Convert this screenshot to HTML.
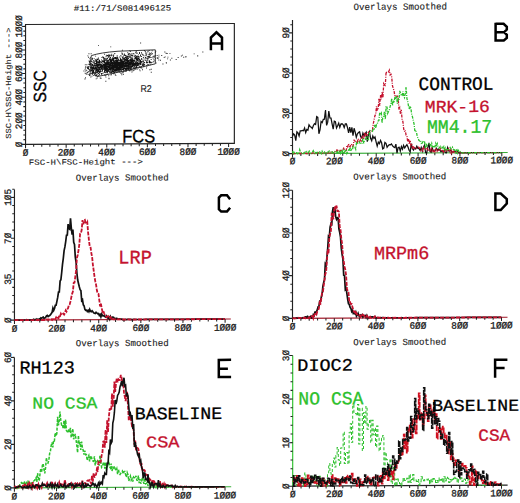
<!DOCTYPE html>
<html><head><meta charset="utf-8"><style>
html,body{margin:0;padding:0;background:#fff;width:520px;height:503px;overflow:hidden}
svg{display:block}
</style></head><body>
<svg width="520" height="503" viewBox="0 0 520 503">
<rect width="520" height="503" fill="#fff"/>
<g transform="matrix(1,-0.005,0,1,0,1.3)">
<rect x="25.54" y="23.37" width="208.81" height="119.82" fill="none" stroke="#222" stroke-width="1.15"/>
<path d="M25.54,143.19v3.8 M25.54,143.19h-4 M33.66,143.19v2.4 M41.78,143.19v2.4 M49.91,143.19v2.4 M58.03,143.19v2.4 M66.15,143.19v3.6 M74.27,143.19v2.4 M82.4,143.19v2.4 M90.52,143.19v2.4 M98.64,143.19v2.4 M106.76,143.19v3.6 M114.89,143.19v2.4 M123.01,143.19v2.4 M131.13,143.19v2.4 M139.25,143.19v2.4 M147.38,143.19v3.6 M155.5,143.19v2.4 M163.62,143.19v2.4 M171.74,143.19v2.4 M179.87,143.19v2.4 M187.99,143.19v3.6 M196.11,143.19v2.4 M204.23,143.19v2.4 M212.36,143.19v2.4 M220.48,143.19v2.4 M228.6,143.19v3.6 M25.54,138.47h-2.2 M25.54,133.75h-2.2 M25.54,129.03h-2.2 M25.54,124.31h-2.2 M25.54,119.6h-3.4 M25.54,114.88h-2.2 M25.54,110.16h-2.2 M25.54,105.44h-2.2 M25.54,100.72h-2.2 M25.54,96h-3.4 M25.54,91.28h-2.2 M25.54,86.56h-2.2 M25.54,81.85h-2.2 M25.54,77.13h-2.2 M25.54,72.41h-3.4 M25.54,67.69h-2.2 M25.54,62.97h-2.2 M25.54,58.25h-2.2 M25.54,53.53h-2.2 M25.54,48.81h-3.4 M25.54,44.1h-2.2 M25.54,39.38h-2.2 M25.54,34.66h-2.2 M25.54,29.94h-2.2 M25.54,25.22h-3.4" stroke="#222" stroke-width="1.05" fill="none"/>
<text transform="translate(25.54,154.5) scale(0.963,1)" font-size="9.7" font-family='"Liberation Mono", monospace' text-anchor="middle" fill="#222" stroke="#222" stroke-width="0.3" vector-effect="non-scaling-stroke">Ø</text>
<text transform="translate(66.15,154.5) scale(0.963,1)" font-size="9.7" font-family='"Liberation Mono", monospace' text-anchor="middle" fill="#222" stroke="#222" stroke-width="0.3" vector-effect="non-scaling-stroke">2ØØ</text>
<text transform="translate(106.76,154.5) scale(0.963,1)" font-size="9.7" font-family='"Liberation Mono", monospace' text-anchor="middle" fill="#222" stroke="#222" stroke-width="0.3" vector-effect="non-scaling-stroke">4ØØ</text>
<text transform="translate(147.38,154.5) scale(0.963,1)" font-size="9.7" font-family='"Liberation Mono", monospace' text-anchor="middle" fill="#222" stroke="#222" stroke-width="0.3" vector-effect="non-scaling-stroke">6ØØ</text>
<text transform="translate(187.99,154.5) scale(0.963,1)" font-size="9.7" font-family='"Liberation Mono", monospace' text-anchor="middle" fill="#222" stroke="#222" stroke-width="0.3" vector-effect="non-scaling-stroke">8ØØ</text>
<text transform="translate(228.6,154.5) scale(0.963,1)" font-size="9.7" font-family='"Liberation Mono", monospace' text-anchor="middle" fill="#222" stroke="#222" stroke-width="0.3" vector-effect="non-scaling-stroke">1ØØØ</text>
<text transform="translate(21.74,143.19) rotate(-90) scale(0.963,1)" font-size="9.7" font-family='"Liberation Mono", monospace' text-anchor="middle" fill="#222" stroke="#222" stroke-width="0.3" vector-effect="non-scaling-stroke">Ø</text>
<text transform="translate(21.74,119.6) rotate(-90) scale(0.963,1)" font-size="9.7" font-family='"Liberation Mono", monospace' text-anchor="middle" fill="#222" stroke="#222" stroke-width="0.3" vector-effect="non-scaling-stroke">2ØØ</text>
<text transform="translate(21.74,96) rotate(-90) scale(0.963,1)" font-size="9.7" font-family='"Liberation Mono", monospace' text-anchor="middle" fill="#222" stroke="#222" stroke-width="0.3" vector-effect="non-scaling-stroke">4ØØ</text>
<text transform="translate(21.74,72.41) rotate(-90) scale(0.963,1)" font-size="9.7" font-family='"Liberation Mono", monospace' text-anchor="middle" fill="#222" stroke="#222" stroke-width="0.3" vector-effect="non-scaling-stroke">6ØØ</text>
<text transform="translate(21.74,48.81) rotate(-90) scale(0.963,1)" font-size="9.7" font-family='"Liberation Mono", monospace' text-anchor="middle" fill="#222" stroke="#222" stroke-width="0.3" vector-effect="non-scaling-stroke">8ØØ</text>
<text transform="translate(21.74,25.22) rotate(-90) scale(0.963,1)" font-size="9.7" font-family='"Liberation Mono", monospace' text-anchor="middle" fill="#222" stroke="#222" stroke-width="0.3" vector-effect="non-scaling-stroke">1ØØØ</text>
<text transform="translate(73.77,10.03) scale(1.1049,1)" font-size="8.163" font-family='"Liberation Mono", monospace' fill="#111" stroke="#111" stroke-width="0.120" vector-effect="non-scaling-stroke">#11:/71/S081496125</text>
<text transform="translate(28.84,163.58) scale(1.1536,1)" font-size="7.861" font-family='"Liberation Mono", monospace' fill="#222" stroke="#222" stroke-width="0.120" vector-effect="non-scaling-stroke">FSC-H\FSC-Height ---&gt;</text>
<text transform="translate(10.98,137.5) rotate(-90) scale(1.1496,1)" font-size="7.701" font-family='"Liberation Mono", monospace' fill="#222" stroke="#222" stroke-width="0.120" vector-effect="non-scaling-stroke">SSC-H\SSC-Height ---&gt;</text>
<text transform="translate(122.29,141.91) scale(0.9041,1)" font-size="18.169" font-family='"Liberation Sans", sans-serif' fill="#000" stroke="#000" stroke-width="0.300" vector-effect="non-scaling-stroke">FCS</text>
<text transform="translate(45.72,101.41) rotate(-90) scale(0.8944,1)" font-size="17.606" font-family='"Liberation Sans", sans-serif' fill="#000" stroke="#000" stroke-width="0.300" vector-effect="non-scaling-stroke">SSC</text>
<text transform="translate(140.49,91.43) scale(0.8949,1)" font-size="9.857" font-family='"Liberation Sans", sans-serif' fill="#222" stroke="#222" stroke-width="0.120" vector-effect="non-scaling-stroke">R2</text>
<path d="M118.0,62.7h0.9v0.9h-0.9zM121.7,60.9h0.9v0.9h-0.9zM114.6,65.0h0.9v0.9h-0.9zM106.9,62.9h0.9v0.9h-0.9zM112.3,65.0h0.9v0.9h-0.9zM105.6,66.2h0.9v0.9h-0.9zM134.8,60.0h0.9v0.9h-0.9zM111.8,64.8h0.9v0.9h-0.9zM110.2,64.9h0.9v0.9h-0.9zM124.1,65.1h0.9v0.9h-0.9zM122.5,67.1h0.9v0.9h-0.9zM119.3,62.9h0.9v0.9h-0.9zM106.4,63.4h0.9v0.9h-0.9zM117.6,59.6h0.9v0.9h-0.9zM126.7,60.7h0.9v0.9h-0.9zM101.2,68.0h0.9v0.9h-0.9zM112.3,65.3h0.9v0.9h-0.9zM94.2,64.2h0.9v0.9h-0.9zM101.9,65.2h0.9v0.9h-0.9zM95.0,67.2h0.9v0.9h-0.9zM115.1,66.3h0.9v0.9h-0.9zM102.2,64.5h0.9v0.9h-0.9zM121.4,63.3h0.9v0.9h-0.9zM120.0,58.8h0.9v0.9h-0.9zM115.7,61.3h0.9v0.9h-0.9zM86.5,73.0h0.9v0.9h-0.9zM111.3,58.7h0.9v0.9h-0.9zM117.4,63.5h0.9v0.9h-0.9zM119.4,65.0h0.9v0.9h-0.9zM98.9,65.6h0.9v0.9h-0.9zM112.0,62.8h0.9v0.9h-0.9zM105.8,65.7h0.9v0.9h-0.9zM107.9,65.6h0.9v0.9h-0.9zM131.3,62.7h0.9v0.9h-0.9zM107.9,60.0h0.9v0.9h-0.9zM117.6,64.1h0.9v0.9h-0.9zM129.1,60.7h0.9v0.9h-0.9zM110.7,63.7h0.9v0.9h-0.9zM116.6,65.3h0.9v0.9h-0.9zM119.4,66.3h0.9v0.9h-0.9zM118.8,67.1h0.9v0.9h-0.9zM102.7,64.8h0.9v0.9h-0.9zM119.0,67.2h0.9v0.9h-0.9zM135.0,66.1h0.9v0.9h-0.9zM98.7,70.1h0.9v0.9h-0.9zM128.7,67.4h0.9v0.9h-0.9zM119.5,63.9h0.9v0.9h-0.9zM110.0,64.9h0.9v0.9h-0.9zM143.0,64.1h0.9v0.9h-0.9zM127.5,59.3h0.9v0.9h-0.9zM103.0,66.8h0.9v0.9h-0.9zM118.9,62.8h0.9v0.9h-0.9zM125.2,62.6h0.9v0.9h-0.9zM115.6,59.5h0.9v0.9h-0.9zM126.5,60.8h0.9v0.9h-0.9zM117.2,64.5h0.9v0.9h-0.9zM126.3,66.2h0.9v0.9h-0.9zM136.0,65.4h0.9v0.9h-0.9zM109.6,65.2h0.9v0.9h-0.9zM120.5,63.6h0.9v0.9h-0.9zM112.2,62.7h0.9v0.9h-0.9zM119.6,65.5h0.9v0.9h-0.9zM103.2,65.5h0.9v0.9h-0.9zM110.8,67.1h0.9v0.9h-0.9zM115.5,70.0h0.9v0.9h-0.9zM129.2,63.1h0.9v0.9h-0.9zM132.3,58.4h0.9v0.9h-0.9zM101.5,63.8h0.9v0.9h-0.9zM108.1,61.3h0.9v0.9h-0.9zM126.1,60.0h0.9v0.9h-0.9zM93.1,71.3h0.9v0.9h-0.9zM112.2,65.8h0.9v0.9h-0.9zM116.8,60.1h0.9v0.9h-0.9zM133.7,64.6h0.9v0.9h-0.9zM126.6,67.3h0.9v0.9h-0.9zM113.9,63.9h0.9v0.9h-0.9zM113.4,63.0h0.9v0.9h-0.9zM114.9,63.8h0.9v0.9h-0.9zM137.0,63.2h0.9v0.9h-0.9zM112.6,67.0h0.9v0.9h-0.9zM114.2,68.5h0.9v0.9h-0.9zM122.4,67.6h0.9v0.9h-0.9zM116.5,68.2h0.9v0.9h-0.9zM115.5,68.9h0.9v0.9h-0.9zM104.1,68.1h0.9v0.9h-0.9zM117.9,59.9h0.9v0.9h-0.9zM112.5,64.7h0.9v0.9h-0.9zM132.6,63.8h0.9v0.9h-0.9zM126.2,62.4h0.9v0.9h-0.9zM117.7,67.3h0.9v0.9h-0.9zM126.4,62.4h0.9v0.9h-0.9zM113.8,62.2h0.9v0.9h-0.9zM131.2,67.3h0.9v0.9h-0.9zM117.9,66.5h0.9v0.9h-0.9zM125.3,64.3h0.9v0.9h-0.9zM101.9,69.1h0.9v0.9h-0.9zM122.3,67.2h0.9v0.9h-0.9zM96.9,67.9h0.9v0.9h-0.9zM92.6,60.0h0.9v0.9h-0.9zM114.2,62.9h0.9v0.9h-0.9zM106.8,64.4h0.9v0.9h-0.9zM120.1,61.3h0.9v0.9h-0.9zM146.1,61.9h0.9v0.9h-0.9zM107.6,69.3h0.9v0.9h-0.9zM110.2,63.9h0.9v0.9h-0.9zM120.6,60.8h0.9v0.9h-0.9zM124.2,69.9h0.9v0.9h-0.9zM115.8,63.4h0.9v0.9h-0.9zM115.4,61.1h0.9v0.9h-0.9zM126.8,64.2h0.9v0.9h-0.9zM124.5,65.0h0.9v0.9h-0.9zM105.1,63.9h0.9v0.9h-0.9zM117.0,67.0h0.9v0.9h-0.9zM118.4,63.0h0.9v0.9h-0.9zM104.8,63.2h0.9v0.9h-0.9zM121.2,64.7h0.9v0.9h-0.9zM107.3,68.0h0.9v0.9h-0.9zM130.2,61.2h0.9v0.9h-0.9zM120.4,65.2h0.9v0.9h-0.9zM119.1,64.1h0.9v0.9h-0.9zM110.6,73.8h0.9v0.9h-0.9zM116.5,62.5h0.9v0.9h-0.9zM93.0,71.5h0.9v0.9h-0.9zM103.9,66.0h0.9v0.9h-0.9zM122.5,63.6h0.9v0.9h-0.9zM91.4,69.7h0.9v0.9h-0.9zM128.6,66.0h0.9v0.9h-0.9zM96.2,70.8h0.9v0.9h-0.9zM127.5,64.4h0.9v0.9h-0.9zM107.4,63.9h0.9v0.9h-0.9zM127.7,61.8h0.9v0.9h-0.9zM119.6,65.8h0.9v0.9h-0.9zM98.8,68.4h0.9v0.9h-0.9zM133.6,66.9h0.9v0.9h-0.9zM136.0,63.7h0.9v0.9h-0.9zM117.2,67.8h0.9v0.9h-0.9zM114.6,69.4h0.9v0.9h-0.9zM116.0,65.2h0.9v0.9h-0.9zM105.8,61.4h0.9v0.9h-0.9zM131.7,59.4h0.9v0.9h-0.9zM111.2,61.0h0.9v0.9h-0.9zM117.4,69.3h0.9v0.9h-0.9zM108.1,63.1h0.9v0.9h-0.9zM110.2,69.1h0.9v0.9h-0.9zM102.0,68.1h0.9v0.9h-0.9zM133.7,67.8h0.9v0.9h-0.9zM116.1,67.7h0.9v0.9h-0.9zM130.1,62.8h0.9v0.9h-0.9zM118.2,63.9h0.9v0.9h-0.9zM109.3,65.7h0.9v0.9h-0.9zM113.9,65.5h0.9v0.9h-0.9zM111.0,63.7h0.9v0.9h-0.9zM118.1,64.4h0.9v0.9h-0.9zM113.3,69.9h0.9v0.9h-0.9zM114.3,59.8h0.9v0.9h-0.9zM100.8,67.2h0.9v0.9h-0.9zM107.9,62.9h0.9v0.9h-0.9zM138.7,62.7h0.9v0.9h-0.9zM109.6,68.0h0.9v0.9h-0.9zM104.8,65.8h0.9v0.9h-0.9zM122.2,66.3h0.9v0.9h-0.9zM135.6,57.7h0.9v0.9h-0.9zM99.8,69.9h0.9v0.9h-0.9zM115.4,63.0h0.9v0.9h-0.9zM110.1,67.3h0.9v0.9h-0.9zM96.0,67.6h0.9v0.9h-0.9zM127.2,55.7h0.9v0.9h-0.9zM117.7,62.3h0.9v0.9h-0.9zM118.9,65.0h0.9v0.9h-0.9zM108.6,70.2h0.9v0.9h-0.9zM123.7,64.7h0.9v0.9h-0.9zM111.3,66.0h0.9v0.9h-0.9zM116.2,60.5h0.9v0.9h-0.9zM104.1,70.4h0.9v0.9h-0.9zM102.8,71.7h0.9v0.9h-0.9zM134.7,62.7h0.9v0.9h-0.9zM111.7,64.6h0.9v0.9h-0.9zM121.6,59.2h0.9v0.9h-0.9zM117.6,67.2h0.9v0.9h-0.9zM111.7,67.4h0.9v0.9h-0.9zM125.9,67.4h0.9v0.9h-0.9zM114.2,66.6h0.9v0.9h-0.9zM116.1,61.8h0.9v0.9h-0.9zM118.3,68.5h0.9v0.9h-0.9zM132.7,59.1h0.9v0.9h-0.9zM126.5,62.9h0.9v0.9h-0.9zM122.8,64.8h0.9v0.9h-0.9zM111.0,67.9h0.9v0.9h-0.9zM100.7,67.7h0.9v0.9h-0.9zM129.9,64.3h0.9v0.9h-0.9zM130.1,60.8h0.9v0.9h-0.9zM116.2,60.8h0.9v0.9h-0.9zM124.8,63.9h0.9v0.9h-0.9zM127.8,61.2h0.9v0.9h-0.9zM128.4,59.4h0.9v0.9h-0.9zM129.5,59.4h0.9v0.9h-0.9zM112.3,63.7h0.9v0.9h-0.9zM136.9,56.8h0.9v0.9h-0.9zM102.4,62.2h0.9v0.9h-0.9zM128.8,58.3h0.9v0.9h-0.9zM124.2,64.3h0.9v0.9h-0.9zM128.9,64.5h0.9v0.9h-0.9zM136.6,57.9h0.9v0.9h-0.9zM103.7,64.1h0.9v0.9h-0.9zM96.9,69.7h0.9v0.9h-0.9zM128.2,62.7h0.9v0.9h-0.9zM105.3,65.0h0.9v0.9h-0.9zM117.8,69.6h0.9v0.9h-0.9zM128.5,62.3h0.9v0.9h-0.9zM97.5,63.4h0.9v0.9h-0.9zM91.6,63.6h0.9v0.9h-0.9zM121.2,65.1h0.9v0.9h-0.9zM118.6,65.3h0.9v0.9h-0.9zM114.9,60.7h0.9v0.9h-0.9zM118.5,61.5h0.9v0.9h-0.9zM107.2,67.3h0.9v0.9h-0.9zM99.1,68.4h0.9v0.9h-0.9zM115.9,62.8h0.9v0.9h-0.9zM105.9,67.8h0.9v0.9h-0.9zM97.5,68.6h0.9v0.9h-0.9zM124.3,58.4h0.9v0.9h-0.9zM117.2,63.6h0.9v0.9h-0.9zM123.1,65.2h0.9v0.9h-0.9zM105.6,64.2h0.9v0.9h-0.9zM109.8,59.0h0.9v0.9h-0.9zM105.5,65.1h0.9v0.9h-0.9zM106.9,68.0h0.9v0.9h-0.9zM120.4,69.0h0.9v0.9h-0.9zM108.2,59.0h0.9v0.9h-0.9zM122.5,71.8h0.9v0.9h-0.9zM122.2,60.6h0.9v0.9h-0.9zM143.3,64.4h0.9v0.9h-0.9zM100.6,70.2h0.9v0.9h-0.9zM129.1,66.2h0.9v0.9h-0.9zM116.9,65.1h0.9v0.9h-0.9zM117.8,61.0h0.9v0.9h-0.9zM99.9,68.5h0.9v0.9h-0.9zM112.2,63.0h0.9v0.9h-0.9zM127.3,55.9h0.9v0.9h-0.9zM119.0,66.5h0.9v0.9h-0.9zM114.4,70.4h0.9v0.9h-0.9zM132.4,60.1h0.9v0.9h-0.9zM117.7,68.9h0.9v0.9h-0.9zM90.5,72.4h0.9v0.9h-0.9zM109.3,70.1h0.9v0.9h-0.9zM93.4,67.3h0.9v0.9h-0.9zM111.4,64.7h0.9v0.9h-0.9zM134.7,56.0h0.9v0.9h-0.9zM118.6,59.3h0.9v0.9h-0.9zM103.3,66.5h0.9v0.9h-0.9zM106.2,62.9h0.9v0.9h-0.9zM132.1,62.4h0.9v0.9h-0.9zM120.0,63.9h0.9v0.9h-0.9zM118.6,70.2h0.9v0.9h-0.9zM117.3,68.5h0.9v0.9h-0.9zM118.5,64.3h0.9v0.9h-0.9zM128.1,67.0h0.9v0.9h-0.9zM124.9,61.4h0.9v0.9h-0.9zM120.7,63.2h0.9v0.9h-0.9zM105.0,68.7h0.9v0.9h-0.9zM124.4,60.0h0.9v0.9h-0.9zM109.4,64.6h0.9v0.9h-0.9zM131.7,59.0h0.9v0.9h-0.9zM102.1,66.7h0.9v0.9h-0.9zM116.3,69.6h0.9v0.9h-0.9zM117.9,62.2h0.9v0.9h-0.9zM101.4,67.1h0.9v0.9h-0.9zM139.5,59.3h0.9v0.9h-0.9zM136.3,58.9h0.9v0.9h-0.9zM112.2,61.4h0.9v0.9h-0.9zM127.6,67.7h0.9v0.9h-0.9zM122.7,71.0h0.9v0.9h-0.9zM85.3,69.7h0.9v0.9h-0.9zM121.1,62.0h0.9v0.9h-0.9zM117.2,66.7h0.9v0.9h-0.9zM119.0,63.4h0.9v0.9h-0.9zM104.5,68.4h0.9v0.9h-0.9zM114.6,65.8h0.9v0.9h-0.9zM115.8,65.6h0.9v0.9h-0.9zM132.9,64.6h0.9v0.9h-0.9zM122.2,62.3h0.9v0.9h-0.9zM117.9,63.3h0.9v0.9h-0.9zM137.1,57.1h0.9v0.9h-0.9zM111.1,64.0h0.9v0.9h-0.9zM113.1,60.8h0.9v0.9h-0.9zM95.3,66.7h0.9v0.9h-0.9zM137.6,59.4h0.9v0.9h-0.9zM130.1,63.4h0.9v0.9h-0.9zM129.5,64.5h0.9v0.9h-0.9zM126.4,59.3h0.9v0.9h-0.9zM119.4,61.9h0.9v0.9h-0.9zM120.7,61.4h0.9v0.9h-0.9zM114.8,67.1h0.9v0.9h-0.9zM115.5,69.9h0.9v0.9h-0.9zM118.7,67.0h0.9v0.9h-0.9zM136.9,61.3h0.9v0.9h-0.9zM124.9,68.1h0.9v0.9h-0.9zM117.3,60.0h0.9v0.9h-0.9zM110.8,69.8h0.9v0.9h-0.9zM110.1,63.4h0.9v0.9h-0.9zM138.0,53.8h0.9v0.9h-0.9zM118.8,69.1h0.9v0.9h-0.9zM113.7,61.9h0.9v0.9h-0.9zM104.1,66.6h0.9v0.9h-0.9zM117.2,63.9h0.9v0.9h-0.9zM128.9,63.5h0.9v0.9h-0.9zM113.1,60.6h0.9v0.9h-0.9zM115.2,62.8h0.9v0.9h-0.9zM115.2,66.2h0.9v0.9h-0.9zM119.4,65.0h0.9v0.9h-0.9zM98.1,70.4h0.9v0.9h-0.9zM115.1,65.1h0.9v0.9h-0.9zM107.3,72.8h0.9v0.9h-0.9zM129.1,61.1h0.9v0.9h-0.9zM108.4,66.4h0.9v0.9h-0.9zM125.2,57.9h0.9v0.9h-0.9zM137.1,58.5h0.9v0.9h-0.9zM114.1,68.9h0.9v0.9h-0.9zM110.5,62.5h0.9v0.9h-0.9zM120.4,65.8h0.9v0.9h-0.9zM118.0,64.3h0.9v0.9h-0.9zM105.6,62.8h0.9v0.9h-0.9zM123.8,62.8h0.9v0.9h-0.9zM143.2,60.0h0.9v0.9h-0.9zM114.8,63.4h0.9v0.9h-0.9zM115.5,67.0h0.9v0.9h-0.9zM104.9,67.9h0.9v0.9h-0.9zM122.0,62.3h0.9v0.9h-0.9zM102.4,63.6h0.9v0.9h-0.9zM104.2,66.9h0.9v0.9h-0.9zM134.0,62.4h0.9v0.9h-0.9zM106.7,68.9h0.9v0.9h-0.9zM131.5,70.9h0.9v0.9h-0.9zM137.1,64.8h0.9v0.9h-0.9zM121.2,64.0h0.9v0.9h-0.9zM124.9,63.2h0.9v0.9h-0.9zM142.4,59.1h0.9v0.9h-0.9zM115.5,62.1h0.9v0.9h-0.9zM110.6,62.3h0.9v0.9h-0.9zM101.1,65.2h0.9v0.9h-0.9zM118.5,63.1h0.9v0.9h-0.9zM136.5,64.6h0.9v0.9h-0.9zM130.0,61.9h0.9v0.9h-0.9zM106.2,65.3h0.9v0.9h-0.9zM107.3,62.1h0.9v0.9h-0.9zM111.7,70.1h0.9v0.9h-0.9zM121.7,65.6h0.9v0.9h-0.9zM115.4,70.2h0.9v0.9h-0.9zM120.7,66.6h0.9v0.9h-0.9zM121.7,68.5h0.9v0.9h-0.9zM114.3,64.2h0.9v0.9h-0.9zM117.5,66.7h0.9v0.9h-0.9zM120.6,72.3h0.9v0.9h-0.9zM117.0,60.9h0.9v0.9h-0.9zM124.3,67.3h0.9v0.9h-0.9zM141.4,66.9h0.9v0.9h-0.9zM125.4,64.9h0.9v0.9h-0.9zM118.7,66.7h0.9v0.9h-0.9zM96.9,70.8h0.9v0.9h-0.9zM122.8,61.9h0.9v0.9h-0.9zM93.7,68.5h0.9v0.9h-0.9zM100.4,63.9h0.9v0.9h-0.9zM128.7,61.2h0.9v0.9h-0.9zM126.8,61.6h0.9v0.9h-0.9zM116.1,64.3h0.9v0.9h-0.9zM96.6,67.4h0.9v0.9h-0.9zM113.4,66.4h0.9v0.9h-0.9zM109.5,61.1h0.9v0.9h-0.9zM126.0,69.7h0.9v0.9h-0.9zM146.2,64.8h0.9v0.9h-0.9zM120.7,66.4h0.9v0.9h-0.9zM108.3,64.5h0.9v0.9h-0.9zM103.4,65.9h0.9v0.9h-0.9zM117.3,66.3h0.9v0.9h-0.9zM115.8,66.0h0.9v0.9h-0.9zM103.6,61.0h0.9v0.9h-0.9zM119.5,66.6h0.9v0.9h-0.9zM131.9,57.2h0.9v0.9h-0.9zM131.3,66.0h0.9v0.9h-0.9zM131.6,64.1h0.9v0.9h-0.9zM112.1,64.8h0.9v0.9h-0.9zM124.4,68.0h0.9v0.9h-0.9zM116.3,61.0h0.9v0.9h-0.9zM113.1,65.6h0.9v0.9h-0.9zM113.8,69.5h0.9v0.9h-0.9zM101.8,65.8h0.9v0.9h-0.9zM100.0,65.3h0.9v0.9h-0.9zM127.9,63.7h0.9v0.9h-0.9zM115.6,63.4h0.9v0.9h-0.9zM120.7,68.9h0.9v0.9h-0.9zM130.5,60.3h0.9v0.9h-0.9zM96.3,69.7h0.9v0.9h-0.9zM108.2,61.8h0.9v0.9h-0.9zM120.2,66.3h0.9v0.9h-0.9zM122.9,63.6h0.9v0.9h-0.9zM113.3,57.1h0.9v0.9h-0.9zM130.9,63.0h0.9v0.9h-0.9zM120.6,60.9h0.9v0.9h-0.9zM102.8,64.9h0.9v0.9h-0.9zM106.4,70.6h0.9v0.9h-0.9zM128.1,59.9h0.9v0.9h-0.9zM123.8,60.6h0.9v0.9h-0.9zM94.3,71.7h0.9v0.9h-0.9zM134.8,62.9h0.9v0.9h-0.9zM125.5,68.4h0.9v0.9h-0.9zM134.8,63.6h0.9v0.9h-0.9zM113.2,62.3h0.9v0.9h-0.9zM114.3,64.7h0.9v0.9h-0.9zM103.9,69.9h0.9v0.9h-0.9zM149.7,63.7h0.9v0.9h-0.9zM115.8,64.7h0.9v0.9h-0.9zM137.8,62.4h0.9v0.9h-0.9zM109.9,65.1h0.9v0.9h-0.9zM120.0,62.5h0.9v0.9h-0.9zM97.1,72.9h0.9v0.9h-0.9zM113.2,65.1h0.9v0.9h-0.9zM130.3,59.6h0.9v0.9h-0.9zM102.4,64.8h0.9v0.9h-0.9zM131.4,65.2h0.9v0.9h-0.9zM122.2,66.0h0.9v0.9h-0.9zM105.0,65.6h0.9v0.9h-0.9zM111.7,63.1h0.9v0.9h-0.9zM112.3,65.2h0.9v0.9h-0.9zM117.4,59.4h0.9v0.9h-0.9zM111.3,61.2h0.9v0.9h-0.9zM107.7,68.1h0.9v0.9h-0.9zM114.2,63.4h0.9v0.9h-0.9zM105.2,67.1h0.9v0.9h-0.9zM101.9,70.1h0.9v0.9h-0.9zM117.4,66.6h0.9v0.9h-0.9zM129.0,63.3h0.9v0.9h-0.9zM98.9,73.3h0.9v0.9h-0.9zM118.0,66.5h0.9v0.9h-0.9zM109.9,64.3h0.9v0.9h-0.9zM105.8,68.2h0.9v0.9h-0.9zM128.7,64.5h0.9v0.9h-0.9zM111.5,62.6h0.9v0.9h-0.9zM136.7,62.6h0.9v0.9h-0.9zM108.3,65.1h0.9v0.9h-0.9zM122.8,57.9h0.9v0.9h-0.9zM115.2,64.3h0.9v0.9h-0.9zM108.6,64.7h0.9v0.9h-0.9zM125.3,62.3h0.9v0.9h-0.9zM116.1,59.6h0.9v0.9h-0.9zM125.5,62.5h0.9v0.9h-0.9zM117.4,64.4h0.9v0.9h-0.9zM104.4,66.4h0.9v0.9h-0.9zM116.7,61.1h0.9v0.9h-0.9zM118.6,66.4h0.9v0.9h-0.9zM130.0,59.4h0.9v0.9h-0.9zM106.7,65.1h0.9v0.9h-0.9zM117.5,68.6h0.9v0.9h-0.9zM96.5,64.8h0.9v0.9h-0.9zM126.1,62.0h0.9v0.9h-0.9zM104.5,69.4h0.9v0.9h-0.9zM95.4,65.9h0.9v0.9h-0.9zM117.3,63.7h0.9v0.9h-0.9zM131.8,63.6h0.9v0.9h-0.9zM98.9,69.9h0.9v0.9h-0.9zM104.4,59.3h0.9v0.9h-0.9zM108.7,63.0h0.9v0.9h-0.9zM103.9,63.0h0.9v0.9h-0.9zM122.7,60.6h0.9v0.9h-0.9zM107.9,63.0h0.9v0.9h-0.9zM109.0,62.9h0.9v0.9h-0.9zM125.3,64.6h0.9v0.9h-0.9zM108.6,62.8h0.9v0.9h-0.9zM123.4,64.2h0.9v0.9h-0.9zM105.9,67.1h0.9v0.9h-0.9zM102.8,64.0h0.9v0.9h-0.9zM95.1,67.5h0.9v0.9h-0.9zM141.3,66.8h0.9v0.9h-0.9zM114.0,65.9h0.9v0.9h-0.9zM121.0,62.2h0.9v0.9h-0.9zM117.6,64.3h0.9v0.9h-0.9zM120.0,61.4h0.9v0.9h-0.9zM118.6,65.2h0.9v0.9h-0.9zM141.9,64.4h0.9v0.9h-0.9zM105.0,63.5h0.9v0.9h-0.9zM98.5,66.1h0.9v0.9h-0.9zM105.4,69.4h0.9v0.9h-0.9zM101.3,64.9h0.9v0.9h-0.9zM127.3,64.0h0.9v0.9h-0.9zM128.3,60.2h0.9v0.9h-0.9zM106.0,63.4h0.9v0.9h-0.9zM100.6,64.9h0.9v0.9h-0.9zM113.6,71.5h0.9v0.9h-0.9zM135.4,61.3h0.9v0.9h-0.9zM124.6,62.0h0.9v0.9h-0.9zM104.6,65.5h0.9v0.9h-0.9zM131.0,65.0h0.9v0.9h-0.9zM104.5,66.6h0.9v0.9h-0.9zM114.4,71.1h0.9v0.9h-0.9zM99.2,67.3h0.9v0.9h-0.9zM105.8,70.2h0.9v0.9h-0.9zM135.3,63.3h0.9v0.9h-0.9zM128.3,65.1h0.9v0.9h-0.9zM113.0,60.7h0.9v0.9h-0.9zM107.1,65.4h0.9v0.9h-0.9zM94.3,67.0h0.9v0.9h-0.9zM113.1,64.3h0.9v0.9h-0.9zM117.6,58.1h0.9v0.9h-0.9zM116.9,67.3h0.9v0.9h-0.9zM116.8,63.5h0.9v0.9h-0.9zM104.0,64.8h0.9v0.9h-0.9zM117.2,63.8h0.9v0.9h-0.9zM117.5,63.9h0.9v0.9h-0.9zM134.1,63.9h0.9v0.9h-0.9zM141.3,58.0h0.9v0.9h-0.9zM116.3,61.9h0.9v0.9h-0.9zM108.4,66.5h0.9v0.9h-0.9zM117.2,65.0h0.9v0.9h-0.9zM110.4,64.2h0.9v0.9h-0.9zM108.7,63.8h0.9v0.9h-0.9zM117.3,62.1h0.9v0.9h-0.9zM105.0,65.8h0.9v0.9h-0.9zM125.6,67.2h0.9v0.9h-0.9zM116.7,61.5h0.9v0.9h-0.9zM121.1,68.7h0.9v0.9h-0.9zM115.7,67.3h0.9v0.9h-0.9zM108.9,64.2h0.9v0.9h-0.9zM106.2,68.2h0.9v0.9h-0.9zM115.0,60.4h0.9v0.9h-0.9zM111.1,60.1h0.9v0.9h-0.9zM120.9,60.3h0.9v0.9h-0.9zM117.9,63.3h0.9v0.9h-0.9zM101.0,65.5h0.9v0.9h-0.9zM118.8,62.8h0.9v0.9h-0.9zM101.2,66.7h0.9v0.9h-0.9zM110.3,59.0h0.9v0.9h-0.9zM114.3,66.4h0.9v0.9h-0.9zM92.1,63.2h0.9v0.9h-0.9zM119.1,62.4h0.9v0.9h-0.9zM119.9,63.0h0.9v0.9h-0.9zM116.0,61.2h0.9v0.9h-0.9zM112.7,61.0h0.9v0.9h-0.9zM113.3,62.0h0.9v0.9h-0.9zM105.8,65.9h0.9v0.9h-0.9zM114.6,66.6h0.9v0.9h-0.9zM111.1,67.0h0.9v0.9h-0.9zM119.1,61.4h0.9v0.9h-0.9zM102.9,63.8h0.9v0.9h-0.9zM120.9,61.4h0.9v0.9h-0.9zM119.8,65.6h0.9v0.9h-0.9zM116.2,58.6h0.9v0.9h-0.9zM112.5,68.8h0.9v0.9h-0.9zM124.9,62.2h0.9v0.9h-0.9zM97.2,64.5h0.9v0.9h-0.9zM123.8,64.8h0.9v0.9h-0.9zM121.0,67.2h0.9v0.9h-0.9zM121.5,65.1h0.9v0.9h-0.9zM122.8,67.1h0.9v0.9h-0.9zM109.8,65.8h0.9v0.9h-0.9zM114.8,68.6h0.9v0.9h-0.9zM126.0,67.3h0.9v0.9h-0.9zM123.4,63.6h0.9v0.9h-0.9zM120.6,68.5h0.9v0.9h-0.9zM99.1,67.2h0.9v0.9h-0.9zM124.7,64.0h0.9v0.9h-0.9zM132.6,60.0h0.9v0.9h-0.9zM130.6,62.2h0.9v0.9h-0.9zM120.9,66.5h0.9v0.9h-0.9zM98.5,62.8h0.9v0.9h-0.9zM129.8,65.1h0.9v0.9h-0.9zM116.2,65.7h0.9v0.9h-0.9zM86.3,69.0h0.9v0.9h-0.9zM122.7,57.3h0.9v0.9h-0.9zM99.3,66.3h0.9v0.9h-0.9zM101.8,68.3h0.9v0.9h-0.9zM110.1,63.1h0.9v0.9h-0.9zM133.9,62.9h0.9v0.9h-0.9zM113.4,57.9h0.9v0.9h-0.9zM121.4,66.1h0.9v0.9h-0.9zM139.8,60.0h0.9v0.9h-0.9zM137.9,64.8h0.9v0.9h-0.9zM116.7,59.1h0.9v0.9h-0.9zM115.0,66.9h0.9v0.9h-0.9zM102.2,65.6h0.9v0.9h-0.9zM109.3,67.9h0.9v0.9h-0.9zM123.3,61.1h0.9v0.9h-0.9zM122.9,62.1h0.9v0.9h-0.9zM119.4,71.1h0.9v0.9h-0.9zM130.4,60.6h0.9v0.9h-0.9zM108.3,63.5h0.9v0.9h-0.9zM117.3,63.7h0.9v0.9h-0.9zM127.1,60.4h0.9v0.9h-0.9zM125.3,67.2h0.9v0.9h-0.9zM131.4,68.1h0.9v0.9h-0.9zM123.0,61.8h0.9v0.9h-0.9zM114.1,59.8h0.9v0.9h-0.9zM122.5,67.5h0.9v0.9h-0.9zM105.5,69.3h0.9v0.9h-0.9zM97.5,69.3h0.9v0.9h-0.9zM125.3,67.1h0.9v0.9h-0.9zM117.3,62.0h0.9v0.9h-0.9zM121.9,63.5h0.9v0.9h-0.9zM96.8,62.8h0.9v0.9h-0.9zM113.4,60.8h0.9v0.9h-0.9zM110.5,68.3h0.9v0.9h-0.9zM107.2,63.7h0.9v0.9h-0.9zM89.8,74.6h0.9v0.9h-0.9zM113.8,65.2h0.9v0.9h-0.9zM129.2,61.3h0.9v0.9h-0.9zM122.8,66.3h0.9v0.9h-0.9zM110.5,70.8h0.9v0.9h-0.9zM117.8,66.0h0.9v0.9h-0.9zM127.5,59.8h0.9v0.9h-0.9zM83.5,69.6h0.9v0.9h-0.9zM116.4,68.8h0.9v0.9h-0.9zM124.8,62.2h0.9v0.9h-0.9zM126.5,61.2h0.9v0.9h-0.9zM139.3,65.1h0.9v0.9h-0.9zM132.2,63.3h0.9v0.9h-0.9zM121.9,60.7h0.9v0.9h-0.9zM121.8,62.9h0.9v0.9h-0.9zM127.8,61.1h0.9v0.9h-0.9zM111.3,66.2h0.9v0.9h-0.9zM117.5,64.9h0.9v0.9h-0.9zM129.3,66.6h0.9v0.9h-0.9zM142.5,63.8h0.9v0.9h-0.9zM116.0,60.0h0.9v0.9h-0.9zM117.4,65.8h0.9v0.9h-0.9zM120.5,66.9h0.9v0.9h-0.9zM134.8,63.9h0.9v0.9h-0.9zM117.6,67.6h0.9v0.9h-0.9zM136.4,60.7h0.9v0.9h-0.9zM105.9,63.0h0.9v0.9h-0.9zM115.7,67.5h0.9v0.9h-0.9zM115.5,61.6h0.9v0.9h-0.9zM127.8,56.9h0.9v0.9h-0.9zM131.1,66.1h0.9v0.9h-0.9zM99.1,64.5h0.9v0.9h-0.9zM106.6,64.9h0.9v0.9h-0.9zM122.2,59.8h0.9v0.9h-0.9zM109.8,61.5h0.9v0.9h-0.9zM99.0,63.2h0.9v0.9h-0.9zM131.0,61.9h0.9v0.9h-0.9zM124.2,64.9h0.9v0.9h-0.9zM124.2,56.9h0.9v0.9h-0.9zM112.1,67.4h0.9v0.9h-0.9zM130.9,59.5h0.9v0.9h-0.9zM115.0,61.6h0.9v0.9h-0.9zM131.7,64.9h0.9v0.9h-0.9zM106.6,65.6h0.9v0.9h-0.9zM107.3,61.1h0.9v0.9h-0.9zM120.6,69.7h0.9v0.9h-0.9zM109.2,62.9h0.9v0.9h-0.9zM126.4,64.3h0.9v0.9h-0.9zM121.3,64.7h0.9v0.9h-0.9zM106.5,70.1h0.9v0.9h-0.9zM118.9,63.0h0.9v0.9h-0.9zM113.6,68.0h0.9v0.9h-0.9zM129.4,60.9h0.9v0.9h-0.9zM110.1,68.8h0.9v0.9h-0.9zM112.5,62.8h0.9v0.9h-0.9zM133.1,61.7h0.9v0.9h-0.9zM146.0,67.0h0.9v0.9h-0.9zM143.0,62.6h0.9v0.9h-0.9zM118.8,64.7h0.9v0.9h-0.9zM120.7,70.9h0.9v0.9h-0.9zM137.2,63.4h0.9v0.9h-0.9zM116.4,62.2h0.9v0.9h-0.9zM105.8,68.1h0.9v0.9h-0.9zM119.5,60.8h0.9v0.9h-0.9zM123.6,67.2h0.9v0.9h-0.9zM107.6,69.3h0.9v0.9h-0.9zM97.4,65.1h0.9v0.9h-0.9zM100.0,64.7h0.9v0.9h-0.9zM126.3,64.1h0.9v0.9h-0.9zM108.5,65.6h0.9v0.9h-0.9zM116.2,61.8h0.9v0.9h-0.9zM120.7,65.9h0.9v0.9h-0.9zM125.7,57.5h0.9v0.9h-0.9zM113.8,63.7h0.9v0.9h-0.9zM124.2,62.6h0.9v0.9h-0.9zM106.9,64.9h0.9v0.9h-0.9zM113.5,65.9h0.9v0.9h-0.9zM105.2,62.3h0.9v0.9h-0.9zM132.1,64.6h0.9v0.9h-0.9zM117.7,64.0h0.9v0.9h-0.9zM108.8,63.6h0.9v0.9h-0.9zM113.6,60.9h0.9v0.9h-0.9zM115.2,61.3h0.9v0.9h-0.9zM126.8,64.6h0.9v0.9h-0.9zM98.1,63.9h0.9v0.9h-0.9zM105.0,66.2h0.9v0.9h-0.9zM113.3,68.2h0.9v0.9h-0.9zM149.7,63.9h0.9v0.9h-0.9zM129.9,67.8h0.9v0.9h-0.9zM116.6,63.8h0.9v0.9h-0.9zM126.9,60.2h0.9v0.9h-0.9zM143.7,64.6h0.9v0.9h-0.9zM115.1,65.8h0.9v0.9h-0.9zM113.4,68.4h0.9v0.9h-0.9zM133.1,62.8h0.9v0.9h-0.9zM124.2,67.4h0.9v0.9h-0.9zM126.4,66.1h0.9v0.9h-0.9zM111.6,67.4h0.9v0.9h-0.9zM142.1,63.2h0.9v0.9h-0.9zM139.4,63.2h0.9v0.9h-0.9zM125.1,64.4h0.9v0.9h-0.9zM126.6,64.2h0.9v0.9h-0.9zM92.7,70.4h0.9v0.9h-0.9zM126.0,62.0h0.9v0.9h-0.9zM115.6,70.0h0.9v0.9h-0.9zM123.4,63.5h0.9v0.9h-0.9zM126.5,66.5h0.9v0.9h-0.9zM113.7,64.7h0.9v0.9h-0.9zM96.9,66.2h0.9v0.9h-0.9zM122.6,70.1h0.9v0.9h-0.9zM108.7,64.6h0.9v0.9h-0.9zM113.9,61.1h0.9v0.9h-0.9zM110.4,63.2h0.9v0.9h-0.9zM113.7,64.0h0.9v0.9h-0.9zM89.1,74.3h0.9v0.9h-0.9zM133.2,63.4h0.9v0.9h-0.9zM121.2,66.9h0.9v0.9h-0.9zM131.9,59.9h0.9v0.9h-0.9zM142.7,62.7h0.9v0.9h-0.9zM118.3,66.5h0.9v0.9h-0.9zM95.5,72.5h0.9v0.9h-0.9zM106.8,63.7h0.9v0.9h-0.9zM102.9,68.0h0.9v0.9h-0.9zM111.7,66.1h0.9v0.9h-0.9zM119.0,61.3h0.9v0.9h-0.9zM93.0,67.3h0.9v0.9h-0.9zM122.3,63.2h0.9v0.9h-0.9zM99.1,59.7h0.9v0.9h-0.9zM121.7,65.9h0.9v0.9h-0.9zM116.6,66.3h0.9v0.9h-0.9zM114.1,63.6h0.9v0.9h-0.9zM117.1,60.6h0.9v0.9h-0.9zM111.3,69.7h0.9v0.9h-0.9zM110.3,66.2h0.9v0.9h-0.9zM97.0,70.0h0.9v0.9h-0.9zM117.6,68.8h0.9v0.9h-0.9zM141.1,60.3h0.9v0.9h-0.9zM142.8,64.1h0.9v0.9h-0.9zM134.5,61.9h0.9v0.9h-0.9zM126.8,63.3h0.9v0.9h-0.9zM109.5,65.2h0.9v0.9h-0.9zM136.0,62.4h0.9v0.9h-0.9zM117.3,67.9h0.9v0.9h-0.9zM117.1,65.0h0.9v0.9h-0.9zM114.4,64.4h0.9v0.9h-0.9zM119.1,63.5h0.9v0.9h-0.9zM112.6,66.1h0.9v0.9h-0.9zM117.0,61.9h0.9v0.9h-0.9zM104.4,64.5h0.9v0.9h-0.9zM113.3,64.9h0.9v0.9h-0.9zM146.5,59.5h0.9v0.9h-0.9zM117.1,64.2h0.9v0.9h-0.9zM115.0,63.0h0.9v0.9h-0.9zM124.7,69.7h0.9v0.9h-0.9zM126.9,67.5h0.9v0.9h-0.9zM104.1,67.4h0.9v0.9h-0.9zM115.4,64.6h0.9v0.9h-0.9zM129.5,69.7h0.9v0.9h-0.9zM121.4,65.1h0.9v0.9h-0.9zM119.5,64.1h0.9v0.9h-0.9zM137.4,63.2h0.9v0.9h-0.9zM109.5,66.4h0.9v0.9h-0.9zM119.0,68.6h0.9v0.9h-0.9zM111.5,65.2h0.9v0.9h-0.9zM136.6,68.6h0.9v0.9h-0.9zM93.6,64.6h0.9v0.9h-0.9zM109.6,67.5h0.9v0.9h-0.9zM111.4,62.2h0.9v0.9h-0.9zM126.3,69.0h0.9v0.9h-0.9zM125.6,62.6h0.9v0.9h-0.9zM135.4,62.3h0.9v0.9h-0.9zM98.3,69.5h0.9v0.9h-0.9zM127.4,67.2h0.9v0.9h-0.9zM114.3,61.6h0.9v0.9h-0.9zM109.7,64.4h0.9v0.9h-0.9zM124.7,59.5h0.9v0.9h-0.9zM106.5,66.2h0.9v0.9h-0.9zM92.0,67.2h0.9v0.9h-0.9zM113.4,64.0h0.9v0.9h-0.9zM99.3,64.6h0.9v0.9h-0.9zM109.9,64.3h0.9v0.9h-0.9zM122.6,61.7h0.9v0.9h-0.9zM121.9,65.6h0.9v0.9h-0.9zM137.8,66.8h0.9v0.9h-0.9zM115.5,59.0h0.9v0.9h-0.9zM98.8,66.3h0.9v0.9h-0.9zM108.5,64.3h0.9v0.9h-0.9zM106.5,67.3h0.9v0.9h-0.9zM102.8,63.4h0.9v0.9h-0.9zM123.4,63.4h0.9v0.9h-0.9zM109.9,62.3h0.9v0.9h-0.9zM93.3,69.4h0.9v0.9h-0.9zM126.7,63.8h0.9v0.9h-0.9zM116.6,64.2h0.9v0.9h-0.9zM122.5,65.1h0.9v0.9h-0.9zM119.3,63.6h0.9v0.9h-0.9zM125.9,58.9h0.9v0.9h-0.9zM118.5,66.2h0.9v0.9h-0.9zM133.5,63.6h0.9v0.9h-0.9zM123.3,63.4h0.9v0.9h-0.9zM122.9,66.9h0.9v0.9h-0.9zM123.1,67.6h0.9v0.9h-0.9zM99.8,63.3h0.9v0.9h-0.9zM115.9,62.4h0.9v0.9h-0.9zM114.8,69.5h0.9v0.9h-0.9zM120.6,68.4h0.9v0.9h-0.9zM101.0,64.2h0.9v0.9h-0.9zM138.4,58.6h0.9v0.9h-0.9zM119.3,62.4h0.9v0.9h-0.9zM102.9,64.7h0.9v0.9h-0.9zM96.6,62.2h0.9v0.9h-0.9zM114.5,65.0h0.9v0.9h-0.9zM116.9,60.8h0.9v0.9h-0.9zM109.0,61.9h0.9v0.9h-0.9zM119.2,67.1h0.9v0.9h-0.9zM110.0,63.4h0.9v0.9h-0.9zM124.9,63.5h0.9v0.9h-0.9zM108.9,67.4h0.9v0.9h-0.9zM117.5,67.0h0.9v0.9h-0.9zM130.2,62.1h0.9v0.9h-0.9zM150.1,60.9h0.9v0.9h-0.9zM105.4,63.5h0.9v0.9h-0.9zM112.2,70.4h0.9v0.9h-0.9zM107.5,67.6h0.9v0.9h-0.9zM127.8,60.1h0.9v0.9h-0.9zM103.6,66.2h0.9v0.9h-0.9zM111.9,67.3h0.9v0.9h-0.9zM117.6,66.0h0.9v0.9h-0.9zM105.8,71.4h0.9v0.9h-0.9zM106.0,70.0h0.9v0.9h-0.9zM112.1,63.6h0.9v0.9h-0.9zM91.7,67.2h0.9v0.9h-0.9zM99.9,62.7h0.9v0.9h-0.9zM112.8,65.8h0.9v0.9h-0.9zM119.9,64.7h0.9v0.9h-0.9zM95.8,67.3h0.9v0.9h-0.9zM112.2,58.9h0.9v0.9h-0.9zM128.0,61.3h0.9v0.9h-0.9zM124.9,64.0h0.9v0.9h-0.9zM117.0,60.8h0.9v0.9h-0.9zM106.9,63.2h0.9v0.9h-0.9zM125.9,62.5h0.9v0.9h-0.9zM110.8,66.3h0.9v0.9h-0.9zM103.4,65.7h0.9v0.9h-0.9zM108.0,63.0h0.9v0.9h-0.9zM136.1,64.8h0.9v0.9h-0.9zM120.8,62.6h0.9v0.9h-0.9zM132.5,61.3h0.9v0.9h-0.9zM112.0,61.0h0.9v0.9h-0.9zM129.7,60.8h0.9v0.9h-0.9zM110.5,67.3h0.9v0.9h-0.9zM116.0,59.9h0.9v0.9h-0.9zM149.1,60.7h0.9v0.9h-0.9zM127.6,65.5h0.9v0.9h-0.9zM111.7,64.1h0.9v0.9h-0.9zM116.9,65.3h0.9v0.9h-0.9zM122.1,60.7h0.9v0.9h-0.9zM133.1,66.7h0.9v0.9h-0.9zM111.9,68.5h0.9v0.9h-0.9zM96.2,67.7h0.9v0.9h-0.9zM114.5,59.6h0.9v0.9h-0.9zM118.2,61.3h0.9v0.9h-0.9zM119.4,67.3h0.9v0.9h-0.9zM134.5,67.7h0.9v0.9h-0.9zM122.0,64.9h0.9v0.9h-0.9zM128.2,67.1h0.9v0.9h-0.9zM104.2,64.2h0.9v0.9h-0.9zM128.8,62.7h0.9v0.9h-0.9zM144.2,61.5h0.9v0.9h-0.9zM127.7,64.6h0.9v0.9h-0.9zM121.2,59.5h0.9v0.9h-0.9zM119.9,67.1h0.9v0.9h-0.9zM140.3,65.9h0.9v0.9h-0.9zM106.4,62.4h0.9v0.9h-0.9zM116.6,60.6h0.9v0.9h-0.9zM123.8,64.9h0.9v0.9h-0.9zM127.3,61.5h0.9v0.9h-0.9zM112.5,58.0h0.9v0.9h-0.9zM121.8,66.5h0.9v0.9h-0.9zM114.5,65.4h0.9v0.9h-0.9zM119.5,62.9h0.9v0.9h-0.9zM116.3,71.0h0.9v0.9h-0.9zM103.7,66.5h0.9v0.9h-0.9zM117.7,62.3h0.9v0.9h-0.9zM129.0,63.5h0.9v0.9h-0.9zM105.9,62.8h0.9v0.9h-0.9zM115.0,62.6h0.9v0.9h-0.9zM126.3,64.7h0.9v0.9h-0.9zM104.6,64.4h0.9v0.9h-0.9zM120.3,62.9h0.9v0.9h-0.9zM104.7,71.0h0.9v0.9h-0.9zM132.2,65.4h0.9v0.9h-0.9zM146.9,63.6h0.9v0.9h-0.9zM143.3,63.2h0.9v0.9h-0.9zM115.3,66.3h0.9v0.9h-0.9zM127.3,67.8h0.9v0.9h-0.9zM119.5,64.3h0.9v0.9h-0.9zM119.3,69.9h0.9v0.9h-0.9zM137.3,59.4h0.9v0.9h-0.9zM101.5,65.6h0.9v0.9h-0.9zM131.2,58.8h0.9v0.9h-0.9zM117.4,63.5h0.9v0.9h-0.9zM135.6,64.0h0.9v0.9h-0.9zM120.3,68.6h0.9v0.9h-0.9zM109.6,63.5h0.9v0.9h-0.9zM121.5,64.1h0.9v0.9h-0.9zM127.2,62.4h0.9v0.9h-0.9zM118.4,62.2h0.9v0.9h-0.9zM124.1,60.2h0.9v0.9h-0.9zM111.5,65.4h0.9v0.9h-0.9zM91.3,62.4h0.9v0.9h-0.9zM129.3,63.5h0.9v0.9h-0.9zM126.7,63.5h0.9v0.9h-0.9zM119.9,62.3h0.9v0.9h-0.9zM118.9,61.4h0.9v0.9h-0.9zM131.0,58.8h0.9v0.9h-0.9zM112.3,70.8h0.9v0.9h-0.9zM109.2,61.5h0.9v0.9h-0.9zM115.6,69.4h0.9v0.9h-0.9zM132.9,64.6h0.9v0.9h-0.9zM100.7,65.4h0.9v0.9h-0.9zM132.9,59.3h0.9v0.9h-0.9zM110.0,68.5h0.9v0.9h-0.9zM104.2,71.3h0.9v0.9h-0.9zM133.8,59.9h0.9v0.9h-0.9zM116.8,63.7h0.9v0.9h-0.9zM101.7,69.5h0.9v0.9h-0.9zM113.5,66.0h0.9v0.9h-0.9zM129.6,69.2h0.9v0.9h-0.9zM132.9,61.1h0.9v0.9h-0.9zM112.7,66.7h0.9v0.9h-0.9zM123.1,60.2h0.9v0.9h-0.9zM109.9,63.2h0.9v0.9h-0.9zM122.4,57.4h0.9v0.9h-0.9zM117.6,64.2h0.9v0.9h-0.9zM111.3,64.8h0.9v0.9h-0.9zM111.8,70.9h0.9v0.9h-0.9zM118.8,63.4h0.9v0.9h-0.9zM118.4,64.4h0.9v0.9h-0.9zM110.9,67.1h0.9v0.9h-0.9zM112.7,69.9h0.9v0.9h-0.9zM131.9,62.7h0.9v0.9h-0.9zM120.7,67.3h0.9v0.9h-0.9zM129.1,64.8h0.9v0.9h-0.9zM133.0,61.9h0.9v0.9h-0.9zM125.4,63.9h0.9v0.9h-0.9zM146.4,61.3h0.9v0.9h-0.9zM107.7,62.9h0.9v0.9h-0.9zM128.1,67.0h0.9v0.9h-0.9zM114.0,60.8h0.9v0.9h-0.9zM141.2,65.3h0.9v0.9h-0.9zM139.3,64.9h0.9v0.9h-0.9zM93.6,67.0h0.9v0.9h-0.9zM105.9,63.6h0.9v0.9h-0.9zM126.3,62.9h0.9v0.9h-0.9zM127.9,64.8h0.9v0.9h-0.9zM127.2,65.7h0.9v0.9h-0.9zM117.1,65.5h0.9v0.9h-0.9zM123.7,66.8h0.9v0.9h-0.9zM126.2,61.9h0.9v0.9h-0.9zM117.0,65.3h0.9v0.9h-0.9zM130.8,58.3h0.9v0.9h-0.9zM89.8,70.0h0.9v0.9h-0.9zM125.9,64.0h0.9v0.9h-0.9zM105.1,64.7h0.9v0.9h-0.9zM130.0,66.6h0.9v0.9h-0.9zM115.1,66.9h0.9v0.9h-0.9zM106.9,57.3h0.9v0.9h-0.9zM122.7,64.1h0.9v0.9h-0.9zM106.6,61.4h0.9v0.9h-0.9zM106.6,69.0h0.9v0.9h-0.9zM98.4,74.2h0.9v0.9h-0.9zM117.7,63.0h0.9v0.9h-0.9zM124.2,64.0h0.9v0.9h-0.9zM130.8,62.3h0.9v0.9h-0.9zM116.2,65.7h0.9v0.9h-0.9zM131.1,64.9h0.9v0.9h-0.9zM118.2,68.3h0.9v0.9h-0.9zM116.8,61.7h0.9v0.9h-0.9zM125.2,68.4h0.9v0.9h-0.9zM131.2,60.2h0.9v0.9h-0.9zM113.7,65.8h0.9v0.9h-0.9zM115.0,68.3h0.9v0.9h-0.9zM116.0,66.9h0.9v0.9h-0.9zM119.0,61.6h0.9v0.9h-0.9zM106.7,63.7h0.9v0.9h-0.9zM130.9,61.6h0.9v0.9h-0.9zM113.0,64.9h0.9v0.9h-0.9zM123.8,67.3h0.9v0.9h-0.9zM107.7,61.8h0.9v0.9h-0.9zM122.5,65.4h0.9v0.9h-0.9zM122.9,65.8h0.9v0.9h-0.9zM112.7,66.8h0.9v0.9h-0.9zM143.3,63.0h0.9v0.9h-0.9zM122.6,68.5h0.9v0.9h-0.9zM140.2,63.4h0.9v0.9h-0.9zM130.0,65.7h0.9v0.9h-0.9zM109.7,67.1h0.9v0.9h-0.9zM113.2,70.4h0.9v0.9h-0.9zM123.5,58.2h0.9v0.9h-0.9zM118.8,68.2h0.9v0.9h-0.9zM118.6,63.6h0.9v0.9h-0.9zM114.4,64.1h0.9v0.9h-0.9zM95.4,64.2h0.9v0.9h-0.9zM115.2,59.2h0.9v0.9h-0.9zM90.3,66.5h0.9v0.9h-0.9zM122.6,61.9h0.9v0.9h-0.9zM108.9,67.0h0.9v0.9h-0.9zM109.1,61.1h0.9v0.9h-0.9zM115.3,69.1h0.9v0.9h-0.9zM121.4,64.9h0.9v0.9h-0.9zM100.1,65.8h0.9v0.9h-0.9zM96.1,64.9h0.9v0.9h-0.9zM104.7,63.7h0.9v0.9h-0.9zM92.5,64.0h0.9v0.9h-0.9zM105.9,64.2h0.9v0.9h-0.9zM137.9,62.2h0.9v0.9h-0.9zM104.8,65.5h0.9v0.9h-0.9zM126.1,59.3h0.9v0.9h-0.9zM100.9,65.7h0.9v0.9h-0.9zM121.7,61.4h0.9v0.9h-0.9zM114.0,65.4h0.9v0.9h-0.9zM117.3,70.2h0.9v0.9h-0.9zM125.1,65.5h0.9v0.9h-0.9zM140.0,61.0h0.9v0.9h-0.9zM120.4,59.3h0.9v0.9h-0.9zM119.6,60.1h0.9v0.9h-0.9zM105.8,60.8h0.9v0.9h-0.9zM125.3,65.8h0.9v0.9h-0.9zM114.9,62.5h0.9v0.9h-0.9zM128.4,63.5h0.9v0.9h-0.9zM117.5,62.7h0.9v0.9h-0.9zM139.8,62.3h0.9v0.9h-0.9zM93.2,71.5h0.9v0.9h-0.9zM114.3,62.9h0.9v0.9h-0.9zM129.0,62.2h0.9v0.9h-0.9zM113.6,62.6h0.9v0.9h-0.9zM108.1,68.3h0.9v0.9h-0.9zM114.7,61.8h0.9v0.9h-0.9zM100.8,63.1h0.9v0.9h-0.9zM119.5,60.2h0.9v0.9h-0.9zM148.5,56.8h0.9v0.9h-0.9zM132.3,64.3h0.9v0.9h-0.9zM104.1,73.8h0.9v0.9h-0.9zM107.1,62.8h0.9v0.9h-0.9zM112.9,67.9h0.9v0.9h-0.9zM130.6,63.8h0.9v0.9h-0.9zM107.7,62.4h0.9v0.9h-0.9zM109.4,64.7h0.9v0.9h-0.9zM129.1,62.5h0.9v0.9h-0.9zM128.8,61.2h0.9v0.9h-0.9zM113.3,70.8h0.9v0.9h-0.9zM104.0,60.4h0.9v0.9h-0.9zM98.6,67.9h0.9v0.9h-0.9zM109.3,66.5h0.9v0.9h-0.9zM90.1,66.0h0.9v0.9h-0.9zM127.4,63.9h0.9v0.9h-0.9zM110.1,68.0h0.9v0.9h-0.9zM124.0,64.3h0.9v0.9h-0.9zM141.4,63.1h0.9v0.9h-0.9zM132.7,64.9h0.9v0.9h-0.9zM103.6,60.0h0.9v0.9h-0.9zM128.9,67.7h0.9v0.9h-0.9zM132.5,69.7h0.9v0.9h-0.9zM108.7,68.5h0.9v0.9h-0.9zM106.1,68.9h0.9v0.9h-0.9zM116.6,60.4h0.9v0.9h-0.9zM98.0,66.4h0.9v0.9h-0.9zM136.4,59.9h0.9v0.9h-0.9zM87.9,66.2h0.9v0.9h-0.9zM104.2,69.0h0.9v0.9h-0.9zM114.6,62.5h0.9v0.9h-0.9zM115.2,64.4h0.9v0.9h-0.9zM120.1,58.5h0.9v0.9h-0.9zM121.4,63.6h0.9v0.9h-0.9zM115.3,65.1h0.9v0.9h-0.9zM132.2,60.7h0.9v0.9h-0.9zM91.3,65.4h0.9v0.9h-0.9zM118.0,70.1h0.9v0.9h-0.9zM109.1,61.9h0.9v0.9h-0.9zM119.7,61.1h0.9v0.9h-0.9zM120.8,61.7h0.9v0.9h-0.9zM106.6,69.4h0.9v0.9h-0.9zM110.0,71.7h0.9v0.9h-0.9zM127.9,64.3h0.9v0.9h-0.9zM122.4,61.8h0.9v0.9h-0.9zM109.5,64.2h0.9v0.9h-0.9zM143.5,64.8h0.9v0.9h-0.9zM146.9,58.4h0.9v0.9h-0.9zM99.7,71.0h0.9v0.9h-0.9zM121.8,68.3h0.9v0.9h-0.9zM149.4,61.1h0.9v0.9h-0.9zM127.8,65.3h0.9v0.9h-0.9zM120.8,66.4h0.9v0.9h-0.9zM115.4,69.5h0.9v0.9h-0.9zM111.2,62.1h0.9v0.9h-0.9zM115.3,68.3h0.9v0.9h-0.9zM111.1,64.2h0.9v0.9h-0.9zM127.3,61.1h0.9v0.9h-0.9zM113.0,65.4h0.9v0.9h-0.9zM112.5,64.5h0.9v0.9h-0.9zM103.0,63.3h0.9v0.9h-0.9zM117.4,59.8h0.9v0.9h-0.9zM106.8,62.9h0.9v0.9h-0.9zM115.7,69.1h0.9v0.9h-0.9zM131.0,68.9h0.9v0.9h-0.9zM122.6,65.9h0.9v0.9h-0.9zM124.3,67.3h0.9v0.9h-0.9zM122.5,62.4h0.9v0.9h-0.9zM118.7,64.2h0.9v0.9h-0.9zM116.4,65.5h0.9v0.9h-0.9zM114.2,61.7h0.9v0.9h-0.9zM127.5,60.4h0.9v0.9h-0.9zM104.4,66.3h0.9v0.9h-0.9zM134.8,61.6h0.9v0.9h-0.9zM118.4,61.3h0.9v0.9h-0.9zM108.6,66.7h0.9v0.9h-0.9zM111.9,64.4h0.9v0.9h-0.9zM109.5,68.5h0.9v0.9h-0.9zM120.0,64.2h0.9v0.9h-0.9zM109.0,64.6h0.9v0.9h-0.9zM132.3,63.2h0.9v0.9h-0.9zM108.2,65.1h0.9v0.9h-0.9zM89.6,65.8h0.9v0.9h-0.9zM108.9,64.3h0.9v0.9h-0.9zM92.9,69.6h0.9v0.9h-0.9zM117.5,66.5h0.9v0.9h-0.9zM131.2,66.8h0.9v0.9h-0.9zM126.1,58.5h0.9v0.9h-0.9zM101.3,65.2h0.9v0.9h-0.9zM108.5,64.3h0.9v0.9h-0.9zM140.2,62.4h0.9v0.9h-0.9zM122.0,62.7h0.9v0.9h-0.9zM118.1,62.9h0.9v0.9h-0.9zM131.2,65.3h0.9v0.9h-0.9zM148.7,61.5h0.9v0.9h-0.9zM134.2,59.1h0.9v0.9h-0.9zM119.7,68.3h0.9v0.9h-0.9zM122.4,67.0h0.9v0.9h-0.9zM125.7,61.9h0.9v0.9h-0.9zM134.0,66.5h0.9v0.9h-0.9zM105.8,62.1h0.9v0.9h-0.9zM139.3,66.0h0.9v0.9h-0.9zM115.1,64.0h0.9v0.9h-0.9zM104.5,69.4h0.9v0.9h-0.9zM112.3,62.1h0.9v0.9h-0.9zM105.2,63.1h0.9v0.9h-0.9zM122.5,58.1h0.9v0.9h-0.9zM122.2,66.1h0.9v0.9h-0.9zM119.6,68.0h0.9v0.9h-0.9zM120.7,64.8h0.9v0.9h-0.9zM84.9,66.7h0.9v0.9h-0.9zM123.4,65.1h0.9v0.9h-0.9zM139.4,61.3h0.9v0.9h-0.9zM123.9,70.0h0.9v0.9h-0.9zM112.0,68.9h0.9v0.9h-0.9zM115.8,60.3h0.9v0.9h-0.9zM116.6,60.9h0.9v0.9h-0.9zM109.1,71.2h0.9v0.9h-0.9zM108.5,66.4h0.9v0.9h-0.9zM102.4,64.6h0.9v0.9h-0.9zM140.4,66.8h0.9v0.9h-0.9zM118.7,62.0h0.9v0.9h-0.9zM136.2,60.5h0.9v0.9h-0.9zM114.5,62.2h0.9v0.9h-0.9zM120.3,54.6h0.9v0.9h-0.9zM115.9,68.1h0.9v0.9h-0.9zM127.3,57.3h0.9v0.9h-0.9zM133.9,59.5h0.9v0.9h-0.9zM123.3,59.9h0.9v0.9h-0.9zM106.9,68.5h0.9v0.9h-0.9zM105.0,65.1h0.9v0.9h-0.9zM148.9,60.4h0.9v0.9h-0.9zM114.0,56.6h0.9v0.9h-0.9zM113.8,64.0h0.9v0.9h-0.9zM145.4,54.0h0.9v0.9h-0.9zM138.6,63.0h0.9v0.9h-0.9zM128.6,64.4h0.9v0.9h-0.9zM111.8,64.5h0.9v0.9h-0.9zM126.1,65.4h0.9v0.9h-0.9zM128.8,65.4h0.9v0.9h-0.9zM115.9,64.8h0.9v0.9h-0.9zM93.5,65.8h0.9v0.9h-0.9zM95.0,71.0h0.9v0.9h-0.9zM126.3,68.0h0.9v0.9h-0.9zM126.1,57.0h0.9v0.9h-0.9zM114.7,69.1h0.9v0.9h-0.9zM97.9,68.6h0.9v0.9h-0.9zM93.1,71.2h0.9v0.9h-0.9zM113.1,66.6h0.9v0.9h-0.9zM92.8,61.1h0.9v0.9h-0.9zM135.2,56.5h0.9v0.9h-0.9zM139.7,69.8h0.9v0.9h-0.9zM169.9,59.1h0.9v0.9h-0.9zM134.8,55.5h0.9v0.9h-0.9zM108.3,66.6h0.9v0.9h-0.9zM103.3,63.9h0.9v0.9h-0.9zM108.3,54.5h0.9v0.9h-0.9zM115.8,56.8h0.9v0.9h-0.9zM136.4,63.0h0.9v0.9h-0.9zM130.0,62.3h0.9v0.9h-0.9zM129.6,61.4h0.9v0.9h-0.9zM122.8,64.7h0.9v0.9h-0.9zM130.9,65.2h0.9v0.9h-0.9zM145.1,51.1h0.9v0.9h-0.9zM99.8,64.6h0.9v0.9h-0.9zM110.8,60.9h0.9v0.9h-0.9zM94.0,61.0h0.9v0.9h-0.9zM148.1,57.9h0.9v0.9h-0.9zM142.3,60.5h0.9v0.9h-0.9zM132.5,61.0h0.9v0.9h-0.9zM97.4,59.6h0.9v0.9h-0.9zM122.1,61.2h0.9v0.9h-0.9zM114.8,73.6h0.9v0.9h-0.9zM120.5,58.8h0.9v0.9h-0.9zM115.6,56.4h0.9v0.9h-0.9zM128.4,64.0h0.9v0.9h-0.9zM111.9,67.4h0.9v0.9h-0.9zM134.4,64.2h0.9v0.9h-0.9zM123.3,58.1h0.9v0.9h-0.9zM113.7,69.0h0.9v0.9h-0.9zM117.0,60.4h0.9v0.9h-0.9zM111.1,59.5h0.9v0.9h-0.9zM133.6,59.3h0.9v0.9h-0.9zM114.1,63.9h0.9v0.9h-0.9zM124.3,66.5h0.9v0.9h-0.9zM111.9,67.5h0.9v0.9h-0.9zM92.3,66.8h0.9v0.9h-0.9zM135.3,66.2h0.9v0.9h-0.9zM100.0,66.4h0.9v0.9h-0.9zM131.2,66.5h0.9v0.9h-0.9zM126.6,56.5h0.9v0.9h-0.9zM89.2,60.0h0.9v0.9h-0.9zM102.0,69.3h0.9v0.9h-0.9zM109.7,58.5h0.9v0.9h-0.9zM104.2,64.1h0.9v0.9h-0.9zM97.7,65.8h0.9v0.9h-0.9zM132.3,60.0h0.9v0.9h-0.9zM114.7,62.2h0.9v0.9h-0.9zM125.9,69.4h0.9v0.9h-0.9zM111.3,53.0h0.9v0.9h-0.9zM124.5,67.2h0.9v0.9h-0.9zM105.5,75.9h0.9v0.9h-0.9zM118.5,64.0h0.9v0.9h-0.9zM129.5,62.5h0.9v0.9h-0.9zM119.8,67.0h0.9v0.9h-0.9zM110.8,73.2h0.9v0.9h-0.9zM99.4,60.6h0.9v0.9h-0.9zM122.0,63.9h0.9v0.9h-0.9zM125.2,62.2h0.9v0.9h-0.9zM114.3,66.9h0.9v0.9h-0.9zM105.2,66.1h0.9v0.9h-0.9zM128.8,65.7h0.9v0.9h-0.9zM163.7,56.7h0.9v0.9h-0.9zM113.6,64.6h0.9v0.9h-0.9zM125.1,60.0h0.9v0.9h-0.9zM125.8,60.0h0.9v0.9h-0.9zM121.2,62.9h0.9v0.9h-0.9zM106.3,59.9h0.9v0.9h-0.9zM114.4,63.7h0.9v0.9h-0.9zM105.0,59.0h0.9v0.9h-0.9zM115.1,69.3h0.9v0.9h-0.9zM122.0,60.0h0.9v0.9h-0.9zM108.9,67.3h0.9v0.9h-0.9zM118.1,63.8h0.9v0.9h-0.9zM94.6,67.8h0.9v0.9h-0.9zM114.9,65.0h0.9v0.9h-0.9zM133.0,59.5h0.9v0.9h-0.9zM154.4,59.9h0.9v0.9h-0.9zM123.9,52.9h0.9v0.9h-0.9zM140.3,61.6h0.9v0.9h-0.9zM137.3,63.7h0.9v0.9h-0.9zM148.9,55.5h0.9v0.9h-0.9zM138.5,55.3h0.9v0.9h-0.9zM123.7,61.6h0.9v0.9h-0.9zM124.4,65.6h0.9v0.9h-0.9zM122.6,63.7h0.9v0.9h-0.9zM104.9,67.6h0.9v0.9h-0.9zM106.9,70.6h0.9v0.9h-0.9zM120.2,64.3h0.9v0.9h-0.9zM119.1,64.6h0.9v0.9h-0.9zM88.8,73.5h0.9v0.9h-0.9zM131.4,66.1h0.9v0.9h-0.9zM134.6,57.4h0.9v0.9h-0.9zM120.7,60.7h0.9v0.9h-0.9zM149.0,61.9h0.9v0.9h-0.9zM152.7,57.1h0.9v0.9h-0.9zM97.3,64.6h0.9v0.9h-0.9zM137.7,57.3h0.9v0.9h-0.9zM126.9,61.7h0.9v0.9h-0.9zM126.5,64.9h0.9v0.9h-0.9zM135.8,66.4h0.9v0.9h-0.9zM106.1,65.3h0.9v0.9h-0.9zM108.3,74.6h0.9v0.9h-0.9zM104.1,65.2h0.9v0.9h-0.9zM105.4,80.0h0.9v0.9h-0.9zM117.2,68.6h0.9v0.9h-0.9zM92.9,69.1h0.9v0.9h-0.9zM100.2,63.7h0.9v0.9h-0.9zM129.4,49.6h0.9v0.9h-0.9zM117.7,63.2h0.9v0.9h-0.9zM125.9,63.8h0.9v0.9h-0.9zM85.0,76.5h0.9v0.9h-0.9zM104.9,59.1h0.9v0.9h-0.9zM119.6,62.6h0.9v0.9h-0.9zM108.4,68.3h0.9v0.9h-0.9zM135.8,50.2h0.9v0.9h-0.9zM118.0,64.6h0.9v0.9h-0.9zM119.3,62.2h0.9v0.9h-0.9zM119.2,66.9h0.9v0.9h-0.9zM131.7,62.7h0.9v0.9h-0.9zM110.5,59.5h0.9v0.9h-0.9zM139.2,65.8h0.9v0.9h-0.9zM127.3,66.0h0.9v0.9h-0.9zM121.8,66.2h0.9v0.9h-0.9zM119.8,68.3h0.9v0.9h-0.9zM128.4,67.8h0.9v0.9h-0.9zM137.3,61.6h0.9v0.9h-0.9zM136.0,55.6h0.9v0.9h-0.9zM125.8,56.6h0.9v0.9h-0.9zM134.8,68.2h0.9v0.9h-0.9zM121.1,66.8h0.9v0.9h-0.9zM141.5,61.7h0.9v0.9h-0.9zM118.5,61.9h0.9v0.9h-0.9zM143.1,61.1h0.9v0.9h-0.9zM120.9,62.0h0.9v0.9h-0.9zM97.9,63.0h0.9v0.9h-0.9zM115.4,74.2h0.9v0.9h-0.9zM103.1,66.7h0.9v0.9h-0.9zM156.8,56.7h0.9v0.9h-0.9zM128.0,56.8h0.9v0.9h-0.9zM90.8,63.7h0.9v0.9h-0.9zM128.8,66.0h0.9v0.9h-0.9zM111.8,68.1h0.9v0.9h-0.9zM153.5,58.8h0.9v0.9h-0.9zM100.1,66.2h0.9v0.9h-0.9zM120.2,58.6h0.9v0.9h-0.9zM112.7,70.5h0.9v0.9h-0.9zM111.5,66.4h0.9v0.9h-0.9zM126.7,59.4h0.9v0.9h-0.9zM149.1,59.7h0.9v0.9h-0.9zM84.6,71.8h0.9v0.9h-0.9zM140.1,60.2h0.9v0.9h-0.9zM108.8,58.6h0.9v0.9h-0.9zM161.3,54.6h0.9v0.9h-0.9zM126.8,63.4h0.9v0.9h-0.9zM115.6,65.8h0.9v0.9h-0.9zM138.9,61.1h0.9v0.9h-0.9zM128.5,67.3h0.9v0.9h-0.9zM108.3,69.6h0.9v0.9h-0.9zM131.8,63.8h0.9v0.9h-0.9zM109.8,65.0h0.9v0.9h-0.9zM86.8,66.3h0.9v0.9h-0.9zM155.6,62.1h0.9v0.9h-0.9zM112.7,68.7h0.9v0.9h-0.9zM108.0,65.3h0.9v0.9h-0.9zM125.1,65.2h0.9v0.9h-0.9zM90.9,65.5h0.9v0.9h-0.9zM94.6,60.1h0.9v0.9h-0.9zM110.0,60.2h0.9v0.9h-0.9zM109.6,68.4h0.9v0.9h-0.9zM120.3,65.7h0.9v0.9h-0.9zM139.2,68.8h0.9v0.9h-0.9zM110.5,65.0h0.9v0.9h-0.9zM127.9,66.8h0.9v0.9h-0.9zM129.8,68.6h0.9v0.9h-0.9zM99.5,70.6h0.9v0.9h-0.9zM123.1,60.5h0.9v0.9h-0.9zM102.0,64.9h0.9v0.9h-0.9zM138.2,62.2h0.9v0.9h-0.9zM127.2,58.3h0.9v0.9h-0.9zM119.3,65.9h0.9v0.9h-0.9zM94.9,71.3h0.9v0.9h-0.9zM121.1,61.3h0.9v0.9h-0.9zM105.2,74.5h0.9v0.9h-0.9zM131.7,61.0h0.9v0.9h-0.9zM116.9,63.1h0.9v0.9h-0.9zM104.4,64.4h0.9v0.9h-0.9zM135.7,58.6h0.9v0.9h-0.9zM132.0,64.2h0.9v0.9h-0.9zM108.3,65.1h0.9v0.9h-0.9zM113.6,67.2h0.9v0.9h-0.9zM113.4,66.9h0.9v0.9h-0.9zM121.2,62.5h0.9v0.9h-0.9zM105.5,58.8h0.9v0.9h-0.9zM111.1,64.3h0.9v0.9h-0.9zM116.1,60.2h0.9v0.9h-0.9zM146.5,65.0h0.9v0.9h-0.9zM146.0,60.6h0.9v0.9h-0.9zM114.3,72.0h0.9v0.9h-0.9zM148.0,63.8h0.9v0.9h-0.9zM118.2,67.7h0.9v0.9h-0.9zM125.9,64.1h0.9v0.9h-0.9zM134.9,62.9h0.9v0.9h-0.9zM124.3,66.2h0.9v0.9h-0.9zM162.5,63.0h0.9v0.9h-0.9zM123.4,60.0h0.9v0.9h-0.9zM97.4,68.5h0.9v0.9h-0.9zM111.6,64.2h0.9v0.9h-0.9zM113.5,63.2h0.9v0.9h-0.9zM137.0,55.1h0.9v0.9h-0.9zM133.7,67.6h0.9v0.9h-0.9zM133.4,62.4h0.9v0.9h-0.9zM136.6,63.1h0.9v0.9h-0.9zM149.4,68.8h0.9v0.9h-0.9zM135.9,57.8h0.9v0.9h-0.9zM105.6,70.2h0.9v0.9h-0.9zM112.6,67.4h0.9v0.9h-0.9zM138.0,63.4h0.9v0.9h-0.9zM126.0,65.2h0.9v0.9h-0.9zM95.0,66.5h0.9v0.9h-0.9zM125.5,70.4h0.9v0.9h-0.9zM115.7,67.0h0.9v0.9h-0.9zM104.3,67.1h0.9v0.9h-0.9zM126.8,68.6h0.9v0.9h-0.9zM111.7,68.8h0.9v0.9h-0.9zM90.7,69.2h0.9v0.9h-0.9zM99.0,67.6h0.9v0.9h-0.9zM150.8,68.2h0.9v0.9h-0.9zM91.7,69.3h0.9v0.9h-0.9zM123.0,62.9h0.9v0.9h-0.9zM130.0,58.6h0.9v0.9h-0.9zM130.5,60.9h0.9v0.9h-0.9zM96.9,61.5h0.9v0.9h-0.9zM113.2,65.0h0.9v0.9h-0.9zM121.5,64.7h0.9v0.9h-0.9zM133.4,52.7h0.9v0.9h-0.9zM107.4,65.2h0.9v0.9h-0.9zM98.1,69.2h0.9v0.9h-0.9zM137.0,62.5h0.9v0.9h-0.9zM138.9,57.1h0.9v0.9h-0.9zM125.7,68.9h0.9v0.9h-0.9zM108.0,61.9h0.9v0.9h-0.9zM126.3,57.3h0.9v0.9h-0.9zM121.0,58.6h0.9v0.9h-0.9zM134.1,62.0h0.9v0.9h-0.9zM96.5,70.9h0.9v0.9h-0.9zM121.1,68.9h0.9v0.9h-0.9zM116.1,65.1h0.9v0.9h-0.9zM99.0,60.6h0.9v0.9h-0.9zM122.9,60.3h0.9v0.9h-0.9zM119.6,59.6h0.9v0.9h-0.9zM111.6,63.8h0.9v0.9h-0.9zM126.1,54.8h0.9v0.9h-0.9zM93.5,67.3h0.9v0.9h-0.9zM118.0,66.9h0.9v0.9h-0.9zM126.8,62.2h0.9v0.9h-0.9zM124.1,65.3h0.9v0.9h-0.9zM138.4,57.3h0.9v0.9h-0.9zM97.4,59.6h0.9v0.9h-0.9zM91.9,64.0h0.9v0.9h-0.9zM123.3,68.6h0.9v0.9h-0.9zM127.2,67.6h0.9v0.9h-0.9zM157.2,57.3h0.9v0.9h-0.9zM130.1,68.1h0.9v0.9h-0.9zM103.3,64.1h0.9v0.9h-0.9zM133.5,69.1h0.9v0.9h-0.9zM103.8,67.8h0.9v0.9h-0.9zM92.3,64.8h0.9v0.9h-0.9zM166.0,62.1h0.9v0.9h-0.9zM124.9,59.6h0.9v0.9h-0.9zM131.9,58.0h0.9v0.9h-0.9zM129.1,56.0h0.9v0.9h-0.9zM151.6,61.2h0.9v0.9h-0.9zM124.1,63.0h0.9v0.9h-0.9zM140.9,60.9h0.9v0.9h-0.9zM100.5,64.0h0.9v0.9h-0.9zM93.9,73.3h0.9v0.9h-0.9zM144.7,58.9h0.9v0.9h-0.9zM145.5,57.4h0.9v0.9h-0.9zM128.2,68.5h0.9v0.9h-0.9zM123.1,69.9h0.9v0.9h-0.9zM122.0,65.0h0.9v0.9h-0.9zM106.6,57.2h0.9v0.9h-0.9zM146.7,57.9h0.9v0.9h-0.9zM130.9,65.3h0.9v0.9h-0.9zM128.1,62.8h0.9v0.9h-0.9zM137.9,55.3h0.9v0.9h-0.9zM128.1,65.9h0.9v0.9h-0.9zM132.4,59.4h0.9v0.9h-0.9zM98.0,72.3h0.9v0.9h-0.9zM128.2,62.4h0.9v0.9h-0.9zM109.7,61.9h0.9v0.9h-0.9zM116.7,57.6h0.9v0.9h-0.9zM135.1,56.8h0.9v0.9h-0.9zM136.2,59.0h0.9v0.9h-0.9zM130.2,57.8h0.9v0.9h-0.9zM89.9,72.7h0.9v0.9h-0.9zM128.0,68.9h0.9v0.9h-0.9zM97.7,67.5h0.9v0.9h-0.9zM104.2,60.7h0.9v0.9h-0.9zM128.9,62.1h0.9v0.9h-0.9zM113.7,61.3h0.9v0.9h-0.9zM175.7,58.7h0.9v0.9h-0.9zM133.0,64.4h0.9v0.9h-0.9zM132.0,60.5h0.9v0.9h-0.9zM102.9,56.4h0.9v0.9h-0.9zM107.4,61.6h0.9v0.9h-0.9zM99.9,60.9h0.9v0.9h-0.9zM109.4,66.6h0.9v0.9h-0.9zM99.3,66.5h0.9v0.9h-0.9zM107.1,61.5h0.9v0.9h-0.9zM115.2,62.4h0.9v0.9h-0.9zM101.0,73.1h0.9v0.9h-0.9zM93.5,62.3h0.9v0.9h-0.9zM94.5,62.4h0.9v0.9h-0.9zM127.2,61.8h0.9v0.9h-0.9zM120.1,60.5h0.9v0.9h-0.9zM137.5,59.7h0.9v0.9h-0.9zM137.8,64.1h0.9v0.9h-0.9zM112.9,72.5h0.9v0.9h-0.9zM131.1,54.2h0.9v0.9h-0.9zM93.1,66.7h0.9v0.9h-0.9zM160.1,59.3h0.9v0.9h-0.9zM140.5,60.9h0.9v0.9h-0.9zM115.1,63.4h0.9v0.9h-0.9zM98.1,64.6h0.9v0.9h-0.9zM125.8,67.6h0.9v0.9h-0.9zM85.3,65.5h0.9v0.9h-0.9zM105.0,64.8h0.9v0.9h-0.9zM132.5,62.2h0.9v0.9h-0.9zM120.4,64.1h0.9v0.9h-0.9zM110.2,64.0h0.9v0.9h-0.9zM136.1,66.4h0.9v0.9h-0.9zM100.3,65.9h0.9v0.9h-0.9zM124.1,64.0h0.9v0.9h-0.9zM110.0,64.6h0.9v0.9h-0.9zM103.7,60.9h0.9v0.9h-0.9zM127.3,59.0h0.9v0.9h-0.9zM101.1,61.0h0.9v0.9h-0.9zM153.2,60.7h0.9v0.9h-0.9zM108.5,61.7h0.9v0.9h-0.9zM154.8,54.8h0.9v0.9h-0.9zM99.3,67.2h0.9v0.9h-0.9zM129.9,65.0h0.9v0.9h-0.9zM97.4,58.2h0.9v0.9h-0.9zM94.9,74.3h0.9v0.9h-0.9zM121.9,63.6h0.9v0.9h-0.9zM131.2,61.9h0.9v0.9h-0.9zM96.1,71.3h0.9v0.9h-0.9zM140.3,61.7h0.9v0.9h-0.9zM104.6,62.7h0.9v0.9h-0.9zM121.4,73.6h0.9v0.9h-0.9zM125.8,58.1h0.9v0.9h-0.9zM129.7,62.1h0.9v0.9h-0.9zM86.6,71.4h0.9v0.9h-0.9zM148.1,55.5h0.9v0.9h-0.9zM129.1,62.2h0.9v0.9h-0.9zM111.3,66.5h0.9v0.9h-0.9zM100.6,77.0h0.9v0.9h-0.9zM88.5,63.2h0.9v0.9h-0.9zM94.5,66.4h0.9v0.9h-0.9zM128.8,65.7h0.9v0.9h-0.9zM112.9,64.9h0.9v0.9h-0.9zM98.6,60.6h0.9v0.9h-0.9zM109.5,66.8h0.9v0.9h-0.9zM147.2,61.1h0.9v0.9h-0.9zM113.0,66.5h0.9v0.9h-0.9zM108.5,70.2h0.9v0.9h-0.9zM143.3,65.7h0.9v0.9h-0.9zM127.3,64.7h0.9v0.9h-0.9zM119.8,65.1h0.9v0.9h-0.9zM108.1,60.0h0.9v0.9h-0.9zM91.1,66.4h0.9v0.9h-0.9zM97.9,67.2h0.9v0.9h-0.9zM110.4,62.9h0.9v0.9h-0.9zM115.0,64.7h0.9v0.9h-0.9zM125.4,59.3h0.9v0.9h-0.9zM128.9,69.7h0.9v0.9h-0.9zM123.0,73.2h0.9v0.9h-0.9zM123.0,61.5h0.9v0.9h-0.9zM100.9,67.7h0.9v0.9h-0.9zM109.6,70.7h0.9v0.9h-0.9zM101.8,67.8h0.9v0.9h-0.9zM107.3,65.5h0.9v0.9h-0.9zM114.1,63.3h0.9v0.9h-0.9zM96.6,66.9h0.9v0.9h-0.9zM99.0,61.5h0.9v0.9h-0.9zM117.2,67.1h0.9v0.9h-0.9zM121.1,60.3h0.9v0.9h-0.9zM107.2,67.6h0.9v0.9h-0.9zM128.0,63.4h0.9v0.9h-0.9zM115.0,69.3h0.9v0.9h-0.9zM100.6,65.8h0.9v0.9h-0.9zM119.7,68.4h0.9v0.9h-0.9zM152.9,55.7h0.9v0.9h-0.9zM106.9,68.0h0.9v0.9h-0.9zM140.0,60.4h0.9v0.9h-0.9zM143.8,61.8h0.9v0.9h-0.9zM146.0,61.0h0.9v0.9h-0.9zM104.2,69.8h0.9v0.9h-0.9zM155.3,50.3h0.9v0.9h-0.9zM121.1,65.0h0.9v0.9h-0.9zM114.4,57.4h0.9v0.9h-0.9zM114.9,69.8h0.9v0.9h-0.9zM129.8,53.5h0.9v0.9h-0.9zM119.9,59.1h0.9v0.9h-0.9zM115.8,56.5h0.9v0.9h-0.9zM142.1,68.7h0.9v0.9h-0.9zM106.0,59.4h0.9v0.9h-0.9zM100.2,66.5h0.9v0.9h-0.9zM133.3,59.7h0.9v0.9h-0.9zM131.7,54.1h0.9v0.9h-0.9zM138.7,60.0h0.9v0.9h-0.9zM99.7,69.1h0.9v0.9h-0.9zM138.5,60.7h0.9v0.9h-0.9zM127.7,67.1h0.9v0.9h-0.9zM150.7,58.5h0.9v0.9h-0.9zM96.5,66.4h0.9v0.9h-0.9zM122.9,61.6h0.9v0.9h-0.9zM114.0,65.9h0.9v0.9h-0.9zM90.4,75.8h0.9v0.9h-0.9zM106.1,66.9h0.9v0.9h-0.9zM139.3,62.4h0.9v0.9h-0.9zM110.6,61.9h0.9v0.9h-0.9zM106.0,61.8h0.9v0.9h-0.9zM136.8,56.6h0.9v0.9h-0.9zM136.8,57.6h0.9v0.9h-0.9zM104.8,65.0h0.9v0.9h-0.9zM118.0,62.0h0.9v0.9h-0.9zM107.2,54.3h0.9v0.9h-0.9zM105.5,67.0h0.9v0.9h-0.9zM133.9,65.4h0.9v0.9h-0.9zM147.1,55.4h0.9v0.9h-0.9zM98.3,63.2h0.9v0.9h-0.9zM92.9,74.3h0.9v0.9h-0.9zM100.8,61.7h0.9v0.9h-0.9zM116.5,56.8h0.9v0.9h-0.9zM130.1,67.0h0.9v0.9h-0.9zM116.4,71.1h0.9v0.9h-0.9zM106.4,63.7h0.9v0.9h-0.9zM121.8,53.3h0.9v0.9h-0.9zM101.7,72.5h0.9v0.9h-0.9zM118.2,63.0h0.9v0.9h-0.9zM107.5,70.3h0.9v0.9h-0.9zM167.2,58.0h0.9v0.9h-0.9zM133.7,60.4h0.9v0.9h-0.9zM104.0,63.4h0.9v0.9h-0.9zM101.1,72.6h0.9v0.9h-0.9zM111.1,71.3h0.9v0.9h-0.9zM89.4,57.4h0.9v0.9h-0.9zM105.9,61.0h0.9v0.9h-0.9zM105.7,73.5h0.9v0.9h-0.9zM134.9,60.3h0.9v0.9h-0.9zM111.3,58.4h0.9v0.9h-0.9zM104.8,65.5h0.9v0.9h-0.9zM94.9,66.1h0.9v0.9h-0.9zM97.8,65.8h0.9v0.9h-0.9zM117.8,61.7h0.9v0.9h-0.9zM115.1,62.8h0.9v0.9h-0.9zM139.4,59.3h0.9v0.9h-0.9zM107.7,66.6h0.9v0.9h-0.9zM138.1,57.9h0.9v0.9h-0.9zM123.6,61.9h0.9v0.9h-0.9zM118.9,63.1h0.9v0.9h-0.9zM95.8,68.2h0.9v0.9h-0.9zM132.3,61.8h0.9v0.9h-0.9zM144.2,63.4h0.9v0.9h-0.9zM122.7,65.2h0.9v0.9h-0.9zM132.7,67.2h0.9v0.9h-0.9zM111.7,67.0h0.9v0.9h-0.9zM107.1,71.4h0.9v0.9h-0.9zM136.5,61.6h0.9v0.9h-0.9zM125.2,61.2h0.9v0.9h-0.9zM114.8,68.3h0.9v0.9h-0.9zM113.1,66.9h0.9v0.9h-0.9zM129.0,62.2h0.9v0.9h-0.9zM124.8,56.3h0.9v0.9h-0.9zM104.0,57.1h0.9v0.9h-0.9zM149.9,61.8h0.9v0.9h-0.9zM123.6,66.8h0.9v0.9h-0.9zM119.2,67.5h0.9v0.9h-0.9zM145.6,54.8h0.9v0.9h-0.9zM137.4,66.4h0.9v0.9h-0.9zM117.4,61.5h0.9v0.9h-0.9zM128.6,64.5h0.9v0.9h-0.9zM99.7,67.9h0.9v0.9h-0.9zM107.5,61.4h0.9v0.9h-0.9zM141.0,51.7h0.9v0.9h-0.9zM84.8,63.5h0.9v0.9h-0.9zM131.3,54.1h0.9v0.9h-0.9zM104.0,67.5h0.9v0.9h-0.9zM101.4,66.1h0.9v0.9h-0.9zM115.5,68.4h0.9v0.9h-0.9zM123.8,64.9h0.9v0.9h-0.9zM130.0,59.6h0.9v0.9h-0.9zM150.9,61.7h0.9v0.9h-0.9zM125.5,61.3h0.9v0.9h-0.9zM134.9,64.8h0.9v0.9h-0.9zM108.2,66.5h0.9v0.9h-0.9zM131.8,57.8h0.9v0.9h-0.9zM121.8,63.5h0.9v0.9h-0.9zM110.7,65.0h0.9v0.9h-0.9zM117.3,62.6h0.9v0.9h-0.9zM117.9,68.0h0.9v0.9h-0.9zM122.4,71.3h0.9v0.9h-0.9zM126.2,61.3h0.9v0.9h-0.9zM109.8,63.2h0.9v0.9h-0.9zM105.7,55.0h0.9v0.9h-0.9zM132.5,61.7h0.9v0.9h-0.9zM88.5,65.3h0.9v0.9h-0.9zM107.9,55.1h0.9v0.9h-0.9zM146.9,61.9h0.9v0.9h-0.9zM106.5,61.9h0.9v0.9h-0.9zM131.4,60.7h0.9v0.9h-0.9zM89.3,62.8h0.9v0.9h-0.9zM165.8,61.9h0.9v0.9h-0.9zM144.9,59.4h0.9v0.9h-0.9zM135.5,62.1h0.9v0.9h-0.9zM115.0,66.4h0.9v0.9h-0.9zM125.4,62.4h0.9v0.9h-0.9zM102.8,60.2h0.9v0.9h-0.9zM133.6,62.0h0.9v0.9h-0.9zM98.8,68.0h0.9v0.9h-0.9zM114.1,59.7h0.9v0.9h-0.9zM136.9,63.3h0.9v0.9h-0.9zM98.9,71.8h0.9v0.9h-0.9zM112.4,69.5h0.9v0.9h-0.9zM122.0,56.2h0.9v0.9h-0.9zM94.8,62.1h0.9v0.9h-0.9zM140.0,54.0h0.9v0.9h-0.9zM125.1,68.0h0.9v0.9h-0.9zM91.7,69.7h0.9v0.9h-0.9zM118.2,67.1h0.9v0.9h-0.9zM105.0,61.4h0.9v0.9h-0.9zM107.2,59.8h0.9v0.9h-0.9zM120.4,64.0h0.9v0.9h-0.9zM106.2,65.7h0.9v0.9h-0.9zM89.6,61.6h0.9v0.9h-0.9zM93.6,62.7h0.9v0.9h-0.9zM95.6,69.4h0.9v0.9h-0.9zM93.9,73.8h0.9v0.9h-0.9zM88.8,73.1h0.9v0.9h-0.9zM84.5,77.7h0.9v0.9h-0.9zM92.0,67.7h0.9v0.9h-0.9zM93.7,67.2h0.9v0.9h-0.9zM92.0,71.2h0.9v0.9h-0.9zM91.3,66.3h0.9v0.9h-0.9zM90.2,65.8h0.9v0.9h-0.9zM95.9,60.9h0.9v0.9h-0.9zM92.8,71.1h0.9v0.9h-0.9zM93.5,60.8h0.9v0.9h-0.9zM89.1,68.7h0.9v0.9h-0.9zM90.5,59.1h0.9v0.9h-0.9zM93.7,71.6h0.9v0.9h-0.9zM89.0,61.0h0.9v0.9h-0.9zM88.0,70.4h0.9v0.9h-0.9zM91.7,58.2h0.9v0.9h-0.9zM97.8,64.0h0.9v0.9h-0.9zM93.8,72.1h0.9v0.9h-0.9zM98.8,62.2h0.9v0.9h-0.9zM92.5,66.5h0.9v0.9h-0.9zM91.8,63.8h0.9v0.9h-0.9zM87.4,54.6h0.9v0.9h-0.9zM90.7,67.7h0.9v0.9h-0.9zM98.7,68.4h0.9v0.9h-0.9zM94.3,60.6h0.9v0.9h-0.9zM95.9,69.0h0.9v0.9h-0.9zM95.8,62.2h0.9v0.9h-0.9zM93.0,61.1h0.9v0.9h-0.9zM92.2,66.2h0.9v0.9h-0.9zM93.5,62.8h0.9v0.9h-0.9zM95.7,77.6h0.9v0.9h-0.9zM94.8,58.4h0.9v0.9h-0.9zM95.0,69.9h0.9v0.9h-0.9zM93.6,71.1h0.9v0.9h-0.9zM89.9,56.3h0.9v0.9h-0.9zM92.0,57.5h0.9v0.9h-0.9zM89.2,69.0h0.9v0.9h-0.9zM97.0,63.8h0.9v0.9h-0.9zM84.6,68.0h0.9v0.9h-0.9zM92.1,71.9h0.9v0.9h-0.9zM102.5,64.4h0.9v0.9h-0.9zM91.6,60.8h0.9v0.9h-0.9zM88.5,52.5h0.9v0.9h-0.9zM92.9,67.2h0.9v0.9h-0.9zM98.2,61.5h0.9v0.9h-0.9zM92.4,67.7h0.9v0.9h-0.9zM95.5,67.3h0.9v0.9h-0.9zM93.4,59.2h0.9v0.9h-0.9zM91.5,74.8h0.9v0.9h-0.9zM105.6,71.6h0.9v0.9h-0.9zM93.3,70.4h0.9v0.9h-0.9zM90.9,60.2h0.9v0.9h-0.9zM91.0,64.1h0.9v0.9h-0.9zM94.5,63.4h0.9v0.9h-0.9zM94.6,64.1h0.9v0.9h-0.9zM96.1,60.6h0.9v0.9h-0.9zM93.6,68.3h0.9v0.9h-0.9zM87.3,67.3h0.9v0.9h-0.9zM95.1,68.0h0.9v0.9h-0.9zM91.8,63.6h0.9v0.9h-0.9zM91.9,72.6h0.9v0.9h-0.9zM87.1,67.1h0.9v0.9h-0.9zM90.7,52.5h0.9v0.9h-0.9zM90.1,62.9h0.9v0.9h-0.9zM92.9,65.9h0.9v0.9h-0.9zM87.2,71.0h0.9v0.9h-0.9zM93.2,64.7h0.9v0.9h-0.9zM93.5,64.9h0.9v0.9h-0.9zM88.5,62.8h0.9v0.9h-0.9zM90.5,69.5h0.9v0.9h-0.9zM89.6,63.9h0.9v0.9h-0.9zM96.6,63.2h0.9v0.9h-0.9zM91.6,68.9h0.9v0.9h-0.9zM86.4,63.5h0.9v0.9h-0.9zM91.3,57.8h0.9v0.9h-0.9zM96.4,69.3h0.9v0.9h-0.9zM90.5,62.6h0.9v0.9h-0.9zM93.6,68.0h0.9v0.9h-0.9zM89.6,68.0h0.9v0.9h-0.9zM100.8,72.2h0.9v0.9h-0.9zM96.7,71.4h0.9v0.9h-0.9zM97.5,63.3h0.9v0.9h-0.9zM87.7,65.3h0.9v0.9h-0.9zM88.6,59.7h0.9v0.9h-0.9zM97.3,74.6h0.9v0.9h-0.9zM92.2,68.4h0.9v0.9h-0.9zM92.0,73.1h0.9v0.9h-0.9zM94.3,64.6h0.9v0.9h-0.9zM88.0,55.9h0.9v0.9h-0.9zM96.1,73.8h0.9v0.9h-0.9zM93.1,66.6h0.9v0.9h-0.9zM94.9,66.8h0.9v0.9h-0.9zM90.3,66.4h0.9v0.9h-0.9zM95.1,69.4h0.9v0.9h-0.9zM90.2,68.8h0.9v0.9h-0.9zM96.8,58.2h0.9v0.9h-0.9zM97.5,71.6h0.9v0.9h-0.9zM96.6,63.5h0.9v0.9h-0.9zM95.1,63.8h0.9v0.9h-0.9zM95.5,74.8h0.9v0.9h-0.9zM96.3,64.5h0.9v0.9h-0.9zM91.9,56.9h0.9v0.9h-0.9zM93.4,67.0h0.9v0.9h-0.9zM91.9,68.9h0.9v0.9h-0.9zM87.4,65.7h0.9v0.9h-0.9zM90.8,59.9h0.9v0.9h-0.9zM95.6,62.2h0.9v0.9h-0.9zM98.7,59.9h0.9v0.9h-0.9zM90.5,67.2h0.9v0.9h-0.9zM89.4,70.2h0.9v0.9h-0.9zM98.8,71.3h0.9v0.9h-0.9zM89.5,62.5h0.9v0.9h-0.9zM101.3,67.4h0.9v0.9h-0.9zM93.2,68.9h0.9v0.9h-0.9zM89.5,63.6h0.9v0.9h-0.9zM96.9,65.4h0.9v0.9h-0.9zM99.8,76.8h0.9v0.9h-0.9zM87.3,67.2h0.9v0.9h-0.9zM99.2,70.6h0.9v0.9h-0.9zM91.9,64.0h0.9v0.9h-0.9zM98.9,66.4h0.9v0.9h-0.9zM91.5,57.6h0.9v0.9h-0.9zM86.7,66.0h0.9v0.9h-0.9zM95.0,72.1h0.9v0.9h-0.9zM96.7,76.7h0.9v0.9h-0.9zM101.4,72.2h0.9v0.9h-0.9zM99.9,69.6h0.9v0.9h-0.9zM95.8,66.4h0.9v0.9h-0.9zM92.0,63.2h0.9v0.9h-0.9zM90.9,65.4h0.9v0.9h-0.9zM91.8,69.2h0.9v0.9h-0.9zM89.7,62.2h0.9v0.9h-0.9zM91.9,70.8h0.9v0.9h-0.9zM93.7,57.3h0.9v0.9h-0.9zM92.9,61.1h0.9v0.9h-0.9zM103.3,57.9h0.9v0.9h-0.9zM96.0,59.3h0.9v0.9h-0.9zM91.1,71.8h0.9v0.9h-0.9zM95.3,65.2h0.9v0.9h-0.9zM88.1,67.2h0.9v0.9h-0.9zM90.6,71.9h0.9v0.9h-0.9zM85.5,72.4h0.9v0.9h-0.9zM98.7,63.7h0.9v0.9h-0.9zM95.4,72.8h0.9v0.9h-0.9zM88.3,68.1h0.9v0.9h-0.9zM92.8,66.2h0.9v0.9h-0.9zM96.8,68.4h0.9v0.9h-0.9zM95.0,59.0h0.9v0.9h-0.9zM94.5,62.2h0.9v0.9h-0.9zM89.6,65.6h0.9v0.9h-0.9zM90.5,69.2h0.9v0.9h-0.9zM93.4,64.3h0.9v0.9h-0.9zM96.7,65.5h0.9v0.9h-0.9zM89.7,71.0h0.9v0.9h-0.9zM88.5,73.2h0.9v0.9h-0.9zM97.6,70.0h0.9v0.9h-0.9zM89.3,72.5h0.9v0.9h-0.9zM97.3,64.2h0.9v0.9h-0.9zM94.0,64.6h0.9v0.9h-0.9zM96.5,67.8h0.9v0.9h-0.9zM100.0,64.7h0.9v0.9h-0.9zM95.8,63.6h0.9v0.9h-0.9zM96.1,74.4h0.9v0.9h-0.9zM133.7,57.9h0.9v0.9h-0.9zM106.6,58.2h0.9v0.9h-0.9zM111.6,54.4h0.9v0.9h-0.9zM101.1,63.6h0.9v0.9h-0.9zM148.7,53.3h0.9v0.9h-0.9zM143.5,57.8h0.9v0.9h-0.9zM100.2,60.4h0.9v0.9h-0.9zM126.9,58.0h0.9v0.9h-0.9zM107.8,63.0h0.9v0.9h-0.9zM140.9,55.5h0.9v0.9h-0.9zM129.4,59.5h0.9v0.9h-0.9zM151.7,49.7h0.9v0.9h-0.9zM138.6,57.1h0.9v0.9h-0.9zM101.0,58.6h0.9v0.9h-0.9zM117.4,57.0h0.9v0.9h-0.9zM129.6,56.0h0.9v0.9h-0.9zM149.7,54.5h0.9v0.9h-0.9zM117.3,61.5h0.9v0.9h-0.9zM106.3,54.0h0.9v0.9h-0.9zM112.0,58.1h0.9v0.9h-0.9zM109.9,56.4h0.9v0.9h-0.9zM104.3,61.8h0.9v0.9h-0.9zM115.6,56.5h0.9v0.9h-0.9zM109.9,59.4h0.9v0.9h-0.9zM125.6,55.4h0.9v0.9h-0.9zM148.7,55.4h0.9v0.9h-0.9zM152.3,55.9h0.9v0.9h-0.9zM104.6,57.8h0.9v0.9h-0.9zM129.2,56.1h0.9v0.9h-0.9zM135.4,51.7h0.9v0.9h-0.9zM104.2,59.6h0.9v0.9h-0.9zM126.9,58.4h0.9v0.9h-0.9zM107.0,57.2h0.9v0.9h-0.9zM116.8,60.2h0.9v0.9h-0.9zM114.4,52.5h0.9v0.9h-0.9zM143.9,49.7h0.9v0.9h-0.9zM109.0,54.8h0.9v0.9h-0.9zM127.4,55.0h0.9v0.9h-0.9zM130.1,55.9h0.9v0.9h-0.9zM114.8,57.5h0.9v0.9h-0.9zM150.8,53.4h0.9v0.9h-0.9zM114.9,59.5h0.9v0.9h-0.9zM114.6,56.5h0.9v0.9h-0.9zM136.6,52.0h0.9v0.9h-0.9zM124.3,53.5h0.9v0.9h-0.9zM138.5,60.2h0.9v0.9h-0.9zM104.2,53.0h0.9v0.9h-0.9zM103.9,58.5h0.9v0.9h-0.9zM139.2,58.5h0.9v0.9h-0.9zM118.3,58.5h0.9v0.9h-0.9zM146.4,51.9h0.9v0.9h-0.9zM109.0,58.3h0.9v0.9h-0.9zM109.4,60.4h0.9v0.9h-0.9zM146.8,57.0h0.9v0.9h-0.9zM116.7,55.2h0.9v0.9h-0.9zM101.6,61.1h0.9v0.9h-0.9zM108.2,59.0h0.9v0.9h-0.9zM141.2,57.4h0.9v0.9h-0.9zM110.9,61.6h0.9v0.9h-0.9zM128.3,55.2h0.9v0.9h-0.9zM145.1,50.6h0.9v0.9h-0.9zM131.6,56.7h0.9v0.9h-0.9zM140.2,59.2h0.9v0.9h-0.9zM153.6,54.9h0.9v0.9h-0.9zM113.0,58.4h0.9v0.9h-0.9zM147.6,59.9h0.9v0.9h-0.9zM128.1,53.5h0.9v0.9h-0.9zM107.1,60.8h0.9v0.9h-0.9zM102.9,57.6h0.9v0.9h-0.9zM114.7,57.8h0.9v0.9h-0.9zM103.3,59.2h0.9v0.9h-0.9zM141.3,58.4h0.9v0.9h-0.9zM128.4,53.7h0.9v0.9h-0.9zM97.7,58.3h0.9v0.9h-0.9zM147.7,49.9h0.9v0.9h-0.9zM130.8,57.0h0.9v0.9h-0.9zM121.6,55.7h0.9v0.9h-0.9zM103.5,60.0h0.9v0.9h-0.9zM123.2,54.0h0.9v0.9h-0.9zM150.0,52.7h0.9v0.9h-0.9zM130.1,58.5h0.9v0.9h-0.9zM122.6,56.3h0.9v0.9h-0.9zM131.5,57.3h0.9v0.9h-0.9zM128.0,57.5h0.9v0.9h-0.9zM132.4,54.7h0.9v0.9h-0.9zM106.9,54.7h0.9v0.9h-0.9zM103.9,61.4h0.9v0.9h-0.9zM95.8,60.3h0.9v0.9h-0.9zM144.9,56.7h0.9v0.9h-0.9zM95.2,54.9h0.9v0.9h-0.9zM110.4,54.0h0.9v0.9h-0.9zM130.1,50.5h0.9v0.9h-0.9zM125.0,54.3h0.9v0.9h-0.9zM149.1,56.3h0.9v0.9h-0.9zM107.8,59.9h0.9v0.9h-0.9zM101.8,59.1h0.9v0.9h-0.9zM104.6,59.2h0.9v0.9h-0.9zM124.9,58.4h0.9v0.9h-0.9zM112.5,57.2h0.9v0.9h-0.9zM122.3,57.8h0.9v0.9h-0.9zM136.3,55.5h0.9v0.9h-0.9zM114.3,52.2h0.9v0.9h-0.9zM134.9,54.4h0.9v0.9h-0.9zM96.2,63.2h0.9v0.9h-0.9zM127.8,55.2h0.9v0.9h-0.9zM149.4,53.3h0.9v0.9h-0.9zM151.0,52.0h0.9v0.9h-0.9zM129.3,54.8h0.9v0.9h-0.9zM154.0,56.0h0.9v0.9h-0.9zM109.1,57.6h0.9v0.9h-0.9zM112.9,55.3h0.9v0.9h-0.9zM121.9,49.1h0.9v0.9h-0.9zM125.5,55.0h0.9v0.9h-0.9zM144.2,49.4h0.9v0.9h-0.9zM121.8,52.3h0.9v0.9h-0.9zM97.9,61.6h0.9v0.9h-0.9zM137.0,56.9h0.9v0.9h-0.9zM108.4,53.6h0.9v0.9h-0.9zM147.9,56.0h0.9v0.9h-0.9zM107.7,59.6h0.9v0.9h-0.9zM112.7,55.9h0.9v0.9h-0.9zM103.2,60.8h0.9v0.9h-0.9zM113.2,53.8h0.9v0.9h-0.9zM131.1,52.8h0.9v0.9h-0.9zM111.0,54.5h0.9v0.9h-0.9zM97.9,56.8h0.9v0.9h-0.9zM130.2,58.1h0.9v0.9h-0.9zM139.1,51.5h0.9v0.9h-0.9zM101.5,56.3h0.9v0.9h-0.9zM120.5,54.6h0.9v0.9h-0.9zM99.1,60.0h0.9v0.9h-0.9zM96.0,59.0h0.9v0.9h-0.9zM117.5,59.5h0.9v0.9h-0.9zM112.2,56.2h0.9v0.9h-0.9zM147.5,50.7h0.9v0.9h-0.9zM95.8,58.6h0.9v0.9h-0.9zM133.8,55.6h0.9v0.9h-0.9zM139.0,52.5h0.9v0.9h-0.9zM120.0,57.7h0.9v0.9h-0.9zM125.0,61.0h0.9v0.9h-0.9zM109.8,56.8h0.9v0.9h-0.9zM110.1,58.3h0.9v0.9h-0.9zM98.2,62.9h0.9v0.9h-0.9zM149.3,52.0h0.9v0.9h-0.9zM96.7,57.6h0.9v0.9h-0.9zM103.2,56.2h0.9v0.9h-0.9zM138.5,55.9h0.9v0.9h-0.9zM122.5,58.0h0.9v0.9h-0.9zM125.7,56.0h0.9v0.9h-0.9zM112.7,58.0h0.9v0.9h-0.9zM104.7,62.0h0.9v0.9h-0.9zM142.9,56.5h0.9v0.9h-0.9zM102.4,55.5h0.9v0.9h-0.9zM112.7,57.8h0.9v0.9h-0.9zM140.1,55.0h0.9v0.9h-0.9zM112.9,59.6h0.9v0.9h-0.9zM152.1,52.8h0.9v0.9h-0.9zM105.5,57.1h0.9v0.9h-0.9zM126.7,55.1h0.9v0.9h-0.9zM127.3,51.7h0.9v0.9h-0.9zM125.0,56.4h0.9v0.9h-0.9zM141.5,53.0h0.9v0.9h-0.9zM97.8,60.7h0.9v0.9h-0.9zM127.8,53.5h0.9v0.9h-0.9zM142.4,53.3h0.9v0.9h-0.9zM98.0,57.1h0.9v0.9h-0.9zM127.8,53.4h0.9v0.9h-0.9zM121.4,58.6h0.9v0.9h-0.9zM119.3,55.9h0.9v0.9h-0.9zM127.3,57.3h0.9v0.9h-0.9zM132.5,52.7h0.9v0.9h-0.9zM137.2,55.2h0.9v0.9h-0.9zM148.9,49.4h0.9v0.9h-0.9zM134.4,54.1h0.9v0.9h-0.9zM154.9,51.7h0.9v0.9h-0.9zM134.9,56.7h0.9v0.9h-0.9zM111.1,58.4h0.9v0.9h-0.9zM103.8,58.4h0.9v0.9h-0.9zM99.3,61.4h0.9v0.9h-0.9zM111.1,58.5h0.9v0.9h-0.9zM102.1,60.4h0.9v0.9h-0.9zM136.0,57.0h0.9v0.9h-0.9zM136.4,54.9h0.9v0.9h-0.9zM131.7,54.9h0.9v0.9h-0.9zM118.0,58.0h0.9v0.9h-0.9zM122.8,55.6h0.9v0.9h-0.9zM110.6,59.0h0.9v0.9h-0.9zM150.1,56.3h0.9v0.9h-0.9zM96.0,61.8h0.9v0.9h-0.9zM114.2,56.7h0.9v0.9h-0.9zM129.4,52.7h0.9v0.9h-0.9zM105.8,58.4h0.9v0.9h-0.9zM146.3,53.6h0.9v0.9h-0.9zM123.8,59.3h0.9v0.9h-0.9zM117.2,56.3h0.9v0.9h-0.9zM98.8,58.9h0.9v0.9h-0.9zM111.9,59.7h0.9v0.9h-0.9zM130.4,54.6h0.9v0.9h-0.9zM111.9,57.5h0.9v0.9h-0.9zM97.7,63.8h0.9v0.9h-0.9zM129.8,59.5h0.9v0.9h-0.9zM113.2,59.3h0.9v0.9h-0.9zM145.8,54.6h0.9v0.9h-0.9zM136.5,52.6h0.9v0.9h-0.9zM138.3,56.2h0.9v0.9h-0.9zM148.4,53.8h0.9v0.9h-0.9zM143.6,54.8h0.9v0.9h-0.9zM114.8,56.3h0.9v0.9h-0.9zM129.1,55.9h0.9v0.9h-0.9zM110.5,57.6h0.9v0.9h-0.9zM107.1,59.2h0.9v0.9h-0.9zM107.4,62.0h0.9v0.9h-0.9zM101.7,60.0h0.9v0.9h-0.9zM109.3,54.0h0.9v0.9h-0.9zM108.5,55.8h0.9v0.9h-0.9zM135.4,51.2h0.9v0.9h-0.9zM110.1,56.1h0.9v0.9h-0.9zM97.8,60.9h0.9v0.9h-0.9zM120.3,57.9h0.9v0.9h-0.9zM107.1,56.9h0.9v0.9h-0.9zM136.4,55.7h0.9v0.9h-0.9zM108.3,56.4h0.9v0.9h-0.9zM128.4,52.4h0.9v0.9h-0.9zM105.6,55.1h0.9v0.9h-0.9zM123.9,54.3h0.9v0.9h-0.9zM147.0,57.4h0.9v0.9h-0.9zM113.2,54.4h0.9v0.9h-0.9zM126.6,59.3h0.9v0.9h-0.9zM121.3,60.1h0.9v0.9h-0.9zM99.2,58.9h0.9v0.9h-0.9zM96.2,59.5h0.9v0.9h-0.9zM145.5,52.5h0.9v0.9h-0.9zM115.4,57.4h0.9v0.9h-0.9zM136.2,56.7h0.9v0.9h-0.9zM119.8,57.0h0.9v0.9h-0.9zM145.3,56.5h0.9v0.9h-0.9zM106.7,61.4h0.9v0.9h-0.9zM124.0,57.3h0.9v0.9h-0.9zM127.9,56.8h0.9v0.9h-0.9zM142.6,54.2h0.9v0.9h-0.9zM96.8,60.5h0.9v0.9h-0.9zM116.7,54.5h0.9v0.9h-0.9zM123.5,57.5h0.9v0.9h-0.9zM130.3,56.3h0.9v0.9h-0.9zM103.5,56.7h0.9v0.9h-0.9zM127.6,61.4h0.9v0.9h-0.9zM136.6,52.6h0.9v0.9h-0.9zM139.0,52.6h0.9v0.9h-0.9zM108.5,59.0h0.9v0.9h-0.9zM121.4,51.9h0.9v0.9h-0.9zM157.5,57.5h0.9v0.9h-0.9zM158.5,54.2h0.9v0.9h-0.9zM180.9,55.1h0.9v0.9h-0.9zM169.5,52.7h0.9v0.9h-0.9zM164.7,56.0h0.9v0.9h-0.9zM185.4,56.3h0.9v0.9h-0.9zM185.5,55.6h0.9v0.9h-0.9zM164.4,51.1h0.9v0.9h-0.9zM182.0,54.3h0.9v0.9h-0.9zM177.7,56.6h0.9v0.9h-0.9zM197.3,55.2h0.9v0.9h-0.9zM158.4,59.1h0.9v0.9h-0.9zM166.7,52.6h0.9v0.9h-0.9zM183.3,56.4h0.9v0.9h-0.9zM156.7,54.6h0.9v0.9h-0.9zM197.3,54.9h0.9v0.9h-0.9zM171.4,57.3h0.9v0.9h-0.9zM193.7,53.1h0.9v0.9h-0.9zM167.5,56.2h0.9v0.9h-0.9zM202.4,51.3h0.9v0.9h-0.9zM165.6,52.3h0.9v0.9h-0.9zM155.3,57.7h0.9v0.9h-0.9zM158.4,56.0h0.9v0.9h-0.9zM140.2,41.9h0.9v0.9h-0.9zM110.3,45.7h0.9v0.9h-0.9zM150.8,71.2h0.9v0.9h-0.9zM102.9,57.6h0.9v0.9h-0.9zM108.5,77.1h0.9v0.9h-0.9zM136.9,64.3h0.9v0.9h-0.9zM151.3,56.6h0.9v0.9h-0.9zM106.6,66.5h0.9v0.9h-0.9zM115.8,57.5h0.9v0.9h-0.9zM135.7,62.5h0.9v0.9h-0.9zM138.5,56.5h0.9v0.9h-0.9zM98.1,44.1h0.9v0.9h-0.9zM108.6,77.5h0.9v0.9h-0.9zM110.2,60.5h0.9v0.9h-0.9zM131.2,57.2h0.9v0.9h-0.9zM114.7,64.8h0.9v0.9h-0.9z" fill="#111"/>
<path transform="translate(0,-0.69)" d="M91.3,55.5 Q100,52.5 118,51.2 L155.3,50 L155.3,64 L130,69.8 L97,76.5 Q88,70 91.3,55.5 Z" fill="none" stroke="#222" stroke-width="0.9"/>
<path transform="translate(0,-0.22)" d="M210.9,50.2 V37.6 L216.45,32.3 L222,37.6 V50.2 M210.9,43.5 H222" fill="none" stroke="#000" stroke-width="2.5" stroke-linejoin="miter" stroke-linecap="butt"/>
<line x1="292.5" y1="20.16" x2="292.5" y2="153.78" stroke="#222" stroke-width="1.15"/>
<line x1="292.5" y1="153.78" x2="507.7" y2="153.78" stroke="#3aae3a" stroke-width="1.15"/>
<path d="M292.5,153.78v3.8 M292.5,153.78h-4 M300.87,153.78v2.4 M309.24,153.78v2.4 M317.62,153.78v2.4 M325.99,153.78v2.4 M334.36,153.78v3.6 M342.73,153.78v2.4 M351.1,153.78v2.4 M359.48,153.78v2.4 M367.85,153.78v2.4 M376.22,153.78v3.6 M384.59,153.78v2.4 M392.96,153.78v2.4 M401.34,153.78v2.4 M409.71,153.78v2.4 M418.08,153.78v3.6 M426.45,153.78v2.4 M434.82,153.78v2.4 M443.2,153.78v2.4 M451.57,153.78v2.4 M459.94,153.78v3.6 M468.31,153.78v2.4 M476.68,153.78v2.4 M485.06,153.78v2.4 M493.43,153.78v2.4 M501.8,153.78v3.6 M292.5,145.73h-2.2 M292.5,137.68h-2.2 M292.5,129.63h-2.2 M292.5,121.58h-2.2 M292.5,113.53h-3.4 M292.5,105.48h-2.2 M292.5,97.42h-2.2 M292.5,89.37h-2.2 M292.5,81.32h-2.2 M292.5,73.27h-3.4 M292.5,65.22h-2.2 M292.5,57.17h-2.2 M292.5,49.12h-2.2 M292.5,41.07h-2.2 M292.5,33.02h-3.4 M292.5,24.97h-2.2" stroke="#222" stroke-width="1.05" fill="none"/>
<text transform="translate(292.5,164.5) scale(0.963,1)" font-size="9.7" font-family='"Liberation Mono", monospace' text-anchor="middle" fill="#222" stroke="#222" stroke-width="0.3" vector-effect="non-scaling-stroke">Ø</text>
<text transform="translate(334.36,164.5) scale(0.963,1)" font-size="9.7" font-family='"Liberation Mono", monospace' text-anchor="middle" fill="#222" stroke="#222" stroke-width="0.3" vector-effect="non-scaling-stroke">2ØØ</text>
<text transform="translate(376.22,164.5) scale(0.963,1)" font-size="9.7" font-family='"Liberation Mono", monospace' text-anchor="middle" fill="#222" stroke="#222" stroke-width="0.3" vector-effect="non-scaling-stroke">4ØØ</text>
<text transform="translate(418.08,164.5) scale(0.963,1)" font-size="9.7" font-family='"Liberation Mono", monospace' text-anchor="middle" fill="#222" stroke="#222" stroke-width="0.3" vector-effect="non-scaling-stroke">6ØØ</text>
<text transform="translate(459.94,164.5) scale(0.963,1)" font-size="9.7" font-family='"Liberation Mono", monospace' text-anchor="middle" fill="#222" stroke="#222" stroke-width="0.3" vector-effect="non-scaling-stroke">8ØØ</text>
<text transform="translate(501.8,164.5) scale(0.963,1)" font-size="9.7" font-family='"Liberation Mono", monospace' text-anchor="middle" fill="#222" stroke="#222" stroke-width="0.3" vector-effect="non-scaling-stroke">1ØØØ</text>
<text transform="translate(288.7,153.78) rotate(-90) scale(0.963,1)" font-size="9.7" font-family='"Liberation Mono", monospace' text-anchor="middle" fill="#222" stroke="#222" stroke-width="0.3" vector-effect="non-scaling-stroke">Ø</text>
<text transform="translate(288.7,113.53) rotate(-90) scale(0.963,1)" font-size="9.7" font-family='"Liberation Mono", monospace' text-anchor="middle" fill="#222" stroke="#222" stroke-width="0.3" vector-effect="non-scaling-stroke">3Ø</text>
<text transform="translate(288.7,73.27) rotate(-90) scale(0.963,1)" font-size="9.7" font-family='"Liberation Mono", monospace' text-anchor="middle" fill="#222" stroke="#222" stroke-width="0.3" vector-effect="non-scaling-stroke">6Ø</text>
<text transform="translate(288.7,33.02) rotate(-90) scale(0.963,1)" font-size="9.7" font-family='"Liberation Mono", monospace' text-anchor="middle" fill="#222" stroke="#222" stroke-width="0.3" vector-effect="non-scaling-stroke">9Ø</text>
<text transform="translate(353.54,10.4) scale(0.9639,1)" font-size="9.519" font-family='"Liberation Mono", monospace' fill="#222" stroke="#222" stroke-width="0.120" vector-effect="non-scaling-stroke">Overlays Smoothed</text>
<polyline points="292.5,136.4 293.6,134.1 294.7,135.3 295.8,140.8 296.9,132.0 298.0,133.1 299.1,136.1 300.2,131.0 301.3,131.0 302.4,130.6 303.5,131.0 304.6,128.2 305.7,132.8 306.8,129.7 307.9,130.4 309.0,125.0 310.1,126.7 311.2,127.4 312.3,128.8 313.4,125.8 314.5,124.0 315.6,124.7 316.7,116.9 317.8,117.6 318.9,134.1 320.0,130.1 321.1,121.9 322.2,122.9 323.3,119.7 324.4,119.5 325.5,110.3 326.6,125.7 327.7,122.5 328.8,111.5 329.9,118.3 331.0,118.5 332.1,124.2 333.2,129.6 334.3,121.6 335.4,122.1 336.5,128.4 337.6,126.1 338.7,123.6 339.8,127.8 340.9,124.5 342.0,124.2 343.1,125.0 344.2,128.0 345.3,124.4 346.4,124.4 347.5,128.0 348.6,133.4 349.7,127.5 350.8,133.0 351.9,127.8 353.0,136.2 354.1,128.7 355.2,132.6 356.3,137.7 357.4,134.2 358.5,133.0 359.6,132.3 360.7,137.4 361.8,138.3 362.9,133.6 364.0,136.6 365.1,134.3 366.2,132.8 367.3,142.2 368.4,135.5 369.5,132.5 370.6,138.8 371.7,141.3 372.8,136.6 373.9,139.0 375.0,137.6 376.1,142.4 377.2,146.7 378.3,142.7 379.4,144.3 380.5,141.1 381.6,143.4 382.7,149.5 383.8,148.7 384.9,143.1 386.0,144.0 387.1,148.0 388.2,146.4 389.3,145.3 390.4,145.5 391.5,144.6 392.6,146.6 393.7,147.7 394.8,148.2 395.9,144.8 397.0,153.8 398.1,148.2 399.2,147.9 400.3,151.8 401.4,147.3 402.5,149.9 403.6,146.1 404.7,148.7 405.8,146.8 406.9,145.4 408.0,147.7 409.1,151.0 410.2,152.7 411.3,144.5 412.4,149.3 413.5,150.8 414.6,148.8 415.7,149.7 416.8,147.1 417.9,149.2 419.0,149.3 420.1,151.2 421.2,148.3 422.3,152.1 423.4,148.0 424.5,146.0 425.6,153.4 426.7,153.8 427.8,148.4 428.9,143.8 430.0,152.3 431.1,153.0 432.2,148.7 433.3,152.1 434.4,151.4 435.5,151.0 436.6,149.1 437.7,151.3 438.8,149.8 439.9,151.0 441.0,152.6 442.1,151.6 443.2,153.1 444.3,151.1 445.4,153.7 446.5,153.8 447.6,148.6 448.7,151.9 449.8,152.0 450.9,151.2 452.0,153.0 453.1,152.8 454.2,152.1 455.3,152.6 456.4,153.8 457.5,152.7 458.6,153.8 459.7,153.8 460.8,153.8 461.9,153.8 463.0,153.8 464.1,153.8 465.2,153.8 466.3,153.8 467.4,153.8 468.5,153.8 469.6,153.8 470.7,153.8 471.8,153.8 472.9,153.8 474.0,153.8 475.1,153.8 476.2,153.8 477.3,153.8 478.4,153.8 479.5,153.8 480.6,153.8 481.7,153.8 482.8,153.8 483.9,153.8 485.0,153.8 486.1,153.8 487.2,153.8 488.3,153.8 489.4,153.8 490.5,153.8 491.6,153.8 492.7,153.8 493.8,153.8 494.9,153.8 496.0,153.8 497.1,153.8 498.2,153.8 499.3,153.8 500.4,153.8 501.5,153.8" fill="none" stroke="#111" stroke-width="1.25" stroke-opacity="1"/>
<polyline points="292.5,153.8 293.3,153.8 294.1,153.8 294.9,153.8 295.7,153.5 296.5,153.6 297.3,153.7 298.1,153.6 298.9,153.6 299.7,153.8 300.5,153.5 301.3,153.7 302.1,153.7 302.9,153.8 303.7,153.5 304.5,153.6 305.3,153.4 306.1,153.7 306.9,153.5 307.7,153.8 308.5,153.3 309.3,153.5 310.1,153.4 310.9,153.4 311.7,153.8 312.5,153.2 313.3,152.7 314.1,153.8 314.9,153.8 315.7,153.8 316.5,153.1 317.3,153.3 318.1,152.9 318.9,153.1 319.7,153.3 320.5,153.2 321.3,153.4 322.1,152.9 322.9,153.8 323.7,153.5 324.5,153.2 325.3,152.4 326.1,153.6 326.9,153.8 327.7,153.5 328.5,152.7 329.3,153.3 330.1,152.5 330.9,153.8 331.7,152.5 332.5,152.6 333.3,153.8 334.1,153.0 334.9,152.1 335.7,152.6 336.5,151.4 337.3,149.4 338.1,151.4 338.9,151.9 339.7,152.2 340.5,150.0 341.3,150.9 342.1,150.6 342.9,150.2 343.7,148.8 344.5,151.0 345.3,151.3 346.1,152.3 346.9,145.9 347.7,147.3 348.5,144.3 349.3,146.5 350.1,147.3 350.9,144.6 351.7,145.2 352.5,146.9 353.3,145.8 354.1,140.1 354.9,142.4 355.7,141.8 356.5,142.7 357.3,143.1 358.1,139.3 358.9,140.9 359.7,141.9 360.5,140.0 361.3,141.3 362.1,138.3 362.9,135.7 363.7,139.5 364.5,133.4 365.3,137.5 366.1,134.8 366.9,136.4 367.7,134.1 368.5,132.6 369.3,133.0 370.1,132.9 370.9,131.9 371.7,130.2 372.5,130.2 373.3,124.3 374.1,120.2 374.9,116.4 375.7,115.0 376.5,106.9 377.3,110.8 378.1,110.5 378.9,99.4 379.7,106.3 380.5,95.7 381.3,99.9 382.1,92.2 382.9,98.3 383.7,84.3 384.5,85.7 385.3,86.1 386.1,72.3 386.9,73.1 387.7,73.2 388.5,72.6 389.3,70.9 390.1,75.6 390.9,74.8 391.7,77.6 392.5,86.6 393.3,89.1 394.1,91.7 394.9,97.2 395.7,96.7 396.5,97.2 397.3,96.8 398.1,97.8 398.9,109.0 399.7,108.0 400.5,115.0 401.3,110.5 402.1,120.5 402.9,122.3 403.7,129.7 404.5,131.9 405.3,131.8 406.1,135.8 406.9,136.3 407.7,142.7 408.5,139.8 409.3,145.0 410.1,141.0 410.9,145.8 411.7,144.1 412.5,149.4 413.3,146.6 414.1,149.1 414.9,148.7 415.7,148.2 416.5,149.0 417.3,148.4 418.1,147.9 418.9,148.2 419.7,149.4 420.5,151.5 421.3,150.7 422.1,149.9 422.9,152.9 423.7,148.7 424.5,150.3 425.3,150.4 426.1,148.7 426.9,149.2 427.7,150.0 428.5,151.9 429.3,150.0 430.1,150.0 430.9,151.8 431.7,149.2 432.5,150.0 433.3,153.5 434.1,150.6 434.9,152.6 435.7,149.3 436.5,149.8 437.3,152.5 438.1,152.2 438.9,151.0 439.7,151.5 440.5,149.2 441.3,150.3 442.1,151.7 442.9,150.7 443.7,153.8 444.5,151.2 445.3,150.5 446.1,151.9 446.9,152.7 447.7,151.1 448.5,149.6 449.3,151.7 450.1,153.3 450.9,150.5 451.7,153.8 452.5,151.9 453.3,153.0 454.1,151.9 454.9,153.4 455.7,152.1 456.5,153.0 457.3,153.8 458.1,153.8 458.9,153.7 459.7,153.6 460.5,153.8 461.3,153.8 462.1,153.8 462.9,153.8 463.7,153.8 464.5,153.8 465.3,153.8 466.1,153.8 466.9,153.8 467.7,153.8 468.5,153.8 469.3,153.8 470.1,153.8 470.9,153.8 471.7,153.8 472.5,153.8 473.3,153.8 474.1,153.8 474.9,153.8 475.7,153.8 476.5,153.8 477.3,153.8 478.1,153.8 478.9,153.8 479.7,153.8 480.5,153.8 481.3,153.8 482.1,153.8 482.9,153.8 483.7,153.8 484.5,153.8 485.3,153.8 486.1,153.8 486.9,153.8 487.7,153.8 488.5,153.8 489.3,153.8 490.1,153.8 490.9,153.8 491.7,153.8 492.5,153.8 493.3,153.8 494.1,153.8 494.9,153.8 495.7,153.8 496.5,153.8 497.3,153.8 498.1,153.8 498.9,153.8 499.7,153.8 500.5,153.8 501.3,153.8" fill="none" stroke="#c4122e" stroke-width="1.3" stroke-dasharray="3,1.2,1,1.2" stroke-opacity="1"/>
<polyline points="292.5,151.1 293.3,153.8 294.1,152.4 294.9,153.1 295.7,153.0 296.5,152.9 297.3,153.8 298.1,152.9 298.9,153.4 299.7,150.0 300.5,152.5 301.3,152.9 302.1,152.9 302.9,153.2 303.7,153.5 304.5,153.0 305.3,152.2 306.1,152.8 306.9,151.8 307.7,152.8 308.5,152.6 309.3,151.3 310.1,152.1 310.9,153.0 311.7,152.7 312.5,152.1 313.3,150.9 314.1,152.8 314.9,152.8 315.7,151.7 316.5,153.3 317.3,152.8 318.1,151.8 318.9,152.0 319.7,152.5 320.5,151.9 321.3,153.8 322.1,151.6 322.9,153.4 323.7,153.8 324.5,152.3 325.3,151.9 326.1,152.9 326.9,153.5 327.7,152.5 328.5,152.5 329.3,151.2 330.1,151.8 330.9,152.3 331.7,151.4 332.5,152.6 333.3,153.3 334.1,151.9 334.9,151.8 335.7,152.5 336.5,153.1 337.3,152.0 338.1,153.8 338.9,151.3 339.7,151.4 340.5,153.8 341.3,151.8 342.1,153.0 342.9,150.8 343.7,153.8 344.5,152.8 345.3,150.6 346.1,150.0 346.9,153.8 347.7,152.0 348.5,150.5 349.3,151.3 350.1,147.6 350.9,151.3 351.7,148.5 352.5,150.3 353.3,145.8 354.1,147.7 354.9,147.8 355.7,149.7 356.5,143.2 357.3,144.4 358.1,143.7 358.9,142.3 359.7,143.2 360.5,144.5 361.3,144.2 362.1,143.6 362.9,138.5 363.7,143.8 364.5,141.4 365.3,140.2 366.1,138.3 366.9,136.9 367.7,140.1 368.5,140.3 369.3,135.1 370.1,131.1 370.9,131.1 371.7,131.4 372.5,131.8 373.3,129.1 374.1,129.5 374.9,125.5 375.7,128.8 376.5,125.0 377.3,124.5 378.1,121.5 378.9,121.2 379.7,113.0 380.5,115.0 381.3,113.7 382.1,123.5 382.9,117.0 383.7,116.7 384.5,111.8 385.3,119.8 386.1,107.2 386.9,106.7 387.7,114.0 388.5,112.2 389.3,110.9 390.1,107.3 390.9,104.6 391.7,99.1 392.5,106.2 393.3,102.2 394.1,103.7 394.9,97.4 395.7,99.9 396.5,96.6 397.3,104.3 398.1,100.0 398.9,101.2 399.7,91.6 400.5,93.6 401.3,96.5 402.1,96.3 402.9,92.0 403.7,96.4 404.5,98.3 405.3,94.0 406.1,87.7 406.9,99.2 407.7,102.3 408.5,106.6 409.3,110.1 410.1,106.9 410.9,109.2 411.7,115.3 412.5,117.6 413.3,121.6 414.1,124.8 414.9,132.3 415.7,131.9 416.5,133.0 417.3,137.7 418.1,138.8 418.9,141.2 419.7,141.8 420.5,141.1 421.3,144.2 422.1,144.0 422.9,142.5 423.7,143.2 424.5,141.6 425.3,149.1 426.1,144.0 426.9,146.7 427.7,145.8 428.5,144.7 429.3,144.5 430.1,144.8 430.9,146.6 431.7,144.3 432.5,147.7 433.3,147.7 434.1,146.3 434.9,148.7 435.7,144.3 436.5,146.3 437.3,144.5 438.1,148.3 438.9,149.0 439.7,148.2 440.5,147.4 441.3,149.6 442.1,148.2 442.9,148.9 443.7,146.4 444.5,150.1 445.3,147.6 446.1,150.3 446.9,150.9 447.7,150.6 448.5,151.4 449.3,149.5 450.1,148.4 450.9,149.9 451.7,149.4 452.5,148.2 453.3,150.3 454.1,150.6 454.9,151.4 455.7,153.4 456.5,150.4 457.3,153.8 458.1,151.1 458.9,152.3 459.7,151.7 460.5,153.1 461.3,153.7 462.1,153.8 462.9,153.8 463.7,153.8 464.5,153.8 465.3,153.8 466.1,153.8 466.9,153.8 467.7,153.8 468.5,153.8 469.3,153.8 470.1,153.8 470.9,153.8 471.7,153.8 472.5,153.8 473.3,153.8 474.1,153.8 474.9,153.8 475.7,153.8 476.5,153.8 477.3,153.8 478.1,153.8 478.9,153.8 479.7,153.8 480.5,153.8 481.3,153.8 482.1,153.8 482.9,153.8 483.7,153.8 484.5,153.8 485.3,153.8 486.1,153.8 486.9,153.8 487.7,153.8 488.5,153.8 489.3,153.8 490.1,153.8 490.9,153.8 491.7,153.8 492.5,153.8 493.3,153.8 494.1,153.8 494.9,153.8 495.7,153.8 496.5,153.8 497.3,153.8 498.1,153.8 498.9,153.8 499.7,153.8 500.5,153.8 501.3,153.8" fill="none" stroke="#2cc02c" stroke-width="1.3" stroke-dasharray="3,1.2,1,1.2" stroke-opacity="1"/>
<text transform="translate(418.52,90.89) scale(0.9568,1)" font-size="18.676" font-family='"Liberation Mono", monospace' fill="#000" stroke="#000" stroke-width="0.300" vector-effect="non-scaling-stroke">CONTROL</text>
<text transform="translate(424.82,113.12) scale(1.0594,1)" font-size="17.059" font-family='"Liberation Mono", monospace' fill="#c4122e" stroke="#c4122e" stroke-width="0.300" vector-effect="non-scaling-stroke">MRK-16</text>
<text transform="translate(426.91,133.8) scale(0.9432,1)" font-size="19.242" font-family='"Liberation Mono", monospace' fill="#2cc02c" stroke="#2cc02c" stroke-width="0.300" vector-effect="non-scaling-stroke">MM4.17</text>
<path transform="translate(0,1.21)" d="M495.6,22.6 V41.6 M495.6,23.8 H503.6 L506.8,26.8 V29.6 L504.2,32.1 H495.6 M504.2,32.1 L506.8,34.8 V38 L503.8,40.4 H495.6" fill="none" stroke="#000" stroke-width="2.5" stroke-linejoin="miter" stroke-linecap="butt"/>
<line x1="14.46" y1="188.27" x2="14.46" y2="318.89" stroke="#222" stroke-width="1.15"/>
<line x1="14.46" y1="318.89" x2="230.8" y2="318.89" stroke="#a01828" stroke-width="1.15"/>
<path d="M14.46,318.89v3.8 M14.46,318.89h-4 M22.89,318.89v2.4 M31.31,318.89v2.4 M39.74,318.89v2.4 M48.16,318.89v2.4 M56.59,318.89v3.6 M65.01,318.89v2.4 M73.44,318.89v2.4 M81.86,318.89v2.4 M90.29,318.89v2.4 M98.72,318.89v3.6 M107.14,318.89v2.4 M115.57,318.89v2.4 M123.99,318.89v2.4 M132.42,318.89v2.4 M140.84,318.89v3.6 M149.27,318.89v2.4 M157.7,318.89v2.4 M166.12,318.89v2.4 M174.55,318.89v2.4 M182.97,318.89v3.6 M191.4,318.89v2.4 M199.82,318.89v2.4 M208.25,318.89v2.4 M216.67,318.89v2.4 M225.1,318.89v3.6 M14.46,310.71h-2.2 M14.46,302.53h-2.2 M14.46,294.34h-2.2 M14.46,286.16h-2.2 M14.46,277.98h-3.4 M14.46,269.8h-2.2 M14.46,261.61h-2.2 M14.46,253.43h-2.2 M14.46,245.25h-2.2 M14.46,237.07h-3.4 M14.46,228.88h-2.2 M14.46,220.7h-2.2 M14.46,212.52h-2.2 M14.46,204.34h-2.2 M14.46,196.16h-3.4 M14.46,187.97h-2.2" stroke="#222" stroke-width="1.05" fill="none"/>
<text transform="translate(14.46,330.4) scale(0.963,1)" font-size="9.7" font-family='"Liberation Mono", monospace' text-anchor="middle" fill="#222" stroke="#222" stroke-width="0.3" vector-effect="non-scaling-stroke">Ø</text>
<text transform="translate(56.59,330.4) scale(0.963,1)" font-size="9.7" font-family='"Liberation Mono", monospace' text-anchor="middle" fill="#222" stroke="#222" stroke-width="0.3" vector-effect="non-scaling-stroke">2ØØ</text>
<text transform="translate(98.72,330.4) scale(0.963,1)" font-size="9.7" font-family='"Liberation Mono", monospace' text-anchor="middle" fill="#222" stroke="#222" stroke-width="0.3" vector-effect="non-scaling-stroke">4ØØ</text>
<text transform="translate(140.84,330.4) scale(0.963,1)" font-size="9.7" font-family='"Liberation Mono", monospace' text-anchor="middle" fill="#222" stroke="#222" stroke-width="0.3" vector-effect="non-scaling-stroke">6ØØ</text>
<text transform="translate(182.97,330.4) scale(0.963,1)" font-size="9.7" font-family='"Liberation Mono", monospace' text-anchor="middle" fill="#222" stroke="#222" stroke-width="0.3" vector-effect="non-scaling-stroke">8ØØ</text>
<text transform="translate(225.1,330.4) scale(0.963,1)" font-size="9.7" font-family='"Liberation Mono", monospace' text-anchor="middle" fill="#222" stroke="#222" stroke-width="0.3" vector-effect="non-scaling-stroke">1ØØØ</text>
<text transform="translate(10.66,318.89) rotate(-90) scale(0.963,1)" font-size="9.7" font-family='"Liberation Mono", monospace' text-anchor="middle" fill="#222" stroke="#222" stroke-width="0.3" vector-effect="non-scaling-stroke">Ø</text>
<text transform="translate(10.66,277.98) rotate(-90) scale(0.963,1)" font-size="9.7" font-family='"Liberation Mono", monospace' text-anchor="middle" fill="#222" stroke="#222" stroke-width="0.3" vector-effect="non-scaling-stroke">35</text>
<text transform="translate(10.66,237.07) rotate(-90) scale(0.963,1)" font-size="9.7" font-family='"Liberation Mono", monospace' text-anchor="middle" fill="#222" stroke="#222" stroke-width="0.3" vector-effect="non-scaling-stroke">7Ø</text>
<text transform="translate(10.66,196.16) rotate(-90) scale(0.963,1)" font-size="9.7" font-family='"Liberation Mono", monospace' text-anchor="middle" fill="#222" stroke="#222" stroke-width="0.3" vector-effect="non-scaling-stroke">1Ø5</text>
<text transform="translate(75.84,179.93) scale(0.9685,1)" font-size="9.412" font-family='"Liberation Mono", monospace' fill="#222" stroke="#222" stroke-width="0.120" vector-effect="non-scaling-stroke">Overlays Smoothed</text>
<polyline points="14.5,318.9 15.3,318.9 16.1,318.9 16.9,318.9 17.7,318.9 18.5,318.9 19.3,318.9 20.1,318.9 20.9,318.9 21.7,318.9 22.5,318.9 23.3,318.8 24.1,318.8 24.9,318.8 25.7,318.9 26.5,318.6 27.3,318.9 28.1,318.7 28.9,318.8 29.7,318.9 30.5,318.8 31.3,318.8 32.1,318.6 32.9,318.6 33.7,318.2 34.5,318.9 35.3,318.4 36.1,318.7 36.9,317.9 37.7,318.9 38.5,318.2 39.3,317.7 40.1,318.6 40.9,316.8 41.7,317.2 42.5,316.3 43.3,316.0 44.1,317.5 44.9,317.1 45.7,316.2 46.5,314.8 47.3,314.3 48.1,315.5 48.9,314.9 49.7,314.5 50.5,313.6 51.3,312.4 52.1,311.3 52.9,307.1 53.7,309.3 54.5,307.4 55.3,304.2 56.1,304.2 56.9,300.4 57.7,296.4 58.5,291.0 59.3,291.0 60.1,280.1 60.9,278.7 61.7,271.5 62.5,263.4 63.3,257.3 64.1,249.6 64.9,245.9 65.7,240.6 66.5,234.2 67.3,234.0 68.1,223.2 68.9,227.6 69.7,228.3 70.5,217.4 71.3,226.8 72.1,233.7 72.9,228.5 73.7,241.4 74.5,243.6 75.3,256.2 76.1,261.5 76.9,272.2 77.7,279.1 78.5,282.6 79.3,285.9 80.1,288.8 80.9,289.7 81.7,299.8 82.5,298.9 83.3,304.0 84.1,305.0 84.9,308.5 85.7,309.5 86.5,309.3 87.3,310.6 88.1,309.5 88.9,310.9 89.7,308.6 90.5,310.5 91.3,310.8 92.1,309.9 92.9,311.0 93.7,312.0 94.5,312.4 95.3,312.7 96.1,311.5 96.9,312.2 97.7,313.0 98.5,312.7 99.3,314.6 100.1,313.7 100.9,316.1 101.7,313.3 102.5,314.9 103.3,315.1 104.1,314.9 104.9,315.8 105.7,316.3 106.5,315.1 107.3,316.4 108.1,317.5 108.9,316.5 109.7,318.5 110.5,315.9 111.3,317.5 112.1,317.5 112.9,316.3 113.7,316.6 114.5,317.9 115.3,317.8 116.1,317.7 116.9,317.6 117.7,318.4 118.5,318.4 119.3,318.1 120.1,318.5 120.9,318.4 121.7,318.5 122.5,318.9 123.3,318.9 124.1,318.9 124.9,318.8 125.7,318.6 126.5,318.9 127.3,318.7 128.1,318.7 128.9,318.8 129.7,318.8 130.5,318.8 131.3,318.9 132.1,318.9 132.9,318.9 133.7,318.8 134.5,318.8 135.3,318.9 136.1,318.9 136.9,318.9 137.7,318.9 138.5,318.9 139.3,318.9 140.1,318.9 140.9,318.9 141.7,318.9 142.5,318.9 143.3,318.9 144.1,318.9 144.9,318.9 145.7,318.9 146.5,318.9 147.3,318.9 148.1,318.9 148.9,318.9 149.7,318.9 150.5,318.9 151.3,318.9 152.1,318.9 152.9,318.9 153.7,318.9 154.5,318.9 155.3,318.9 156.1,318.9 156.9,318.9 157.7,318.9 158.5,318.9 159.3,318.9 160.1,318.9 160.9,318.9 161.7,318.9 162.5,318.9 163.3,318.9 164.1,318.9 164.9,318.9 165.7,318.9 166.5,318.9 167.3,318.9 168.1,318.9 168.9,318.9 169.7,318.9 170.5,318.9 171.3,318.9 172.1,318.9 172.9,318.9 173.7,318.9 174.5,318.9 175.3,318.9 176.1,318.9 176.9,318.9 177.7,318.9 178.5,318.9 179.3,318.9 180.1,318.9 180.9,318.9 181.7,318.9 182.5,318.9 183.3,318.9 184.1,318.9 184.9,318.9 185.7,318.9 186.5,318.9 187.3,318.9 188.1,318.9 188.9,318.9 189.7,318.9 190.5,318.9 191.3,318.9 192.1,318.9 192.9,318.9 193.7,318.9 194.5,318.9 195.3,318.9 196.1,318.9 196.9,318.9 197.7,318.9 198.5,318.9 199.3,318.9 200.1,318.9 200.9,318.9 201.7,318.9 202.5,318.9 203.3,318.9 204.1,318.9 204.9,318.9 205.7,318.9 206.5,318.9 207.3,318.9 208.1,318.9 208.9,318.9 209.7,318.9 210.5,318.9 211.3,318.9 212.1,318.9 212.9,318.9 213.7,318.9 214.5,318.9 215.3,318.9 216.1,318.9 216.9,318.9 217.7,318.9 218.5,318.9 219.3,318.9 220.1,318.9 220.9,318.9 221.7,318.9 222.5,318.9 223.3,318.9 224.1,318.9 224.9,318.9" fill="none" stroke="#111" stroke-width="1.7" stroke-opacity="1"/>
<polyline points="14.5,318.9 15.3,318.9 16.1,318.9 16.9,318.9 17.7,318.9 18.5,318.9 19.3,318.9 20.1,318.9 20.9,318.9 21.7,318.9 22.5,318.9 23.3,318.9 24.1,318.9 24.9,318.9 25.7,318.9 26.5,318.9 27.3,318.9 28.1,318.9 28.9,318.9 29.7,318.9 30.5,318.9 31.3,318.9 32.1,318.9 32.9,318.9 33.7,318.9 34.5,318.8 35.3,318.9 36.1,318.9 36.9,318.9 37.7,318.9 38.5,318.9 39.3,318.8 40.1,318.8 40.9,318.8 41.7,318.9 42.5,318.8 43.3,318.9 44.1,318.9 44.9,318.7 45.7,318.9 46.5,318.3 47.3,318.4 48.1,318.9 48.9,318.3 49.7,318.7 50.5,318.2 51.3,318.1 52.1,318.9 52.9,318.0 53.7,317.9 54.5,316.9 55.3,318.2 56.1,316.5 56.9,317.9 57.7,316.9 58.5,317.2 59.3,314.5 60.1,315.0 60.9,312.6 61.7,314.0 62.5,313.3 63.3,312.6 64.1,313.7 64.9,312.2 65.7,309.4 66.5,310.6 67.3,308.4 68.1,307.1 68.9,304.1 69.7,303.4 70.5,300.3 71.3,296.4 72.1,292.9 72.9,290.6 73.7,281.9 74.5,281.6 75.3,275.7 76.1,269.8 76.9,257.1 77.7,254.1 78.5,249.4 79.3,243.6 80.1,232.8 80.9,232.4 81.7,228.9 82.5,219.2 83.3,223.5 84.1,219.7 84.9,219.1 85.7,222.1 86.5,223.1 87.3,221.5 88.1,231.7 88.9,238.7 89.7,245.5 90.5,245.9 91.3,252.0 92.1,256.1 92.9,264.0 93.7,269.8 94.5,275.9 95.3,280.6 96.1,284.0 96.9,289.7 97.7,292.9 98.5,293.2 99.3,299.3 100.1,305.7 100.9,302.8 101.7,307.3 102.5,311.0 103.3,310.0 104.1,312.5 104.9,314.4 105.7,315.3 106.5,316.4 107.3,315.9 108.1,315.4 108.9,317.2 109.7,316.9 110.5,316.2 111.3,318.5 112.1,317.8 112.9,318.2 113.7,318.7 114.5,318.7 115.3,318.4 116.1,318.4 116.9,318.7 117.7,318.6 118.5,318.5 119.3,318.7 120.1,318.6 120.9,318.7 121.7,318.7 122.5,318.6 123.3,318.8 124.1,318.8 124.9,318.8 125.7,318.9 126.5,318.9 127.3,318.8 128.1,318.8 128.9,318.8 129.7,318.9 130.5,318.9 131.3,318.8 132.1,318.9 132.9,318.9 133.7,318.9 134.5,318.9 135.3,318.9 136.1,318.9 136.9,318.9 137.7,318.9 138.5,318.9 139.3,318.9 140.1,318.9 140.9,318.9 141.7,318.9 142.5,318.9 143.3,318.9 144.1,318.9 144.9,318.9 145.7,318.9 146.5,318.9 147.3,318.9 148.1,318.9 148.9,318.9 149.7,318.9 150.5,318.9 151.3,318.9 152.1,318.9 152.9,318.9 153.7,318.9 154.5,318.9 155.3,318.9 156.1,318.9 156.9,318.9 157.7,318.9 158.5,318.9 159.3,318.9 160.1,318.9 160.9,318.9 161.7,318.9 162.5,318.9 163.3,318.9 164.1,318.9 164.9,318.9 165.7,318.9 166.5,318.9 167.3,318.9 168.1,318.9 168.9,318.9 169.7,318.9 170.5,318.9 171.3,318.9 172.1,318.9 172.9,318.9 173.7,318.9 174.5,318.9 175.3,318.9 176.1,318.9 176.9,318.9 177.7,318.9 178.5,318.9 179.3,318.9 180.1,318.9 180.9,318.9 181.7,318.9 182.5,318.9 183.3,318.9 184.1,318.9 184.9,318.9 185.7,318.9 186.5,318.9 187.3,318.9 188.1,318.9 188.9,318.9 189.7,318.9 190.5,318.9 191.3,318.9 192.1,318.9 192.9,318.9 193.7,318.9 194.5,318.9 195.3,318.9 196.1,318.9 196.9,318.9 197.7,318.9 198.5,318.9 199.3,318.9 200.1,318.9 200.9,318.9 201.7,318.9 202.5,318.9 203.3,318.9 204.1,318.9 204.9,318.9 205.7,318.9 206.5,318.9 207.3,318.9 208.1,318.9 208.9,318.9 209.7,318.9 210.5,318.9 211.3,318.9 212.1,318.9 212.9,318.9 213.7,318.9 214.5,318.9 215.3,318.9 216.1,318.9 216.9,318.9 217.7,318.9 218.5,318.9 219.3,318.9 220.1,318.9 220.9,318.9 221.7,318.9 222.5,318.9 223.3,318.9 224.1,318.9 224.9,318.9" fill="none" stroke="#c4122e" stroke-width="1.8" stroke-dasharray="4,1.3" stroke-opacity="1"/>
<text transform="translate(118.36,262.88) scale(0.9660,1)" font-size="19.242" font-family='"Liberation Mono", monospace' fill="#c4122e" stroke="#c4122e" stroke-width="0.300" vector-effect="non-scaling-stroke">LRP</text>
<path transform="translate(0,-0.18)" d="M230.1,199.2 L227,195.3 H221.2 L218.9,197.6 V209.3 L221.2,211.6 H227 L230.1,207.7" fill="none" stroke="#000" stroke-width="2.5" stroke-linejoin="miter" stroke-linecap="butt"/>
<line x1="292.5" y1="190.35" x2="292.5" y2="318.5" stroke="#222" stroke-width="1.15"/>
<line x1="292.5" y1="318.5" x2="507.5" y2="318.5" stroke="#a01828" stroke-width="1.15"/>
<path d="M292.5,318.5v3.8 M292.5,318.5h-4 M300.86,318.5v2.4 M309.22,318.5v2.4 M317.58,318.5v2.4 M325.94,318.5v2.4 M334.3,318.5v3.6 M342.66,318.5v2.4 M351.02,318.5v2.4 M359.38,318.5v2.4 M367.74,318.5v2.4 M376.1,318.5v3.6 M384.46,318.5v2.4 M392.82,318.5v2.4 M401.18,318.5v2.4 M409.54,318.5v2.4 M417.9,318.5v3.6 M426.26,318.5v2.4 M434.62,318.5v2.4 M442.98,318.5v2.4 M451.34,318.5v2.4 M459.7,318.5v3.6 M468.06,318.5v2.4 M476.42,318.5v2.4 M484.78,318.5v2.4 M493.14,318.5v2.4 M501.5,318.5v3.6 M292.5,309.96h-2.2 M292.5,301.41h-2.2 M292.5,292.87h-2.2 M292.5,284.33h-2.2 M292.5,275.78h-3.4 M292.5,267.24h-2.2 M292.5,258.7h-2.2 M292.5,250.15h-2.2 M292.5,241.61h-2.2 M292.5,233.07h-3.4 M292.5,224.52h-2.2 M292.5,215.98h-2.2 M292.5,207.44h-2.2 M292.5,198.9h-2.2 M292.5,190.35h-3.4" stroke="#222" stroke-width="1.05" fill="none"/>
<text transform="translate(292.5,329.6) scale(0.963,1)" font-size="9.7" font-family='"Liberation Mono", monospace' text-anchor="middle" fill="#222" stroke="#222" stroke-width="0.3" vector-effect="non-scaling-stroke">Ø</text>
<text transform="translate(334.3,329.6) scale(0.963,1)" font-size="9.7" font-family='"Liberation Mono", monospace' text-anchor="middle" fill="#222" stroke="#222" stroke-width="0.3" vector-effect="non-scaling-stroke">2ØØ</text>
<text transform="translate(376.1,329.6) scale(0.963,1)" font-size="9.7" font-family='"Liberation Mono", monospace' text-anchor="middle" fill="#222" stroke="#222" stroke-width="0.3" vector-effect="non-scaling-stroke">4ØØ</text>
<text transform="translate(417.9,329.6) scale(0.963,1)" font-size="9.7" font-family='"Liberation Mono", monospace' text-anchor="middle" fill="#222" stroke="#222" stroke-width="0.3" vector-effect="non-scaling-stroke">6ØØ</text>
<text transform="translate(459.7,329.6) scale(0.963,1)" font-size="9.7" font-family='"Liberation Mono", monospace' text-anchor="middle" fill="#222" stroke="#222" stroke-width="0.3" vector-effect="non-scaling-stroke">8ØØ</text>
<text transform="translate(501.5,329.6) scale(0.963,1)" font-size="9.7" font-family='"Liberation Mono", monospace' text-anchor="middle" fill="#222" stroke="#222" stroke-width="0.3" vector-effect="non-scaling-stroke">1ØØØ</text>
<text transform="translate(288.7,318.5) rotate(-90) scale(0.963,1)" font-size="9.7" font-family='"Liberation Mono", monospace' text-anchor="middle" fill="#222" stroke="#222" stroke-width="0.3" vector-effect="non-scaling-stroke">Ø</text>
<text transform="translate(288.7,275.78) rotate(-90) scale(0.963,1)" font-size="9.7" font-family='"Liberation Mono", monospace' text-anchor="middle" fill="#222" stroke="#222" stroke-width="0.3" vector-effect="non-scaling-stroke">4Ø</text>
<text transform="translate(288.7,233.07) rotate(-90) scale(0.963,1)" font-size="9.7" font-family='"Liberation Mono", monospace' text-anchor="middle" fill="#222" stroke="#222" stroke-width="0.3" vector-effect="non-scaling-stroke">8Ø</text>
<text transform="translate(288.7,190.35) rotate(-90) scale(0.963,1)" font-size="9.7" font-family='"Liberation Mono", monospace' text-anchor="middle" fill="#222" stroke="#222" stroke-width="0.3" vector-effect="non-scaling-stroke">12Ø</text>
<text transform="translate(353.34,180.12) scale(0.9685,1)" font-size="9.412" font-family='"Liberation Mono", monospace' fill="#222" stroke="#222" stroke-width="0.120" vector-effect="non-scaling-stroke">Overlays Smoothed</text>
<polyline points="292.5,318.3 293.3,318.2 294.1,318.5 294.9,318.4 295.7,318.2 296.5,318.1 297.3,318.2 298.1,318.0 298.9,318.2 299.7,318.1 300.5,318.2 301.3,318.5 302.1,318.4 302.9,318.0 303.7,318.3 304.5,317.4 305.3,317.3 306.1,316.9 306.9,317.7 307.7,316.7 308.5,318.1 309.3,317.9 310.1,317.0 310.9,316.5 311.7,318.2 312.5,318.0 313.3,315.1 314.1,316.0 314.9,312.5 315.7,312.6 316.5,311.4 317.3,310.1 318.1,307.0 318.9,306.6 319.7,301.5 320.5,301.7 321.3,297.5 322.1,294.5 322.9,286.4 323.7,282.7 324.5,279.7 325.3,264.3 326.1,265.5 326.9,257.8 327.7,248.9 328.5,236.6 329.3,237.4 330.1,227.4 330.9,224.2 331.7,226.1 332.5,211.8 333.3,207.6 334.1,211.5 334.9,209.7 335.7,217.3 336.5,219.6 337.3,218.0 338.1,218.4 338.9,229.2 339.7,232.8 340.5,237.5 341.3,248.7 342.1,254.7 342.9,259.4 343.7,275.6 344.5,276.0 345.3,289.7 346.1,288.6 346.9,294.0 347.7,299.8 348.5,304.2 349.3,304.9 350.1,307.8 350.9,308.8 351.7,311.9 352.5,310.8 353.3,314.1 354.1,313.7 354.9,314.4 355.7,312.7 356.5,316.7 357.3,315.6 358.1,313.9 358.9,316.4 359.7,317.2 360.5,315.7 361.3,316.5 362.1,315.4 362.9,317.5 363.7,316.4 364.5,316.1 365.3,316.0 366.1,318.0 366.9,316.0 367.7,317.9 368.5,318.4 369.3,318.1 370.1,317.5 370.9,317.8 371.7,317.5 372.5,317.5 373.3,317.7 374.1,318.0 374.9,317.2 375.7,318.5 376.5,318.5 377.3,318.3 378.1,318.5 378.9,318.5 379.7,318.5 380.5,318.5 381.3,318.5 382.1,318.1 382.9,318.1 383.7,318.1 384.5,318.5 385.3,318.4 386.1,318.5 386.9,318.4 387.7,318.5 388.5,318.4 389.3,318.5 390.1,318.4 390.9,318.4 391.7,318.4 392.5,318.5 393.3,318.5 394.1,318.5 394.9,318.5 395.7,318.5 396.5,318.5 397.3,318.5 398.1,318.5 398.9,318.5 399.7,318.5 400.5,318.5 401.3,318.4 402.1,318.5 402.9,318.5 403.7,318.5 404.5,318.5 405.3,318.5 406.1,318.5 406.9,318.5 407.7,318.5 408.5,318.5 409.3,318.5 410.1,318.5 410.9,318.5 411.7,318.5 412.5,318.5 413.3,318.5 414.1,318.5 414.9,318.5 415.7,318.5 416.5,318.5 417.3,318.5 418.1,318.5 418.9,318.5 419.7,318.5 420.5,318.5 421.3,318.5 422.1,318.5 422.9,318.5 423.7,318.5 424.5,318.5 425.3,318.5 426.1,318.5 426.9,318.5 427.7,318.5 428.5,318.5 429.3,318.5 430.1,318.5 430.9,318.5 431.7,318.5 432.5,318.5 433.3,318.5 434.1,318.5 434.9,318.5 435.7,318.5 436.5,318.5 437.3,318.5 438.1,318.5 438.9,318.5 439.7,318.5 440.5,318.5 441.3,318.5 442.1,318.5 442.9,318.5 443.7,318.5 444.5,318.5 445.3,318.5 446.1,318.5 446.9,318.5 447.7,318.5 448.5,318.5 449.3,318.5 450.1,318.5 450.9,318.5 451.7,318.5 452.5,318.5 453.3,318.5 454.1,318.5 454.9,318.5 455.7,318.5 456.5,318.5 457.3,318.5 458.1,318.5 458.9,318.5 459.7,318.5 460.5,318.5 461.3,318.5 462.1,318.5 462.9,318.5 463.7,318.5 464.5,318.5 465.3,318.5 466.1,318.5 466.9,318.5 467.7,318.5 468.5,318.5 469.3,318.5 470.1,318.5 470.9,318.5 471.7,318.5 472.5,318.5 473.3,318.5 474.1,318.5 474.9,318.5 475.7,318.5 476.5,318.5 477.3,318.5 478.1,318.5 478.9,318.5 479.7,318.5 480.5,318.5 481.3,318.5 482.1,318.5 482.9,318.5 483.7,318.5 484.5,318.5 485.3,318.5 486.1,318.5 486.9,318.5 487.7,318.5 488.5,318.5 489.3,318.5 490.1,318.5 490.9,318.5 491.7,318.5 492.5,318.5 493.3,318.5 494.1,318.5 494.9,318.5 495.7,318.5 496.5,318.5 497.3,318.5 498.1,318.5 498.9,318.5 499.7,318.5 500.5,318.5 501.3,318.5" fill="none" stroke="#111" stroke-width="1.7" stroke-opacity="1"/>
<polyline points="292.5,318.4 293.3,318.4 294.1,318.5 294.9,318.5 295.7,318.5 296.5,318.5 297.3,318.3 298.1,318.0 298.9,318.4 299.7,318.4 300.5,318.1 301.3,318.1 302.1,318.1 302.9,318.4 303.7,318.1 304.5,317.7 305.3,318.5 306.1,318.0 306.9,318.5 307.7,318.4 308.5,318.5 309.3,317.5 310.1,318.1 310.9,316.6 311.7,316.3 312.5,316.3 313.3,318.5 314.1,315.7 314.9,314.4 315.7,313.3 316.5,314.6 317.3,311.7 318.1,310.9 318.9,308.7 319.7,302.7 320.5,303.7 321.3,298.8 322.1,292.7 322.9,292.1 323.7,286.0 324.5,280.1 325.3,274.4 326.1,272.4 326.9,261.5 327.7,250.0 328.5,254.1 329.3,237.9 330.1,234.3 330.9,231.4 331.7,214.2 332.5,214.7 333.3,219.7 334.1,210.8 334.9,206.6 335.7,209.4 336.5,205.9 337.3,211.4 338.1,211.2 338.9,212.2 339.7,227.1 340.5,229.5 341.3,239.1 342.1,243.9 342.9,256.3 343.7,261.2 344.5,266.9 345.3,270.1 346.1,275.8 346.9,288.6 347.7,292.1 348.5,292.9 349.3,303.0 350.1,302.7 350.9,304.7 351.7,304.5 352.5,307.6 353.3,310.9 354.1,312.2 354.9,312.9 355.7,311.2 356.5,314.6 357.3,314.9 358.1,314.5 358.9,315.5 359.7,315.8 360.5,317.1 361.3,316.1 362.1,316.8 362.9,315.2 363.7,315.9 364.5,316.8 365.3,316.3 366.1,317.3 366.9,316.3 367.7,317.3 368.5,316.9 369.3,318.3 370.1,317.3 370.9,318.5 371.7,318.5 372.5,317.9 373.3,318.3 374.1,317.8 374.9,317.0 375.7,318.4 376.5,318.3 377.3,318.1 378.1,318.0 378.9,318.3 379.7,318.3 380.5,318.1 381.3,318.2 382.1,318.5 382.9,318.4 383.7,318.4 384.5,318.5 385.3,318.4 386.1,318.5 386.9,318.3 387.7,318.4 388.5,318.4 389.3,318.5 390.1,318.5 390.9,318.5 391.7,318.5 392.5,318.4 393.3,318.5 394.1,318.4 394.9,318.5 395.7,318.4 396.5,318.5 397.3,318.5 398.1,318.5 398.9,318.5 399.7,318.5 400.5,318.5 401.3,318.5 402.1,318.5 402.9,318.5 403.7,318.5 404.5,318.5 405.3,318.5 406.1,318.5 406.9,318.5 407.7,318.5 408.5,318.5 409.3,318.5 410.1,318.5 410.9,318.5 411.7,318.5 412.5,318.5 413.3,318.5 414.1,318.5 414.9,318.5 415.7,318.5 416.5,318.5 417.3,318.5 418.1,318.5 418.9,318.5 419.7,318.5 420.5,318.5 421.3,318.5 422.1,318.5 422.9,318.5 423.7,318.5 424.5,318.5 425.3,318.5 426.1,318.5 426.9,318.5 427.7,318.5 428.5,318.5 429.3,318.5 430.1,318.5 430.9,318.5 431.7,318.5 432.5,318.5 433.3,318.5 434.1,318.5 434.9,318.5 435.7,318.5 436.5,318.5 437.3,318.5 438.1,318.5 438.9,318.5 439.7,318.5 440.5,318.5 441.3,318.5 442.1,318.5 442.9,318.5 443.7,318.5 444.5,318.5 445.3,318.5 446.1,318.5 446.9,318.5 447.7,318.5 448.5,318.5 449.3,318.5 450.1,318.5 450.9,318.5 451.7,318.5 452.5,318.5 453.3,318.5 454.1,318.5 454.9,318.5 455.7,318.5 456.5,318.5 457.3,318.5 458.1,318.5 458.9,318.5 459.7,318.5 460.5,318.5 461.3,318.5 462.1,318.5 462.9,318.5 463.7,318.5 464.5,318.5 465.3,318.5 466.1,318.5 466.9,318.5 467.7,318.5 468.5,318.5 469.3,318.5 470.1,318.5 470.9,318.5 471.7,318.5 472.5,318.5 473.3,318.5 474.1,318.5 474.9,318.5 475.7,318.5 476.5,318.5 477.3,318.5 478.1,318.5 478.9,318.5 479.7,318.5 480.5,318.5 481.3,318.5 482.1,318.5 482.9,318.5 483.7,318.5 484.5,318.5 485.3,318.5 486.1,318.5 486.9,318.5 487.7,318.5 488.5,318.5 489.3,318.5 490.1,318.5 490.9,318.5 491.7,318.5 492.5,318.5 493.3,318.5 494.1,318.5 494.9,318.5 495.7,318.5 496.5,318.5 497.3,318.5 498.1,318.5 498.9,318.5 499.7,318.5 500.5,318.5 501.3,318.5" fill="none" stroke="#c4122e" stroke-width="1.8" stroke-dasharray="4,1.3" stroke-opacity="1"/>
<text transform="translate(373.89,259.72) scale(0.9889,1)" font-size="18.676" font-family='"Liberation Mono", monospace' fill="#c4122e" stroke="#c4122e" stroke-width="0.300" vector-effect="non-scaling-stroke">MRPm6</text>
<path transform="translate(0,1.21)" d="M495.4,192.3 V211.2 M495.4,193.5 H500.7 L506.8,199 V203.5 L500.7,210 H495.4" fill="none" stroke="#000" stroke-width="2.5" stroke-linejoin="miter" stroke-linecap="butt"/>
<line x1="14.4" y1="356.16" x2="14.4" y2="486.62" stroke="#222" stroke-width="1.15"/>
<line x1="14.4" y1="486.62" x2="231.2" y2="486.62" stroke="#3aae3a" stroke-width="1.15"/>
<path d="M14.4,486.62v3.8 M14.4,486.62h-4 M22.82,486.62v2.4 M31.25,486.62v2.4 M39.67,486.62v2.4 M48.1,486.62v2.4 M56.52,486.62v3.6 M64.94,486.62v2.4 M73.37,486.62v2.4 M81.79,486.62v2.4 M90.22,486.62v2.4 M98.64,486.62v3.6 M107.06,486.62v2.4 M115.49,486.62v2.4 M123.91,486.62v2.4 M132.34,486.62v2.4 M140.76,486.62v3.6 M149.18,486.62v2.4 M157.61,486.62v2.4 M166.03,486.62v2.4 M174.46,486.62v2.4 M182.88,486.62v3.6 M191.3,486.62v2.4 M199.73,486.62v2.4 M208.15,486.62v2.4 M216.58,486.62v2.4 M225,486.62v3.6 M14.4,477.92h-2.2 M14.4,469.23h-2.2 M14.4,460.53h-2.2 M14.4,451.83h-2.2 M14.4,443.13h-3.4 M14.4,434.44h-2.2 M14.4,425.74h-2.2 M14.4,417.04h-2.2 M14.4,408.35h-2.2 M14.4,399.65h-3.4 M14.4,390.95h-2.2 M14.4,382.25h-2.2 M14.4,373.56h-2.2 M14.4,364.86h-2.2 M14.4,356.16h-3.4" stroke="#222" stroke-width="1.05" fill="none"/>
<text transform="translate(14.4,498.2) scale(0.963,1)" font-size="9.7" font-family='"Liberation Mono", monospace' text-anchor="middle" fill="#222" stroke="#222" stroke-width="0.3" vector-effect="non-scaling-stroke">Ø</text>
<text transform="translate(56.52,498.2) scale(0.963,1)" font-size="9.7" font-family='"Liberation Mono", monospace' text-anchor="middle" fill="#222" stroke="#222" stroke-width="0.3" vector-effect="non-scaling-stroke">2ØØ</text>
<text transform="translate(98.64,498.2) scale(0.963,1)" font-size="9.7" font-family='"Liberation Mono", monospace' text-anchor="middle" fill="#222" stroke="#222" stroke-width="0.3" vector-effect="non-scaling-stroke">4ØØ</text>
<text transform="translate(140.76,498.2) scale(0.963,1)" font-size="9.7" font-family='"Liberation Mono", monospace' text-anchor="middle" fill="#222" stroke="#222" stroke-width="0.3" vector-effect="non-scaling-stroke">6ØØ</text>
<text transform="translate(182.88,498.2) scale(0.963,1)" font-size="9.7" font-family='"Liberation Mono", monospace' text-anchor="middle" fill="#222" stroke="#222" stroke-width="0.3" vector-effect="non-scaling-stroke">8ØØ</text>
<text transform="translate(225,498.2) scale(0.963,1)" font-size="9.7" font-family='"Liberation Mono", monospace' text-anchor="middle" fill="#222" stroke="#222" stroke-width="0.3" vector-effect="non-scaling-stroke">1ØØØ</text>
<text transform="translate(10.6,486.62) rotate(-90) scale(0.963,1)" font-size="9.7" font-family='"Liberation Mono", monospace' text-anchor="middle" fill="#222" stroke="#222" stroke-width="0.3" vector-effect="non-scaling-stroke">Ø</text>
<text transform="translate(10.6,443.13) rotate(-90) scale(0.963,1)" font-size="9.7" font-family='"Liberation Mono", monospace' text-anchor="middle" fill="#222" stroke="#222" stroke-width="0.3" vector-effect="non-scaling-stroke">2Ø</text>
<text transform="translate(10.6,399.65) rotate(-90) scale(0.963,1)" font-size="9.7" font-family='"Liberation Mono", monospace' text-anchor="middle" fill="#222" stroke="#222" stroke-width="0.3" vector-effect="non-scaling-stroke">4Ø</text>
<text transform="translate(10.6,356.16) rotate(-90) scale(0.963,1)" font-size="9.7" font-family='"Liberation Mono", monospace' text-anchor="middle" fill="#222" stroke="#222" stroke-width="0.3" vector-effect="non-scaling-stroke">6Ø</text>
<text transform="translate(75.84,345.43) scale(0.9685,1)" font-size="9.412" font-family='"Liberation Mono", monospace' fill="#222" stroke="#222" stroke-width="0.120" vector-effect="non-scaling-stroke">Overlays Smoothed</text>
<polyline points="14.4,486.6 15.2,486.6 16.0,486.6 16.8,485.0 17.6,486.6 18.4,484.5 19.2,485.6 20.0,482.4 20.8,482.1 21.6,481.3 22.4,482.1 23.2,483.4 24.0,481.6 24.8,480.3 25.6,483.9 26.4,481.5 27.2,482.5 28.0,479.6 28.8,483.6 29.6,482.5 30.4,481.0 31.2,481.1 32.0,484.5 32.8,479.7 33.6,479.9 34.4,479.4 35.2,478.4 36.0,476.8 36.8,480.8 37.6,471.9 38.4,477.0 39.2,479.7 40.0,472.8 40.8,467.3 41.6,471.4 42.4,464.1 43.2,462.6 44.0,468.6 44.8,472.2 45.6,466.5 46.4,456.6 47.2,461.4 48.0,462.0 48.8,459.6 49.6,452.5 50.4,450.2 51.2,444.3 52.0,441.4 52.8,446.3 53.6,439.2 54.4,439.7 55.2,431.9 56.0,435.0 56.8,432.8 57.6,415.8 58.4,424.4 59.2,420.2 60.0,410.5 60.8,419.3 61.6,424.0 62.4,423.6 63.2,427.8 64.0,419.6 64.8,427.4 65.6,418.6 66.4,429.5 67.2,430.5 68.0,431.9 68.8,428.2 69.6,431.2 70.4,426.9 71.2,436.5 72.0,433.8 72.8,427.7 73.6,438.3 74.4,436.2 75.2,433.0 76.0,438.5 76.8,444.6 77.6,451.6 78.4,434.6 79.2,443.7 80.0,441.3 80.8,449.0 81.6,440.8 82.4,446.7 83.2,449.4 84.0,453.8 84.8,449.8 85.6,453.9 86.4,453.7 87.2,459.6 88.0,456.2 88.8,454.6 89.6,460.5 90.4,456.5 91.2,454.9 92.0,458.7 92.8,460.2 93.6,460.6 94.4,455.6 95.2,464.5 96.0,460.7 96.8,461.5 97.6,460.0 98.4,461.1 99.2,464.8 100.0,454.7 100.8,461.2 101.6,466.5 102.4,465.4 103.2,462.5 104.0,461.2 104.8,467.8 105.6,461.5 106.4,468.5 107.2,467.0 108.0,462.2 108.8,460.0 109.6,466.0 110.4,467.2 111.2,462.8 112.0,470.3 112.8,466.7 113.6,467.3 114.4,465.5 115.2,468.1 116.0,470.2 116.8,468.1 117.6,473.5 118.4,468.4 119.2,472.8 120.0,473.8 120.8,472.6 121.6,471.8 122.4,470.4 123.2,473.2 124.0,471.0 124.8,470.7 125.6,473.9 126.4,476.5 127.2,471.9 128.0,474.0 128.8,480.3 129.6,477.9 130.4,475.5 131.2,479.5 132.0,478.2 132.8,481.0 133.6,476.4 134.4,477.1 135.2,477.7 136.0,475.2 136.8,479.5 137.6,479.7 138.4,475.1 139.2,482.5 140.0,478.5 140.8,483.1 141.6,480.2 142.4,476.8 143.2,480.8 144.0,483.2 144.8,477.5 145.6,483.2 146.4,482.8 147.2,482.1 148.0,485.3 148.8,481.2 149.6,480.6 150.4,482.3 151.2,483.3 152.0,484.3 152.8,482.9 153.6,486.6 154.4,484.8 155.2,484.4 156.0,486.6 156.8,484.5 157.6,485.4 158.4,485.4 159.2,485.4 160.0,485.1 160.8,485.4 161.6,486.6 162.4,486.1 163.2,486.3 164.0,486.3 164.8,486.6 165.6,486.4 166.4,486.6 167.2,486.6 168.0,486.6 168.8,486.6 169.6,486.6 170.4,486.6 171.2,486.6 172.0,486.6 172.8,486.6 173.6,486.6 174.4,486.6 175.2,486.6 176.0,486.6 176.8,486.6 177.6,486.6 178.4,486.6 179.2,486.6 180.0,486.6 180.8,486.6 181.6,486.6 182.4,486.6 183.2,486.6 184.0,486.6 184.8,486.6 185.6,486.6 186.4,486.6 187.2,486.6 188.0,486.6 188.8,486.6 189.6,486.6 190.4,486.6 191.2,486.6 192.0,486.6 192.8,486.6 193.6,486.6 194.4,486.6 195.2,486.6 196.0,486.6 196.8,486.6 197.6,486.6 198.4,486.6 199.2,486.6 200.0,486.6 200.8,486.6 201.6,486.6 202.4,486.6 203.2,486.6 204.0,486.6 204.8,486.6 205.6,486.6 206.4,486.6 207.2,486.6 208.0,486.6 208.8,486.6 209.6,486.6 210.4,486.6 211.2,486.6 212.0,486.6 212.8,486.6 213.6,486.6 214.4,486.6 215.2,486.6 216.0,486.6 216.8,486.6 217.6,486.6 218.4,486.6 219.2,486.6 220.0,486.6 220.8,486.6 221.6,486.6 222.4,486.6 223.2,486.6 224.0,486.6 224.8,486.6" fill="none" stroke="#2cc02c" stroke-width="1.5" stroke-dasharray="3,1.3" stroke-opacity="1"/>
<polyline points="14.4,486.4 15.2,485.5 16.0,486.6 16.8,485.0 17.6,484.5 18.4,486.0 19.2,485.1 20.0,485.2 20.8,485.9 21.6,486.3 22.4,486.6 23.2,483.6 24.0,485.3 24.8,482.1 25.6,484.1 26.4,484.7 27.2,485.9 28.0,483.1 28.8,485.7 29.6,482.6 30.4,485.4 31.2,484.5 32.0,486.6 32.8,481.0 33.6,484.8 34.4,485.2 35.2,483.2 36.0,485.9 36.8,483.2 37.6,486.3 38.4,483.4 39.2,486.0 40.0,486.6 40.8,485.2 41.6,486.6 42.4,483.1 43.2,484.0 44.0,483.1 44.8,483.7 45.6,484.5 46.4,483.8 47.2,481.9 48.0,484.0 48.8,485.0 49.6,485.3 50.4,484.0 51.2,484.9 52.0,480.2 52.8,485.6 53.6,485.4 54.4,484.0 55.2,482.2 56.0,483.8 56.8,485.1 57.6,484.8 58.4,483.9 59.2,481.5 60.0,485.0 60.8,483.4 61.6,484.3 62.4,482.6 63.2,482.4 64.0,485.8 64.8,478.8 65.6,482.8 66.4,484.1 67.2,484.8 68.0,483.6 68.8,483.1 69.6,482.1 70.4,483.2 71.2,482.3 72.0,486.1 72.8,484.6 73.6,485.1 74.4,482.9 75.2,482.4 76.0,485.9 76.8,483.6 77.6,482.0 78.4,481.7 79.2,485.4 80.0,482.3 80.8,482.7 81.6,484.1 82.4,479.7 83.2,485.3 84.0,483.7 84.8,482.2 85.6,482.5 86.4,483.1 87.2,479.9 88.0,479.5 88.8,480.1 89.6,479.4 90.4,481.1 91.2,482.8 92.0,474.7 92.8,480.9 93.6,472.3 94.4,476.8 95.2,474.4 96.0,473.9 96.8,468.9 97.6,471.1 98.4,461.6 99.2,463.1 100.0,461.5 100.8,461.0 101.6,454.7 102.4,452.2 103.2,440.8 104.0,440.5 104.8,446.9 105.6,428.9 106.4,442.2 107.2,419.3 108.0,431.2 108.8,417.3 109.6,408.4 110.4,408.1 111.2,409.7 112.0,392.7 112.8,405.8 113.6,400.5 114.4,380.9 115.2,391.3 116.0,382.5 116.8,377.3 117.6,381.6 118.4,378.6 119.2,379.4 120.0,379.2 120.8,374.2 121.6,377.0 122.4,382.3 123.2,380.9 124.0,392.0 124.8,396.0 125.6,400.4 126.4,393.7 127.2,392.8 128.0,405.1 128.8,420.0 129.6,416.2 130.4,415.4 131.2,420.4 132.0,425.6 132.8,425.6 133.6,430.0 134.4,444.0 135.2,440.0 136.0,448.5 136.8,448.0 137.6,447.4 138.4,448.4 139.2,455.5 140.0,462.4 140.8,464.3 141.6,463.7 142.4,470.5 143.2,469.5 144.0,469.3 144.8,470.0 145.6,474.7 146.4,474.2 147.2,472.9 148.0,476.6 148.8,482.2 149.6,478.5 150.4,479.2 151.2,481.3 152.0,480.8 152.8,484.4 153.6,479.4 154.4,481.4 155.2,483.6 156.0,482.5 156.8,483.0 157.6,485.0 158.4,486.6 159.2,486.6 160.0,480.7 160.8,486.2 161.6,485.0 162.4,483.7 163.2,485.3 164.0,483.3 164.8,486.3 165.6,484.5 166.4,486.6 167.2,484.6 168.0,484.8 168.8,485.2 169.6,485.4 170.4,485.5 171.2,485.1 172.0,485.2 172.8,486.6 173.6,485.3 174.4,486.6 175.2,486.0 176.0,486.3 176.8,486.0 177.6,486.4 178.4,486.1 179.2,486.5 180.0,486.6 180.8,486.0 181.6,486.2 182.4,486.3 183.2,486.2 184.0,486.6 184.8,486.2 185.6,486.6 186.4,486.4 187.2,486.6 188.0,486.5 188.8,486.4 189.6,486.5 190.4,486.6 191.2,486.4 192.0,486.4 192.8,486.5 193.6,486.5 194.4,486.6 195.2,486.6 196.0,486.6 196.8,486.6 197.6,486.6 198.4,486.6 199.2,486.6 200.0,486.6 200.8,486.6 201.6,486.6 202.4,486.6 203.2,486.6 204.0,486.6 204.8,486.6 205.6,486.6 206.4,486.6 207.2,486.6 208.0,486.6 208.8,486.6 209.6,486.6 210.4,486.6 211.2,486.6 212.0,486.6 212.8,486.6 213.6,486.6 214.4,486.6 215.2,486.6 216.0,486.6 216.8,486.6 217.6,486.6 218.4,486.6 219.2,486.6 220.0,486.6 220.8,486.6 221.6,486.6 222.4,486.6 223.2,486.6 224.0,486.6 224.8,486.6" fill="none" stroke="#c4122e" stroke-width="1.8" stroke-dasharray="4,1.3" stroke-opacity="1"/>
<polyline points="14.4,486.6 15.2,486.5 16.0,486.5 16.8,485.7 17.6,486.0 18.4,485.7 19.2,485.1 20.0,485.0 20.8,485.3 21.6,486.1 22.4,486.4 23.2,486.4 24.0,485.9 24.8,485.6 25.6,486.5 26.4,486.6 27.2,485.1 28.0,486.6 28.8,485.6 29.6,484.8 30.4,486.4 31.2,486.6 32.0,486.1 32.8,484.4 33.6,485.3 34.4,486.6 35.2,485.6 36.0,483.6 36.8,483.6 37.6,484.0 38.4,485.2 39.2,486.6 40.0,484.6 40.8,485.0 41.6,484.6 42.4,482.3 43.2,484.4 44.0,484.2 44.8,483.6 45.6,485.0 46.4,485.6 47.2,485.7 48.0,483.2 48.8,483.6 49.6,485.2 50.4,482.4 51.2,484.0 52.0,486.5 52.8,483.3 53.6,484.5 54.4,486.4 55.2,483.3 56.0,484.7 56.8,484.8 57.6,483.1 58.4,486.6 59.2,486.3 60.0,484.8 60.8,483.6 61.6,485.2 62.4,485.7 63.2,485.8 64.0,484.2 64.8,482.9 65.6,486.5 66.4,486.6 67.2,484.5 68.0,484.7 68.8,485.6 69.6,483.0 70.4,482.7 71.2,485.0 72.0,484.6 72.8,483.1 73.6,484.8 74.4,486.5 75.2,484.2 76.0,485.7 76.8,483.6 77.6,485.0 78.4,484.5 79.2,483.4 80.0,484.5 80.8,485.4 81.6,486.0 82.4,481.6 83.2,482.6 84.0,486.6 84.8,486.2 85.6,483.6 86.4,485.5 87.2,484.6 88.0,483.4 88.8,484.5 89.6,484.9 90.4,485.5 91.2,484.9 92.0,484.2 92.8,482.2 93.6,483.2 94.4,485.1 95.2,483.3 96.0,484.5 96.8,486.6 97.6,484.5 98.4,482.3 99.2,484.7 100.0,481.4 100.8,483.0 101.6,481.5 102.4,482.9 103.2,474.2 104.0,476.1 104.8,472.3 105.6,473.6 106.4,473.6 107.2,461.7 108.0,463.8 108.8,450.6 109.6,452.0 110.4,438.8 111.2,442.4 112.0,440.7 112.8,422.3 113.6,419.0 114.4,411.7 115.2,399.2 116.0,403.4 116.8,400.1 117.6,394.5 118.4,393.5 119.2,391.3 120.0,386.2 120.8,383.5 121.6,380.5 122.4,385.8 123.2,380.6 124.0,377.1 124.8,385.4 125.6,384.6 126.4,395.7 127.2,392.5 128.0,395.6 128.8,406.2 129.6,415.4 130.4,412.9 131.2,416.8 132.0,414.5 132.8,428.3 133.6,423.5 134.4,446.4 135.2,441.4 136.0,446.3 136.8,449.7 137.6,454.0 138.4,455.6 139.2,452.8 140.0,462.1 140.8,460.3 141.6,467.0 142.4,468.5 143.2,477.7 144.0,472.4 144.8,472.5 145.6,478.5 146.4,478.3 147.2,479.9 148.0,473.8 148.8,481.8 149.6,481.8 150.4,486.6 151.2,484.7 152.0,481.5 152.8,484.9 153.6,486.6 154.4,483.6 155.2,483.2 156.0,483.1 156.8,483.2 157.6,485.1 158.4,479.5 159.2,485.4 160.0,483.9 160.8,486.6 161.6,485.9 162.4,486.6 163.2,484.9 164.0,485.8 164.8,486.6 165.6,486.6 166.4,484.9 167.2,484.8 168.0,484.9 168.8,485.9 169.6,485.2 170.4,485.1 171.2,485.6 172.0,485.0 172.8,486.2 173.6,486.0 174.4,486.6 175.2,485.0 176.0,486.6 176.8,486.1 177.6,486.0 178.4,486.6 179.2,486.4 180.0,486.1 180.8,486.5 181.6,486.5 182.4,486.6 183.2,486.6 184.0,486.5 184.8,486.4 185.6,486.4 186.4,486.3 187.2,486.5 188.0,486.6 188.8,486.4 189.6,486.5 190.4,486.4 191.2,486.6 192.0,486.5 192.8,486.5 193.6,486.5 194.4,486.6 195.2,486.6 196.0,486.6 196.8,486.5 197.6,486.6 198.4,486.6 199.2,486.6 200.0,486.6 200.8,486.5 201.6,486.6 202.4,486.6 203.2,486.6 204.0,486.6 204.8,486.6 205.6,486.6 206.4,486.6 207.2,486.6 208.0,486.6 208.8,486.6 209.6,486.6 210.4,486.6 211.2,486.6 212.0,486.6 212.8,486.6 213.6,486.6 214.4,486.6 215.2,486.6 216.0,486.6 216.8,486.6 217.6,486.6 218.4,486.6 219.2,486.6 220.0,486.6 220.8,486.6 221.6,486.6 222.4,486.6 223.2,486.6 224.0,486.6 224.8,486.6" fill="none" stroke="#111" stroke-width="1.6" stroke-opacity="1"/>
<text transform="translate(19.42,372.36) scale(1.0205,1)" font-size="18.088" font-family='"Liberation Mono", monospace' fill="#000" stroke="#000" stroke-width="0.300" vector-effect="non-scaling-stroke">RH123</text>
<text transform="translate(32.35,407.46) scale(1.0873,1)" font-size="16.618" font-family='"Liberation Mono", monospace' fill="#2cc02c" stroke="#2cc02c" stroke-width="0.300" vector-effect="non-scaling-stroke">NO CSA</text>
<text transform="translate(134.84,418.72) scale(1.0489,1)" font-size="17.353" font-family='"Liberation Mono", monospace' fill="#000" stroke="#000" stroke-width="0.300" vector-effect="non-scaling-stroke">BASELINE</text>
<text transform="translate(145.98,446.85) scale(1.1308,1)" font-size="16.471" font-family='"Liberation Mono", monospace' fill="#c4122e" stroke="#c4122e" stroke-width="0.300" vector-effect="non-scaling-stroke">CSA</text>
<path transform="translate(0,-0.18)" d="M231.1,359.9 H218.8 V377 H231.1 M218.8,368.7 H227.9" fill="none" stroke="#000" stroke-width="2.5" stroke-linejoin="miter" stroke-linecap="butt"/>
<line x1="292.7" y1="355.7" x2="292.7" y2="486.35" stroke="#2cc02c" stroke-width="1.15"/>
<line x1="292.7" y1="486.35" x2="507.6" y2="486.35" stroke="#222" stroke-width="1.15"/>
<path d="M292.7,486.35v3.8 M292.7,486.35h-4 M301.05,486.35v2.4 M309.4,486.35v2.4 M317.76,486.35v2.4 M326.11,486.35v2.4 M334.46,486.35v3.6 M342.81,486.35v2.4 M351.16,486.35v2.4 M359.52,486.35v2.4 M367.87,486.35v2.4 M376.22,486.35v3.6 M384.57,486.35v2.4 M392.92,486.35v2.4 M401.28,486.35v2.4 M409.63,486.35v2.4 M417.98,486.35v3.6 M426.33,486.35v2.4 M434.68,486.35v2.4 M443.04,486.35v2.4 M451.39,486.35v2.4 M459.74,486.35v3.6 M468.09,486.35v2.4 M476.44,486.35v2.4 M484.8,486.35v2.4 M493.15,486.35v2.4 M501.5,486.35v3.6 M292.7,477.64h-2.2 M292.7,468.93h-2.2 M292.7,460.22h-2.2 M292.7,451.51h-2.2 M292.7,442.8h-3.4 M292.7,434.09h-2.2 M292.7,425.38h-2.2 M292.7,416.67h-2.2 M292.7,407.96h-2.2 M292.7,399.25h-3.4 M292.7,390.54h-2.2 M292.7,381.83h-2.2 M292.7,373.12h-2.2 M292.7,364.41h-2.2 M292.7,355.7h-3.4" stroke="#222" stroke-width="1.05" fill="none"/>
<text transform="translate(292.7,497.4) scale(0.963,1)" font-size="9.7" font-family='"Liberation Mono", monospace' text-anchor="middle" fill="#222" stroke="#222" stroke-width="0.3" vector-effect="non-scaling-stroke">Ø</text>
<text transform="translate(334.46,497.4) scale(0.963,1)" font-size="9.7" font-family='"Liberation Mono", monospace' text-anchor="middle" fill="#222" stroke="#222" stroke-width="0.3" vector-effect="non-scaling-stroke">2ØØ</text>
<text transform="translate(376.22,497.4) scale(0.963,1)" font-size="9.7" font-family='"Liberation Mono", monospace' text-anchor="middle" fill="#222" stroke="#222" stroke-width="0.3" vector-effect="non-scaling-stroke">4ØØ</text>
<text transform="translate(417.98,497.4) scale(0.963,1)" font-size="9.7" font-family='"Liberation Mono", monospace' text-anchor="middle" fill="#222" stroke="#222" stroke-width="0.3" vector-effect="non-scaling-stroke">6ØØ</text>
<text transform="translate(459.74,497.4) scale(0.963,1)" font-size="9.7" font-family='"Liberation Mono", monospace' text-anchor="middle" fill="#222" stroke="#222" stroke-width="0.3" vector-effect="non-scaling-stroke">8ØØ</text>
<text transform="translate(501.5,497.4) scale(0.963,1)" font-size="9.7" font-family='"Liberation Mono", monospace' text-anchor="middle" fill="#222" stroke="#222" stroke-width="0.3" vector-effect="non-scaling-stroke">1ØØØ</text>
<text transform="translate(288.9,486.35) rotate(-90) scale(0.963,1)" font-size="9.7" font-family='"Liberation Mono", monospace' text-anchor="middle" fill="#222" stroke="#222" stroke-width="0.3" vector-effect="non-scaling-stroke">Ø</text>
<text transform="translate(288.9,442.8) rotate(-90) scale(0.963,1)" font-size="9.7" font-family='"Liberation Mono", monospace' text-anchor="middle" fill="#222" stroke="#222" stroke-width="0.3" vector-effect="non-scaling-stroke">1Ø</text>
<text transform="translate(288.9,399.25) rotate(-90) scale(0.963,1)" font-size="9.7" font-family='"Liberation Mono", monospace' text-anchor="middle" fill="#222" stroke="#222" stroke-width="0.3" vector-effect="non-scaling-stroke">2Ø</text>
<text transform="translate(288.9,355.7) rotate(-90) scale(0.963,1)" font-size="9.7" font-family='"Liberation Mono", monospace' text-anchor="middle" fill="#222" stroke="#222" stroke-width="0.3" vector-effect="non-scaling-stroke">3Ø</text>
<text transform="translate(353.34,345.62) scale(0.9685,1)" font-size="9.412" font-family='"Liberation Mono", monospace' fill="#222" stroke="#222" stroke-width="0.120" vector-effect="non-scaling-stroke">Overlays Smoothed</text>
<polyline points="292.7,482.2 293.9,482.2 293.9,474.9 295.1,474.9 295.1,475.7 296.3,475.7 296.3,485.2 297.5,485.2 297.5,484.0 298.7,484.0 298.7,485.2 299.9,485.2 299.9,479.2 301.1,479.2 301.1,482.6 302.3,482.6 302.3,478.1 303.5,478.1 303.5,486.4 304.7,486.4 304.7,473.3 305.9,473.3 305.9,482.6 307.1,482.6 307.1,478.1 308.3,478.1 308.3,482.6 309.5,482.6 309.5,483.9 310.7,483.9 310.7,478.8 311.9,478.8 311.9,476.5 313.1,476.5 313.1,482.4 314.3,482.4 314.3,481.8 315.5,481.8 315.5,476.3 316.7,476.3 316.7,485.8 317.9,485.8 317.9,486.4 319.1,486.4 319.1,476.6 320.3,476.6 320.3,483.5 321.5,483.5 321.5,486.4 322.7,486.4 322.7,483.5 323.9,483.5 323.9,480.2 325.1,480.2 325.1,485.3 326.3,485.3 326.3,486.4 327.5,486.4 327.5,473.2 328.7,473.2 328.7,464.2 329.9,464.2 329.9,473.1 331.1,473.1 331.1,476.7 332.3,476.7 332.3,463.9 333.5,463.9 333.5,458.5 334.7,458.5 334.7,467.4 335.9,467.4 335.9,456.0 337.1,456.0 337.1,447.8 338.3,447.8 338.3,460.3 339.5,460.3 339.5,465.7 340.7,465.7 340.7,448.5 341.9,448.5 341.9,447.2 343.1,447.2 343.1,432.7 344.3,432.7 344.3,463.8 345.5,463.8 345.5,452.6 346.7,452.6 346.7,452.9 347.9,452.9 347.9,464.5 349.1,464.5 349.1,433.2 350.3,433.2 350.3,424.3 351.5,424.3 351.5,442.7 352.7,442.7 352.7,405.3 353.9,405.3 353.9,412.6 355.1,412.6 355.1,414.0 356.3,414.0 356.3,416.2 357.5,416.2 357.5,405.1 358.7,405.1 358.7,444.4 359.9,444.4 359.9,409.1 361.1,409.1 361.1,408.8 362.3,408.8 362.3,450.9 363.5,450.9 363.5,413.2 364.7,413.2 364.7,424.4 365.9,424.4 365.9,407.0 367.1,407.0 367.1,429.8 368.3,429.8 368.3,424.1 369.5,424.1 369.5,420.0 370.7,420.0 370.7,442.9 371.9,442.9 371.9,420.9 373.1,420.9 373.1,435.2 374.3,435.2 374.3,428.8 375.5,428.8 375.5,447.5 376.7,447.5 376.7,426.7 377.9,426.7 377.9,437.2 379.1,437.2 379.1,451.4 380.3,451.4 380.3,443.6 381.5,443.6 381.5,438.9 382.7,438.9 382.7,436.0 383.9,436.0 383.9,478.9 385.1,478.9 385.1,453.2 386.3,453.2 386.3,460.4 387.5,460.4 387.5,468.5 388.7,468.5 388.7,479.3 389.9,479.3 389.9,459.7 391.1,459.7 391.1,484.1 392.3,484.1 392.3,469.6 393.5,469.6 393.5,465.1 394.7,465.1 394.7,486.4 395.9,486.4 395.9,479.9 397.1,479.9 397.1,486.4 398.3,486.4" fill="none" stroke="#2cc02c" stroke-width="1.0" stroke-dasharray="3,2" stroke-opacity="1"/>
<polyline points="397.1,479.6 398.3,479.6 398.3,483.2 399.5,483.2 399.5,484.5 400.7,484.5 400.7,486.4 401.9,486.4 401.9,481.9 403.1,481.9 403.1,478.5 404.3,478.5 404.3,481.1 405.5,481.1 405.5,480.0 406.7,480.0 406.7,478.9 407.9,478.9 407.9,483.0 409.1,483.0 409.1,475.4 410.3,475.4 410.3,483.0 411.5,483.0 411.5,480.3 412.7,480.3 412.7,475.3 413.9,475.3 413.9,481.4 415.1,481.4 415.1,480.9 416.3,480.9 416.3,482.2 417.5,482.2 417.5,480.4 418.7,480.4 418.7,485.7 419.9,485.7 419.9,482.5 421.1,482.5 421.1,477.5 422.3,477.5 422.3,480.7 423.5,480.7 423.5,481.6 424.7,481.6 424.7,480.3 425.9,480.3 425.9,480.2 427.1,480.2 427.1,480.8 428.3,480.8 428.3,479.9 429.5,479.9 429.5,484.7 430.7,484.7 430.7,479.9 431.9,479.9 431.9,482.6 433.1,482.6 433.1,479.4 434.3,479.4 434.3,481.2 435.5,481.2 435.5,483.3 436.7,483.3 436.7,481.3 437.9,481.3 437.9,483.3 439.1,483.3 439.1,479.0 440.3,479.0 440.3,481.2 441.5,481.2 441.5,479.3 442.7,479.3 442.7,483.5 443.9,483.5 443.9,477.7 445.1,477.7 445.1,481.8 446.3,481.8 446.3,478.2 447.5,478.2 447.5,479.3 448.7,479.3 448.7,483.5 449.9,483.5 449.9,480.4 451.1,480.4 451.1,482.3 452.3,482.3 452.3,480.2 453.5,480.2 453.5,478.1 454.7,478.1 454.7,479.6 455.9,479.6 455.9,478.8 457.1,478.8 457.1,483.6 458.3,483.6 458.3,480.7 459.5,480.7 459.5,480.4 460.7,480.4 460.7,478.8 461.9,478.8 461.9,482.5 463.1,482.5 463.1,479.9 464.3,479.9 464.3,480.2 465.5,480.2 465.5,484.4 466.7,484.4 466.7,483.4 467.9,483.4 467.9,480.2 469.1,480.2 469.1,483.6 470.3,483.6 470.3,483.8 471.5,483.8 471.5,479.2 472.7,479.2 472.7,480.5 473.9,480.5 473.9,481.6 475.1,481.6 475.1,480.9 476.3,480.9 476.3,482.0 477.5,482.0 477.5,486.4 478.7,486.4 478.7,486.4 479.9,486.4 479.9,486.4 481.1,486.4 481.1,486.4 482.3,486.4 482.3,486.4 483.5,486.4 483.5,486.4 484.7,486.4 484.7,486.4 485.9,486.4 485.9,486.4 487.1,486.4 487.1,486.4 488.3,486.4 488.3,486.4 489.5,486.4 489.5,486.4 490.7,486.4 490.7,486.4 491.9,486.4 491.9,486.4 493.1,486.4 493.1,486.4 494.3,486.4 494.3,486.4 495.5,486.4 495.5,486.4 496.7,486.4 496.7,486.4 497.9,486.4 497.9,486.4 499.1,486.4 499.1,486.4 500.3,486.4 500.3,486.4 501.5,486.4 501.5,486.4 502.7,486.4" fill="none" stroke="#2cc02c" stroke-width="1.0" stroke-dasharray="4,1.5" stroke-opacity="1"/>
<polyline points="292.7,481.6 293.7,481.6 293.7,478.0 294.7,478.0 294.7,479.1 295.7,479.1 295.7,479.1 296.7,479.1 296.7,476.1 297.7,476.1 297.7,485.6 298.7,485.6 298.7,483.7 299.7,483.7 299.7,486.0 300.7,486.0 300.7,481.9 301.7,481.9 301.7,478.2 302.7,478.2 302.7,481.6 303.7,481.6 303.7,479.9 304.7,479.9 304.7,486.4 305.7,486.4 305.7,481.1 306.7,481.1 306.7,484.6 307.7,484.6 307.7,475.6 308.7,475.6 308.7,478.6 309.7,478.6 309.7,478.4 310.7,478.4 310.7,481.8 311.7,481.8 311.7,479.5 312.7,479.5 312.7,479.3 313.7,479.3 313.7,482.7 314.7,482.7 314.7,483.2 315.7,483.2 315.7,481.9 316.7,481.9 316.7,483.6 317.7,483.6 317.7,483.6 318.7,483.6 318.7,482.5 319.7,482.5 319.7,484.0 320.7,484.0 320.7,479.0 321.7,479.0 321.7,486.4 322.7,486.4 322.7,478.8 323.7,478.8 323.7,483.7 324.7,483.7 324.7,483.4 325.7,483.4 325.7,486.1 326.7,486.1 326.7,482.0 327.7,482.0 327.7,482.4 328.7,482.4 328.7,480.9 329.7,480.9 329.7,483.4 330.7,483.4 330.7,481.2 331.7,481.2 331.7,475.4 332.7,475.4 332.7,480.2 333.7,480.2 333.7,483.5 334.7,483.5 334.7,478.4 335.7,478.4 335.7,482.0 336.7,482.0 336.7,479.6 337.7,479.6 337.7,479.5 338.7,479.5 338.7,482.9 339.7,482.9 339.7,486.4 340.7,486.4 340.7,482.7 341.7,482.7 341.7,479.7 342.7,479.7 342.7,482.8 343.7,482.8 343.7,480.1 344.7,480.1 344.7,478.3 345.7,478.3 345.7,483.4 346.7,483.4 346.7,477.4 347.7,477.4 347.7,476.1 348.7,476.1 348.7,477.9 349.7,477.9 349.7,477.6 350.7,477.6 350.7,477.9 351.7,477.9 351.7,474.0 352.7,474.0 352.7,480.9 353.7,480.9 353.7,481.5 354.7,481.5 354.7,479.5 355.7,479.5 355.7,484.6 356.7,484.6 356.7,486.4 357.7,486.4 357.7,484.5 358.7,484.5 358.7,480.2 359.7,480.2 359.7,479.9 360.7,479.9 360.7,486.4 361.7,486.4 361.7,486.4 362.7,486.4 362.7,482.5 363.7,482.5 363.7,482.0 364.7,482.0 364.7,481.5 365.7,481.5 365.7,479.0 366.7,479.0 366.7,477.1 367.7,477.1 367.7,480.4 368.7,480.4 368.7,479.0 369.7,479.0 369.7,484.8 370.7,484.8 370.7,485.0 371.7,485.0 371.7,480.0 372.7,480.0 372.7,478.4 373.7,478.4 373.7,478.0 374.7,478.0 374.7,478.3 375.7,478.3 375.7,477.4 376.7,477.4 376.7,477.0 377.7,477.0 377.7,486.2 378.7,486.2 378.7,482.1 379.7,482.1 379.7,477.3 380.7,477.3 380.7,476.4 381.7,476.4 381.7,484.2 382.7,484.2 382.7,473.1 383.7,473.1 383.7,479.0 384.7,479.0 384.7,477.6 385.7,477.6 385.7,474.8 386.7,474.8 386.7,471.9 387.7,471.9 387.7,480.7 388.7,480.7 388.7,469.0 389.7,469.0 389.7,472.1 390.7,472.1 390.7,475.1 391.7,475.1 391.7,471.6 392.7,471.6 392.7,480.0 393.7,480.0 393.7,471.0 394.7,471.0 394.7,465.3 395.7,465.3 395.7,468.6 396.7,468.6 396.7,464.9 397.7,464.9 397.7,462.2 398.7,462.2 398.7,459.2 399.7,459.2 399.7,451.4 400.7,451.4 400.7,455.7 401.7,455.7 401.7,455.1 402.7,455.1 402.7,447.8 403.7,447.8 403.7,435.2 404.7,435.2 404.7,449.2 405.7,449.2 405.7,440.9 406.7,440.9 406.7,453.4 407.7,453.4 407.7,429.9 408.7,429.9 408.7,432.5 409.7,432.5 409.7,424.9 410.7,424.9 410.7,433.1 411.7,433.1 411.7,438.5 412.7,438.5 412.7,421.0 413.7,421.0 413.7,419.8 414.7,419.8 414.7,430.9 415.7,430.9 415.7,434.1 416.7,434.1 416.7,416.1 417.7,416.1 417.7,419.7 418.7,419.7 418.7,394.1 419.7,394.1 419.7,420.5 420.7,420.5 420.7,418.5 421.7,418.5 421.7,413.8 422.7,413.8 422.7,426.7 423.7,426.7 423.7,419.2 424.7,419.2 424.7,396.2 425.7,396.2 425.7,411.7 426.7,411.7 426.7,416.0 427.7,416.0 427.7,422.1 428.7,422.1 428.7,406.1 429.7,406.1 429.7,406.1 430.7,406.1 430.7,410.5 431.7,410.5 431.7,417.3 432.7,417.3 432.7,412.5 433.7,412.5 433.7,413.4 434.7,413.4 434.7,424.1 435.7,424.1 435.7,414.9 436.7,414.9 436.7,439.6 437.7,439.6 437.7,434.7 438.7,434.7 438.7,428.7 439.7,428.7 439.7,429.3 440.7,429.3 440.7,439.9 441.7,439.9 441.7,430.5 442.7,430.5 442.7,427.4 443.7,427.4 443.7,434.4 444.7,434.4 444.7,438.5 445.7,438.5 445.7,436.5 446.7,436.5 446.7,441.8 447.7,441.8 447.7,454.7 448.7,454.7 448.7,450.4 449.7,450.4 449.7,442.7 450.7,442.7 450.7,460.4 451.7,460.4 451.7,454.7 452.7,454.7 452.7,459.3 453.7,459.3 453.7,464.0 454.7,464.0 454.7,466.2 455.7,466.2 455.7,461.3 456.7,461.3 456.7,461.6 457.7,461.6 457.7,463.0 458.7,463.0 458.7,473.7 459.7,473.7 459.7,468.7 460.7,468.7 460.7,466.6 461.7,466.6 461.7,464.6 462.7,464.6 462.7,467.0 463.7,467.0 463.7,467.2 464.7,467.2 464.7,466.9 465.7,466.9 465.7,469.0 466.7,469.0 466.7,477.2 467.7,477.2 467.7,473.8 468.7,473.8 468.7,477.8 469.7,477.8 469.7,485.5 470.7,485.5 470.7,482.9 471.7,482.9 471.7,467.4 472.7,467.4 472.7,481.2 473.7,481.2 473.7,486.2 474.7,486.2 474.7,479.7 475.7,479.7 475.7,471.6 476.7,471.6 476.7,478.1 477.7,478.1 477.7,476.6 478.7,476.6 478.7,479.5 479.7,479.5 479.7,479.0 480.7,479.0 480.7,480.1 481.7,480.1 481.7,481.7 482.7,481.7 482.7,484.3 483.7,484.3 483.7,481.9 484.7,481.9 484.7,481.6 485.7,481.6 485.7,485.1 486.7,485.1 486.7,484.1 487.7,484.1 487.7,484.3 488.7,484.3 488.7,486.3 489.7,486.3 489.7,482.9 490.7,482.9 490.7,485.5 491.7,485.5 491.7,486.3 492.7,486.3 492.7,486.4 493.7,486.4 493.7,486.4 494.7,486.4 494.7,483.4 495.7,483.4 495.7,486.4 496.7,486.4 496.7,485.2 497.7,485.2 497.7,486.1 498.7,486.1 498.7,485.3 499.7,485.3 499.7,485.3 500.7,485.3 500.7,486.4 501.7,486.4" fill="none" stroke="#d01020" stroke-width="1.7" stroke-dasharray="6,1" stroke-opacity="1"/>
<polyline points="292.7,476.0 293.7,476.0 293.7,486.4 294.7,486.4 294.7,478.9 295.7,478.9 295.7,481.8 296.7,481.8 296.7,477.7 297.7,477.7 297.7,480.7 298.7,480.7 298.7,476.0 299.7,476.0 299.7,481.9 300.7,481.9 300.7,483.7 301.7,483.7 301.7,480.1 302.7,480.1 302.7,480.6 303.7,480.6 303.7,483.2 304.7,483.2 304.7,482.8 305.7,482.8 305.7,479.6 306.7,479.6 306.7,479.7 307.7,479.7 307.7,483.6 308.7,483.6 308.7,483.2 309.7,483.2 309.7,486.4 310.7,486.4 310.7,476.5 311.7,476.5 311.7,482.7 312.7,482.7 312.7,477.6 313.7,477.6 313.7,480.6 314.7,480.6 314.7,475.6 315.7,475.6 315.7,477.0 316.7,477.0 316.7,481.0 317.7,481.0 317.7,477.1 318.7,477.1 318.7,485.1 319.7,485.1 319.7,477.9 320.7,477.9 320.7,486.4 321.7,486.4 321.7,480.9 322.7,480.9 322.7,478.5 323.7,478.5 323.7,481.3 324.7,481.3 324.7,483.2 325.7,483.2 325.7,484.6 326.7,484.6 326.7,483.1 327.7,483.1 327.7,478.6 328.7,478.6 328.7,479.1 329.7,479.1 329.7,482.9 330.7,482.9 330.7,486.1 331.7,486.1 331.7,479.8 332.7,479.8 332.7,486.4 333.7,486.4 333.7,483.7 334.7,483.7 334.7,484.4 335.7,484.4 335.7,479.6 336.7,479.6 336.7,481.2 337.7,481.2 337.7,480.5 338.7,480.5 338.7,481.1 339.7,481.1 339.7,484.2 340.7,484.2 340.7,480.2 341.7,480.2 341.7,477.4 342.7,477.4 342.7,482.1 343.7,482.1 343.7,479.9 344.7,479.9 344.7,482.4 345.7,482.4 345.7,478.6 346.7,478.6 346.7,479.8 347.7,479.8 347.7,479.1 348.7,479.1 348.7,480.8 349.7,480.8 349.7,476.6 350.7,476.6 350.7,483.2 351.7,483.2 351.7,483.1 352.7,483.1 352.7,483.9 353.7,483.9 353.7,479.9 354.7,479.9 354.7,484.0 355.7,484.0 355.7,484.0 356.7,484.0 356.7,479.5 357.7,479.5 357.7,478.0 358.7,478.0 358.7,480.0 359.7,480.0 359.7,486.4 360.7,486.4 360.7,485.0 361.7,485.0 361.7,485.3 362.7,485.3 362.7,485.7 363.7,485.7 363.7,483.0 364.7,483.0 364.7,475.5 365.7,475.5 365.7,482.5 366.7,482.5 366.7,483.9 367.7,483.9 367.7,478.9 368.7,478.9 368.7,480.9 369.7,480.9 369.7,480.6 370.7,480.6 370.7,483.3 371.7,483.3 371.7,480.7 372.7,480.7 372.7,478.9 373.7,478.9 373.7,486.4 374.7,486.4 374.7,485.8 375.7,485.8 375.7,475.7 376.7,475.7 376.7,476.1 377.7,476.1 377.7,480.9 378.7,480.9 378.7,482.4 379.7,482.4 379.7,478.7 380.7,478.7 380.7,482.3 381.7,482.3 381.7,478.2 382.7,478.2 382.7,469.2 383.7,469.2 383.7,474.9 384.7,474.9 384.7,469.5 385.7,469.5 385.7,474.8 386.7,474.8 386.7,471.1 387.7,471.1 387.7,465.2 388.7,465.2 388.7,477.1 389.7,477.1 389.7,471.1 390.7,471.1 390.7,468.9 391.7,468.9 391.7,465.2 392.7,465.2 392.7,456.8 393.7,456.8 393.7,459.9 394.7,459.9 394.7,470.5 395.7,470.5 395.7,461.8 396.7,461.8 396.7,463.8 397.7,463.8 397.7,462.2 398.7,462.2 398.7,441.8 399.7,441.8 399.7,459.3 400.7,459.3 400.7,448.8 401.7,448.8 401.7,453.0 402.7,453.0 402.7,440.0 403.7,440.0 403.7,441.2 404.7,441.2 404.7,440.5 405.7,440.5 405.7,439.7 406.7,439.7 406.7,428.4 407.7,428.4 407.7,441.7 408.7,441.7 408.7,438.0 409.7,438.0 409.7,439.0 410.7,439.0 410.7,417.4 411.7,417.4 411.7,428.3 412.7,428.3 412.7,432.5 413.7,432.5 413.7,425.6 414.7,425.6 414.7,399.3 415.7,399.3 415.7,419.6 416.7,419.6 416.7,409.9 417.7,409.9 417.7,411.9 418.7,411.9 418.7,414.8 419.7,414.8 419.7,419.8 420.7,419.8 420.7,415.8 421.7,415.8 421.7,415.3 422.7,415.3 422.7,431.3 423.7,431.3 423.7,388.6 424.7,388.6 424.7,403.3 425.7,403.3 425.7,410.6 426.7,410.6 426.7,413.9 427.7,413.9 427.7,419.6 428.7,419.6 428.7,405.2 429.7,405.2 429.7,416.2 430.7,416.2 430.7,411.6 431.7,411.6 431.7,429.0 432.7,429.0 432.7,415.5 433.7,415.5 433.7,403.6 434.7,403.6 434.7,424.6 435.7,424.6 435.7,417.6 436.7,417.6 436.7,425.9 437.7,425.9 437.7,419.5 438.7,419.5 438.7,422.1 439.7,422.1 439.7,432.3 440.7,432.3 440.7,439.2 441.7,439.2 441.7,435.1 442.7,435.1 442.7,439.2 443.7,439.2 443.7,446.2 444.7,446.2 444.7,440.7 445.7,440.7 445.7,443.1 446.7,443.1 446.7,454.2 447.7,454.2 447.7,451.0 448.7,451.0 448.7,433.4 449.7,433.4 449.7,449.0 450.7,449.0 450.7,455.4 451.7,455.4 451.7,442.5 452.7,442.5 452.7,462.1 453.7,462.1 453.7,475.3 454.7,475.3 454.7,473.2 455.7,473.2 455.7,472.2 456.7,472.2 456.7,463.7 457.7,463.7 457.7,461.1 458.7,461.1 458.7,478.7 459.7,478.7 459.7,462.8 460.7,462.8 460.7,475.6 461.7,475.6 461.7,469.2 462.7,469.2 462.7,469.0 463.7,469.0 463.7,470.0 464.7,470.0 464.7,472.7 465.7,472.7 465.7,472.7 466.7,472.7 466.7,479.2 467.7,479.2 467.7,473.4 468.7,473.4 468.7,470.9 469.7,470.9 469.7,471.7 470.7,471.7 470.7,465.1 471.7,465.1 471.7,472.0 472.7,472.0 472.7,473.9 473.7,473.9 473.7,470.5 474.7,470.5 474.7,476.6 475.7,476.6 475.7,483.0 476.7,483.0 476.7,486.4 477.7,486.4 477.7,473.5 478.7,473.5 478.7,476.5 479.7,476.5 479.7,475.7 480.7,475.7 480.7,480.4 481.7,480.4 481.7,478.0 482.7,478.0 482.7,472.5 483.7,472.5 483.7,478.4 484.7,478.4 484.7,483.9 485.7,483.9 485.7,481.6 486.7,481.6 486.7,475.1 487.7,475.1 487.7,486.4 488.7,486.4 488.7,486.4 489.7,486.4 489.7,486.4 490.7,486.4 490.7,486.4 491.7,486.4 491.7,483.6 492.7,483.6 492.7,485.0 493.7,485.0 493.7,486.4 494.7,486.4 494.7,486.4 495.7,486.4 495.7,485.6 496.7,485.6 496.7,485.7 497.7,485.7 497.7,486.3 498.7,486.3 498.7,486.0 499.7,486.0 499.7,486.4 500.7,486.4 500.7,483.8 501.7,483.8" fill="none" stroke="#111" stroke-width="1.6" stroke-dasharray="6,1" stroke-opacity="1"/>
<text transform="translate(297.32,370.95) scale(1.0747,1)" font-size="17.206" font-family='"Liberation Mono", monospace' fill="#000" stroke="#000" stroke-width="0.300" vector-effect="non-scaling-stroke">DIOC2</text>
<text transform="translate(298.35,404.77) scale(0.9766,1)" font-size="18.529" font-family='"Liberation Mono", monospace' fill="#2cc02c" stroke="#2cc02c" stroke-width="0.300" vector-effect="non-scaling-stroke">NO CSA</text>
<text transform="translate(432.15,411.91) scale(1.0793,1)" font-size="16.765" font-family='"Liberation Mono", monospace' fill="#000" stroke="#000" stroke-width="0.300" vector-effect="non-scaling-stroke">BASELINE</text>
<text transform="translate(478.33,441.81) scale(1.0563,1)" font-size="16.765" font-family='"Liberation Mono", monospace' fill="#c4122e" stroke="#c4122e" stroke-width="0.300" vector-effect="non-scaling-stroke">CSA</text>
<path transform="translate(0,1.21)" d="M507.4,359.7 H495.1 V377.6 M495.1,367.9 H504.6" fill="none" stroke="#000" stroke-width="2.5" stroke-linejoin="miter" stroke-linecap="butt"/>
</g>
</svg>
</body></html>
